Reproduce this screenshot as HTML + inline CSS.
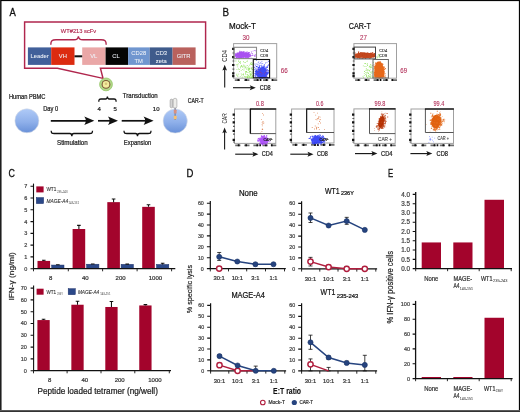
<!DOCTYPE html>
<html><head><meta charset="utf-8"><style>
html,body{margin:0;padding:0;background:#fff;}
svg{display:block;font-family:"Liberation Sans", sans-serif;will-change:transform;}
</style></head><body>
<svg width="520" height="412" viewBox="0 0 520 412">
<rect width="520" height="412" fill="#fff"/>
<text x="9.40" y="15.60" font-size="10.9" fill="#111" textLength="6.3" lengthAdjust="spacingAndGlyphs" stroke="#111" stroke-width="0.3">A</text>
<path d="M24.6,22 H205.6 V68.2 H100.4 L103,78.4 L57.5,68.2 H24.6 Z" fill="none" stroke="#b0264d" stroke-width="1.45"/>
<text x="60.80" y="32.70" font-size="6.2" fill="#b0264d" textLength="35.4" lengthAdjust="spacingAndGlyphs" stroke="#b0264d" stroke-width="0.15">WT#213 scFv</text>
<path d="M50.8,44.8 C50.8,40.5 52,39.8 56,39.8 H74 C77,39.8 78.2,38.5 78.4,36.2 C78.6,38.5 79.8,39.8 83,39.8 H101 C105,39.8 106.2,40.5 106.2,44.8" fill="none" stroke="#b0264d" stroke-width="1.4"/>
<rect x="27.9" y="47.4" width="23.30" height="17.5" fill="#41609a"/>
<rect x="51.2" y="47.4" width="23.30" height="17.5" fill="#dc2b10"/>
<rect x="82.2" y="47.4" width="23.40" height="17.5" fill="#eaa7a7"/>
<rect x="105.6" y="47.4" width="22.50" height="17.5" fill="#050505"/>
<rect x="128.1" y="47.4" width="21.60" height="17.5" fill="#7096cf"/>
<rect x="149.7" y="47.4" width="22.90" height="17.5" fill="#3f5b8b"/>
<rect x="172.6" y="47.4" width="23.00" height="17.5" fill="#b9615d"/>
<rect x="74.5" y="55.3" width="7.7" height="2" fill="#111"/>
<text x="39.60" y="58.40" font-size="5.8" fill="#eef2f8" text-anchor="middle" textLength="18.3" lengthAdjust="spacingAndGlyphs" stroke="#eef2f8" stroke-width="0.06">Leader</text>
<text x="62.90" y="58.40" font-size="5.8" fill="#eef2f8" text-anchor="middle" stroke="#eef2f8" stroke-width="0.06">VH</text>
<text x="93.70" y="58.40" font-size="5.8" fill="#eef2f8" text-anchor="middle" stroke="#eef2f8" stroke-width="0.06">VL</text>
<text x="116.00" y="58.40" font-size="5.8" fill="#eef2f8" text-anchor="middle" stroke="#eef2f8" stroke-width="0.06">CL</text>
<text x="138.70" y="55.20" font-size="5.8" fill="#eef2f8" text-anchor="middle" stroke="#eef2f8" stroke-width="0.06">CD28</text>
<text x="138.70" y="62.60" font-size="5.8" fill="#eef2f8" text-anchor="middle" stroke="#eef2f8" stroke-width="0.06">TM</text>
<text x="161.30" y="55.20" font-size="5.8" fill="#eef2f8" text-anchor="middle" stroke="#eef2f8" stroke-width="0.06">CD3</text>
<text x="161.30" y="62.60" font-size="5.8" fill="#eef2f8" text-anchor="middle" stroke="#eef2f8" stroke-width="0.06">zeta</text>
<text x="183.60" y="58.40" font-size="5.8" fill="#eef2f8" text-anchor="middle" stroke="#eef2f8" stroke-width="0.06">GITR</text>
<circle cx="106" cy="84.4" r="6.4" fill="#b3d88a" stroke="#96c668" stroke-width="0.8"/>
<circle cx="106" cy="84.4" r="4.4" fill="#7d5836"/>
<circle cx="106" cy="84.4" r="3.3" fill="#f3ec9e"/>
<circle cx="106" cy="83.8" r="1.3" fill="#d6c47a"/>
<text x="8.90" y="99.00" font-size="6.4" fill="#222" textLength="36.6" lengthAdjust="spacingAndGlyphs" stroke="#222" stroke-width="0.22">Human PBMC</text>
<defs><linearGradient id="cg" x1="0" y1="0" x2="0" y2="1"><stop offset="0" stop-color="#afcaf7"/><stop offset="0.55" stop-color="#8fb0ea"/><stop offset="1" stop-color="#6890d8"/></linearGradient></defs>
<circle cx="26.9" cy="120.8" r="12.0" fill="url(#cg)" stroke="#d6dbe6" stroke-width="0.6"/>
<text x="43.20" y="110.70" font-size="6.4" fill="#222" textLength="14.9" lengthAdjust="spacingAndGlyphs" stroke="#222" stroke-width="0.22">Day 0</text>
<text x="97.60" y="110.50" font-size="6.0" fill="#222" stroke="#222" stroke-width="0.22">4</text>
<text x="113.60" y="110.50" font-size="6.0" fill="#222" stroke="#222" stroke-width="0.22">5</text>
<text x="152.80" y="110.50" font-size="6.0" fill="#222" stroke="#222" stroke-width="0.22">10</text>
<path d="M50.8,120.8 H86.3" stroke="#111" stroke-width="1.7"/>
<path d="M94.3,120.8 L84.3,116.6 Q87.3,120.8 84.3,125.0 Z" fill="#111"/>
<path d="M98.0,120.8 H110.0" stroke="#111" stroke-width="1.7"/>
<path d="M118.0,120.8 L108.0,116.6 Q111.0,120.8 108.0,125.0 Z" fill="#111"/>
<path d="M121.7,120.8 H145.6" stroke="#111" stroke-width="1.7"/>
<path d="M153.6,120.8 L143.6,116.6 Q146.6,120.8 143.6,125.0 Z" fill="#111"/>
<path d="M51.2,130.8 C51.2,133.5 52.2,133.5 54.2,133.5 H69.85 C71.25,133.5 71.85,134.0 71.85,136.2 C71.85,134.0 72.44999999999999,133.5 73.85,133.5 H89.5 C91.5,133.5 92.5,133.5 92.5,130.8" fill="none" stroke="#111" stroke-width="1.3"/>
<path d="M124.0,130.8 C124.0,133.5 125.0,133.5 127.0,133.5 H135.5 C136.9,133.5 137.5,134.0 137.5,136.2 C137.5,134.0 138.1,133.5 139.5,133.5 H148.0 C150.0,133.5 151.0,133.5 151.0,130.8" fill="none" stroke="#111" stroke-width="1.3"/>
<path d="M98.8,101.8 C98.8,99.3 99.3,99 101,99 H105.6 C106.8,99 107.2,98.4 107.4,96.5 C107.6,98.4 108,99 109.2,99 H114 C115.6,99 116.1,99.3 116.1,101.8" fill="none" stroke="#111" stroke-width="1.3"/>
<text x="57.00" y="145.00" font-size="6.4" fill="#222" textLength="30.8" lengthAdjust="spacingAndGlyphs" stroke="#222" stroke-width="0.22">Stimulation</text>
<text x="123.80" y="145.30" font-size="6.4" fill="#222" textLength="27.5" lengthAdjust="spacingAndGlyphs" stroke="#222" stroke-width="0.22">Expansion</text>
<text x="122.80" y="98.20" font-size="6.4" fill="#222" textLength="34.9" lengthAdjust="spacingAndGlyphs" stroke="#222" stroke-width="0.22">Transduction</text>
<circle cx="175.2" cy="121.0" r="12.1" fill="url(#cg)" stroke="#d6dbe6" stroke-width="0.6"/>
<rect x="170.1" y="99.1" width="2.8" height="8.7" rx="1.4" fill="#d4d4d4" stroke="#8c8c8c" stroke-width="0.5"/>
<rect x="173.2" y="98.3" width="3.7" height="9.9" rx="1.7" fill="#ededea" stroke="#8c8c8c" stroke-width="0.5"/>
<path d="M175.1,107.8 V120" stroke="#4a5470" stroke-width="0.7"/>
<rect x="173.8" y="109.7" width="2.8" height="3.8" rx="0.5" fill="#d8907f"/>
<rect x="173.8" y="115.7" width="2.8" height="3.6" rx="0.5" fill="#f7c070"/>
<text x="187.80" y="102.80" font-size="6.4" fill="#222" textLength="15.8" lengthAdjust="spacingAndGlyphs" stroke="#222" stroke-width="0.22">CAR-T</text>
<text x="222.60" y="15.70" font-size="10.9" fill="#111" textLength="6.55" lengthAdjust="spacingAndGlyphs" stroke="#111" stroke-width="0.3">B</text>
<text x="229.00" y="28.80" font-size="8.2" fill="#111" textLength="26.8" lengthAdjust="spacingAndGlyphs" stroke="#111" stroke-width="0.22">Mock-T</text>
<text x="348.80" y="29.00" font-size="8.2" fill="#111" textLength="22.0" lengthAdjust="spacingAndGlyphs" stroke="#111" stroke-width="0.22">CAR-T</text>
<rect x="233.6" y="43.6" width="43.10" height="34.60" fill="#fff" stroke="#a0a0a0" stroke-width="1.0"/>
<path d="M232.1 47.8h2.3v2.2h-2.3zM232.1 56.1h2.3v2.2h-2.3zM232.1 63.9h2.3v2.2h-2.3zM232.1 72.3h2.3v2.2h-2.3zM232.1 75.1h2.3v2.2h-2.3z" fill="#111"/>
<path d="M232.5 52.4h1.8v1.2h-1.8zM232.5 60.4h1.8v1.2h-1.8zM232.5 68.6h1.8v1.2h-1.8z" fill="#555"/>
<path d="M234.8 79.2h5.2v1.8h-5.2zM244.2 79.2h5.2v1.8h-5.2zM253.6 79.2h5.2v1.8h-5.2zM263.0 79.2h5.2v1.8h-5.2zM272.0 79.2h5.2v1.8h-5.2z" fill="#555" fill-opacity="0.85"/>
<path d="M237.5 79.0h1.7v2.1h-1.7zM245.2 79.0h1.7v2.1h-1.7zM256.7 79.0h1.7v2.1h-1.7zM259.7 79.0h1.7v2.1h-1.7zM265.7 79.0h1.7v2.1h-1.7zM271.6 79.0h1.7v2.1h-1.7z" fill="#111"/>
<path d="M236.5 68.9h0.8v0.8h-0.8zM243.1 61.2h0.8v0.8h-0.8zM242.9 74.6h0.8v0.8h-0.8zM247.4 67.5h0.8v0.8h-0.8zM245.7 68.0h0.8v0.8h-0.8zM249.4 72.3h0.8v0.8h-0.8zM238.2 68.6h0.8v0.8h-0.8zM250.2 76.6h0.8v0.8h-0.8zM242.4 67.0h0.8v0.8h-0.8zM246.6 61.1h0.8v0.8h-0.8zM237.3 66.4h0.8v0.8h-0.8zM250.8 70.8h0.8v0.8h-0.8zM243.7 68.5h0.8v0.8h-0.8zM250.0 62.8h0.8v0.8h-0.8zM252.1 69.3h0.8v0.8h-0.8zM252.6 75.2h0.8v0.8h-0.8zM240.1 66.5h0.8v0.8h-0.8zM252.7 75.0h0.8v0.8h-0.8zM249.8 73.0h0.8v0.8h-0.8zM244.6 66.3h0.8v0.8h-0.8zM247.6 76.8h0.8v0.8h-0.8zM251.3 74.8h0.8v0.8h-0.8zM246.9 74.1h0.8v0.8h-0.8zM248.6 68.4h0.8v0.8h-0.8zM252.5 67.0h0.8v0.8h-0.8zM252.1 72.8h0.8v0.8h-0.8zM252.7 71.6h0.8v0.8h-0.8zM245.1 62.3h0.8v0.8h-0.8zM252.5 71.4h0.8v0.8h-0.8zM250.0 63.7h0.8v0.8h-0.8zM240.0 67.4h0.8v0.8h-0.8zM245.7 75.9h0.8v0.8h-0.8zM251.6 68.8h0.8v0.8h-0.8zM245.2 73.8h0.8v0.8h-0.8zM248.8 76.1h0.8v0.8h-0.8zM250.8 76.6h0.8v0.8h-0.8zM236.8 64.2h0.8v0.8h-0.8zM246.4 69.0h0.8v0.8h-0.8zM237.3 64.7h0.8v0.8h-0.8zM249.1 64.8h0.8v0.8h-0.8zM245.5 72.3h0.8v0.8h-0.8zM239.7 61.9h0.8v0.8h-0.8zM240.8 73.4h0.8v0.8h-0.8zM235.8 64.4h0.8v0.8h-0.8zM248.3 69.7h0.8v0.8h-0.8zM243.8 76.4h0.8v0.8h-0.8zM247.5 77.3h0.8v0.8h-0.8zM242.6 66.1h0.8v0.8h-0.8zM240.0 62.9h0.8v0.8h-0.8zM250.2 75.3h0.8v0.8h-0.8zM240.9 66.3h0.8v0.8h-0.8zM239.0 68.9h0.8v0.8h-0.8zM250.9 66.9h0.8v0.8h-0.8zM247.5 72.2h0.8v0.8h-0.8zM252.6 68.7h0.8v0.8h-0.8zM246.3 71.3h0.8v0.8h-0.8zM240.8 70.0h0.8v0.8h-0.8zM247.6 71.9h0.8v0.8h-0.8zM237.6 75.7h0.8v0.8h-0.8zM252.6 76.5h0.8v0.8h-0.8zM243.4 64.7h0.8v0.8h-0.8zM251.0 72.4h0.8v0.8h-0.8zM251.2 68.6h0.8v0.8h-0.8zM241.0 74.8h0.8v0.8h-0.8zM248.6 74.8h0.8v0.8h-0.8zM253.0 70.4h0.8v0.8h-0.8zM243.0 64.8h0.8v0.8h-0.8zM251.9 64.4h0.8v0.8h-0.8zM252.2 75.6h0.8v0.8h-0.8zM245.1 72.7h0.8v0.8h-0.8zM246.8 65.0h0.8v0.8h-0.8zM251.4 68.7h0.8v0.8h-0.8zM251.4 77.5h0.8v0.8h-0.8zM237.9 63.4h0.8v0.8h-0.8zM250.6 63.8h0.8v0.8h-0.8zM239.8 61.9h0.8v0.8h-0.8zM243.5 69.7h0.8v0.8h-0.8zM246.8 65.3h0.8v0.8h-0.8zM245.7 66.8h0.8v0.8h-0.8zM251.0 68.4h0.8v0.8h-0.8zM247.3 67.4h0.8v0.8h-0.8zM247.2 76.3h0.8v0.8h-0.8zM248.4 68.9h0.8v0.8h-0.8zM247.1 76.7h0.8v0.8h-0.8zM238.0 60.9h0.8v0.8h-0.8zM241.7 76.8h0.8v0.8h-0.8zM249.9 74.5h0.8v0.8h-0.8zM249.7 73.5h0.8v0.8h-0.8zM241.0 64.9h0.8v0.8h-0.8zM248.7 76.1h0.8v0.8h-0.8zM244.1 76.3h0.8v0.8h-0.8zM249.0 70.7h0.8v0.8h-0.8zM239.8 61.1h0.8v0.8h-0.8zM251.0 77.4h0.8v0.8h-0.8zM247.9 67.9h0.8v0.8h-0.8zM246.9 77.4h0.8v0.8h-0.8zM245.7 76.4h0.8v0.8h-0.8zM250.7 67.9h0.8v0.8h-0.8zM249.1 76.6h0.8v0.8h-0.8zM245.9 70.9h0.8v0.8h-0.8zM245.1 71.2h0.8v0.8h-0.8zM242.9 74.4h0.8v0.8h-0.8zM250.9 68.1h0.8v0.8h-0.8zM242.0 68.9h0.8v0.8h-0.8zM252.4 63.5h0.8v0.8h-0.8zM252.0 77.2h0.8v0.8h-0.8zM238.3 73.8h0.8v0.8h-0.8zM244.6 66.8h0.8v0.8h-0.8zM236.2 74.8h0.8v0.8h-0.8zM249.1 68.1h0.8v0.8h-0.8zM243.8 61.9h0.8v0.8h-0.8zM242.1 76.7h0.8v0.8h-0.8zM250.5 77.5h0.8v0.8h-0.8zM251.6 63.7h0.8v0.8h-0.8zM244.4 65.6h0.8v0.8h-0.8zM247.4 75.8h0.8v0.8h-0.8zM242.4 74.0h0.8v0.8h-0.8zM252.8 70.2h0.8v0.8h-0.8zM248.9 67.8h0.8v0.8h-0.8zM245.8 71.7h0.8v0.8h-0.8zM235.5 60.6h0.8v0.8h-0.8zM251.2 62.3h0.8v0.8h-0.8zM246.9 60.4h0.8v0.8h-0.8zM250.7 73.8h0.8v0.8h-0.8zM239.8 75.9h0.8v0.8h-0.8zM244.8 67.1h0.8v0.8h-0.8zM236.5 73.7h0.8v0.8h-0.8zM245.1 76.6h0.8v0.8h-0.8zM246.7 74.3h0.8v0.8h-0.8zM240.9 65.3h0.8v0.8h-0.8zM251.1 73.8h0.8v0.8h-0.8zM249.3 69.2h0.8v0.8h-0.8zM246.7 77.0h0.8v0.8h-0.8zM247.7 75.1h0.8v0.8h-0.8zM248.2 70.0h0.8v0.8h-0.8zM239.2 71.0h0.8v0.8h-0.8zM251.4 62.5h0.8v0.8h-0.8zM238.0 60.5h0.8v0.8h-0.8zM251.5 76.6h0.8v0.8h-0.8zM239.1 62.0h0.8v0.8h-0.8zM250.3 74.3h0.8v0.8h-0.8zM249.9 71.1h0.8v0.8h-0.8zM248.0 66.5h0.8v0.8h-0.8zM243.1 73.6h0.8v0.8h-0.8zM247.8 69.5h0.8v0.8h-0.8zM248.8 77.2h0.8v0.8h-0.8zM249.3 71.1h0.8v0.8h-0.8zM237.0 75.6h0.8v0.8h-0.8zM241.6 65.7h0.8v0.8h-0.8zM251.0 64.2h0.8v0.8h-0.8z" fill="#8fe35a" fill-opacity="0.95"/>
<path d="M251.8 55.3h0.8v0.8h-0.8zM255.1 50.4h0.8v0.8h-0.8zM250.9 51.2h0.8v0.8h-0.8zM252.0 53.7h0.8v0.8h-0.8zM251.0 52.0h0.8v0.8h-0.8zM251.1 57.8h0.8v0.8h-0.8zM254.4 49.9h0.8v0.8h-0.8zM255.8 49.9h0.8v0.8h-0.8zM252.3 57.9h0.8v0.8h-0.8zM254.8 55.6h0.8v0.8h-0.8zM252.6 50.8h0.8v0.8h-0.8zM253.8 50.0h0.8v0.8h-0.8z" fill="#9426ee" fill-opacity="0.6"/>
<path d="M242.5 55.8h1.0v1.0h-1.0zM245.3 54.8h1.0v1.0h-1.0zM243.0 52.4h1.0v1.0h-1.0zM236.0 54.5h1.0v1.0h-1.0zM239.4 54.7h1.0v1.0h-1.0zM238.3 53.6h1.0v1.0h-1.0zM241.0 51.4h1.0v1.0h-1.0zM236.9 55.3h1.0v1.0h-1.0zM241.5 53.0h1.0v1.0h-1.0zM242.3 56.7h1.0v1.0h-1.0zM246.4 52.8h1.0v1.0h-1.0zM239.1 51.9h1.0v1.0h-1.0zM239.1 52.7h1.0v1.0h-1.0zM238.3 54.8h1.0v1.0h-1.0zM240.3 54.0h1.0v1.0h-1.0zM235.5 55.7h1.0v1.0h-1.0zM240.2 52.6h1.0v1.0h-1.0zM241.5 56.0h1.0v1.0h-1.0zM236.3 55.0h1.0v1.0h-1.0zM236.6 55.6h1.0v1.0h-1.0zM243.7 54.1h1.0v1.0h-1.0zM237.7 52.5h1.0v1.0h-1.0zM238.0 55.5h1.0v1.0h-1.0zM242.6 54.4h1.0v1.0h-1.0zM239.3 54.3h1.0v1.0h-1.0zM243.3 51.2h1.0v1.0h-1.0zM239.7 54.4h1.0v1.0h-1.0zM237.2 53.7h1.0v1.0h-1.0zM240.5 52.9h1.0v1.0h-1.0zM236.8 52.5h1.0v1.0h-1.0zM237.5 54.3h1.0v1.0h-1.0zM244.0 54.2h1.0v1.0h-1.0zM239.9 53.2h1.0v1.0h-1.0zM241.7 53.8h1.0v1.0h-1.0zM245.1 54.4h1.0v1.0h-1.0zM244.4 54.9h1.0v1.0h-1.0zM241.0 54.6h1.0v1.0h-1.0zM237.9 55.2h1.0v1.0h-1.0zM240.3 53.3h1.0v1.0h-1.0zM241.2 55.5h1.0v1.0h-1.0zM241.0 51.2h1.0v1.0h-1.0zM238.8 54.3h1.0v1.0h-1.0zM242.7 53.2h1.0v1.0h-1.0zM242.0 55.2h1.0v1.0h-1.0zM242.7 52.0h1.0v1.0h-1.0zM238.6 53.3h1.0v1.0h-1.0zM238.9 54.1h1.0v1.0h-1.0zM245.0 54.2h1.0v1.0h-1.0zM236.9 52.5h1.0v1.0h-1.0zM243.3 53.1h1.0v1.0h-1.0zM240.1 56.2h1.0v1.0h-1.0zM246.7 56.4h1.0v1.0h-1.0zM236.8 56.7h1.0v1.0h-1.0zM241.1 55.9h1.0v1.0h-1.0zM241.4 56.0h1.0v1.0h-1.0zM241.6 54.6h1.0v1.0h-1.0zM240.9 53.4h1.0v1.0h-1.0zM241.6 55.7h1.0v1.0h-1.0zM237.4 54.7h1.0v1.0h-1.0zM237.8 52.9h1.0v1.0h-1.0zM235.7 56.9h1.0v1.0h-1.0zM242.3 54.1h1.0v1.0h-1.0zM245.5 51.8h1.0v1.0h-1.0zM242.0 53.7h1.0v1.0h-1.0zM244.2 52.8h1.0v1.0h-1.0zM242.1 54.5h1.0v1.0h-1.0zM246.9 53.9h1.0v1.0h-1.0zM241.5 55.1h1.0v1.0h-1.0zM243.3 55.3h1.0v1.0h-1.0zM242.1 53.2h1.0v1.0h-1.0zM246.3 57.0h1.0v1.0h-1.0zM242.1 53.7h1.0v1.0h-1.0zM245.6 53.3h1.0v1.0h-1.0zM242.6 52.5h1.0v1.0h-1.0zM246.9 53.0h1.0v1.0h-1.0zM242.9 53.7h1.0v1.0h-1.0zM239.8 52.9h1.0v1.0h-1.0zM241.3 53.0h1.0v1.0h-1.0zM245.2 53.3h1.0v1.0h-1.0zM241.2 55.5h1.0v1.0h-1.0zM244.4 55.8h1.0v1.0h-1.0zM245.6 55.1h1.0v1.0h-1.0zM244.3 55.8h1.0v1.0h-1.0zM236.6 54.5h1.0v1.0h-1.0zM241.8 54.4h1.0v1.0h-1.0zM243.9 53.2h1.0v1.0h-1.0zM236.2 53.7h1.0v1.0h-1.0zM243.5 53.4h1.0v1.0h-1.0zM246.4 55.4h1.0v1.0h-1.0zM240.9 54.2h1.0v1.0h-1.0zM236.9 53.2h1.0v1.0h-1.0zM244.7 54.0h1.0v1.0h-1.0zM246.1 54.3h1.0v1.0h-1.0zM247.6 55.0h1.0v1.0h-1.0zM239.0 53.6h1.0v1.0h-1.0zM243.9 53.5h1.0v1.0h-1.0zM236.8 54.8h1.0v1.0h-1.0zM241.8 53.5h1.0v1.0h-1.0zM237.7 55.1h1.0v1.0h-1.0zM234.6 53.6h1.0v1.0h-1.0zM239.6 57.0h1.0v1.0h-1.0zM237.7 55.4h1.0v1.0h-1.0zM240.9 56.1h1.0v1.0h-1.0zM247.1 54.2h1.0v1.0h-1.0zM242.4 53.3h1.0v1.0h-1.0zM240.2 55.6h1.0v1.0h-1.0zM236.8 53.5h1.0v1.0h-1.0zM241.7 54.1h1.0v1.0h-1.0zM240.1 51.6h1.0v1.0h-1.0zM240.3 54.4h1.0v1.0h-1.0zM241.4 54.6h1.0v1.0h-1.0zM244.7 57.4h1.0v1.0h-1.0zM237.1 53.2h1.0v1.0h-1.0zM243.6 51.5h1.0v1.0h-1.0zM237.4 53.2h1.0v1.0h-1.0zM237.3 53.0h1.0v1.0h-1.0zM236.7 53.3h1.0v1.0h-1.0zM242.9 56.5h1.0v1.0h-1.0zM235.1 55.1h1.0v1.0h-1.0zM243.5 55.0h1.0v1.0h-1.0zM248.1 55.1h1.0v1.0h-1.0zM246.4 53.4h1.0v1.0h-1.0zM236.6 56.4h1.0v1.0h-1.0zM242.6 52.7h1.0v1.0h-1.0zM241.3 55.7h1.0v1.0h-1.0zM238.5 55.1h1.0v1.0h-1.0zM236.4 55.3h1.0v1.0h-1.0zM242.7 54.3h1.0v1.0h-1.0zM240.5 54.3h1.0v1.0h-1.0zM246.7 56.2h1.0v1.0h-1.0zM240.9 54.6h1.0v1.0h-1.0zM237.5 55.7h1.0v1.0h-1.0zM251.6 53.0h1.0v1.0h-1.0zM237.5 54.7h1.0v1.0h-1.0zM246.0 55.7h1.0v1.0h-1.0zM242.0 55.3h1.0v1.0h-1.0zM241.9 54.5h1.0v1.0h-1.0zM240.7 53.8h1.0v1.0h-1.0zM243.1 54.4h1.0v1.0h-1.0zM242.9 54.0h1.0v1.0h-1.0zM247.7 54.7h1.0v1.0h-1.0zM241.8 56.8h1.0v1.0h-1.0zM242.0 54.9h1.0v1.0h-1.0zM242.4 52.3h1.0v1.0h-1.0zM245.4 52.7h1.0v1.0h-1.0zM246.2 55.5h1.0v1.0h-1.0zM240.4 53.0h1.0v1.0h-1.0zM244.2 54.1h1.0v1.0h-1.0zM247.5 54.0h1.0v1.0h-1.0zM242.2 54.5h1.0v1.0h-1.0zM237.3 52.4h1.0v1.0h-1.0zM244.5 55.1h1.0v1.0h-1.0zM241.2 53.7h1.0v1.0h-1.0zM244.4 53.3h1.0v1.0h-1.0zM245.0 55.0h1.0v1.0h-1.0zM237.8 53.8h1.0v1.0h-1.0zM240.5 53.8h1.0v1.0h-1.0zM242.6 53.2h1.0v1.0h-1.0zM238.1 52.9h1.0v1.0h-1.0zM238.1 55.2h1.0v1.0h-1.0zM243.6 51.2h1.0v1.0h-1.0zM242.6 52.7h1.0v1.0h-1.0zM241.1 55.0h1.0v1.0h-1.0zM247.5 54.1h1.0v1.0h-1.0zM243.1 53.4h1.0v1.0h-1.0zM244.1 52.8h1.0v1.0h-1.0zM240.0 55.9h1.0v1.0h-1.0zM244.4 53.6h1.0v1.0h-1.0zM239.4 52.8h1.0v1.0h-1.0zM247.1 53.0h1.0v1.0h-1.0zM241.5 54.6h1.0v1.0h-1.0zM241.2 56.0h1.0v1.0h-1.0zM235.4 53.2h1.0v1.0h-1.0zM242.4 54.2h1.0v1.0h-1.0zM245.1 52.3h1.0v1.0h-1.0zM244.9 53.1h1.0v1.0h-1.0zM240.4 57.2h1.0v1.0h-1.0zM243.6 52.5h1.0v1.0h-1.0zM244.6 53.8h1.0v1.0h-1.0zM245.8 55.4h1.0v1.0h-1.0zM242.3 53.6h1.0v1.0h-1.0zM241.5 51.3h1.0v1.0h-1.0zM242.0 56.4h1.0v1.0h-1.0zM239.6 53.1h1.0v1.0h-1.0zM242.3 55.5h1.0v1.0h-1.0zM241.5 52.0h1.0v1.0h-1.0zM239.9 54.7h1.0v1.0h-1.0zM243.8 52.2h1.0v1.0h-1.0zM242.1 56.3h1.0v1.0h-1.0zM248.0 52.7h1.0v1.0h-1.0zM237.1 54.3h1.0v1.0h-1.0zM239.4 54.0h1.0v1.0h-1.0zM242.4 55.3h1.0v1.0h-1.0zM240.4 53.2h1.0v1.0h-1.0zM237.9 53.9h1.0v1.0h-1.0zM239.3 54.4h1.0v1.0h-1.0zM254.3 55.8h1.0v1.0h-1.0zM240.2 55.0h1.0v1.0h-1.0zM236.9 52.7h1.0v1.0h-1.0zM244.4 56.1h1.0v1.0h-1.0zM238.8 55.9h1.0v1.0h-1.0zM242.5 54.5h1.0v1.0h-1.0zM249.3 54.3h1.0v1.0h-1.0zM236.5 54.7h1.0v1.0h-1.0zM241.0 56.9h1.0v1.0h-1.0zM242.3 51.9h1.0v1.0h-1.0zM244.4 54.3h1.0v1.0h-1.0zM244.0 54.7h1.0v1.0h-1.0zM242.2 55.0h1.0v1.0h-1.0zM246.2 55.1h1.0v1.0h-1.0zM244.5 53.4h1.0v1.0h-1.0zM249.6 53.5h1.0v1.0h-1.0zM246.3 55.2h1.0v1.0h-1.0zM239.9 54.9h1.0v1.0h-1.0zM244.4 54.2h1.0v1.0h-1.0zM236.4 53.7h1.0v1.0h-1.0zM247.1 53.9h1.0v1.0h-1.0zM238.2 55.5h1.0v1.0h-1.0zM246.9 57.6h1.0v1.0h-1.0zM244.3 54.4h1.0v1.0h-1.0zM244.4 54.8h1.0v1.0h-1.0zM236.5 56.9h1.0v1.0h-1.0zM247.6 53.0h1.0v1.0h-1.0zM248.1 55.2h1.0v1.0h-1.0zM240.1 52.5h1.0v1.0h-1.0zM242.8 54.5h1.0v1.0h-1.0zM245.5 56.4h1.0v1.0h-1.0zM246.9 53.7h1.0v1.0h-1.0zM239.9 56.3h1.0v1.0h-1.0zM241.6 53.8h1.0v1.0h-1.0zM240.2 55.5h1.0v1.0h-1.0zM244.7 55.6h1.0v1.0h-1.0zM242.9 55.4h1.0v1.0h-1.0zM245.2 56.1h1.0v1.0h-1.0zM247.7 54.7h1.0v1.0h-1.0zM241.9 54.9h1.0v1.0h-1.0zM244.0 54.1h1.0v1.0h-1.0zM248.7 53.4h1.0v1.0h-1.0zM243.1 54.0h1.0v1.0h-1.0zM239.8 54.7h1.0v1.0h-1.0zM248.3 53.3h1.0v1.0h-1.0zM238.5 53.4h1.0v1.0h-1.0zM237.6 56.7h1.0v1.0h-1.0zM236.1 54.8h1.0v1.0h-1.0zM243.2 55.3h1.0v1.0h-1.0zM247.3 55.3h1.0v1.0h-1.0zM239.4 54.2h1.0v1.0h-1.0zM243.6 53.7h1.0v1.0h-1.0zM239.6 54.9h1.0v1.0h-1.0zM240.5 57.2h1.0v1.0h-1.0zM240.3 55.2h1.0v1.0h-1.0zM238.1 54.6h1.0v1.0h-1.0zM243.1 54.1h1.0v1.0h-1.0zM242.8 54.4h1.0v1.0h-1.0zM246.1 53.2h1.0v1.0h-1.0zM242.6 56.0h1.0v1.0h-1.0zM240.8 55.6h1.0v1.0h-1.0zM242.6 55.8h1.0v1.0h-1.0zM255.3 54.2h1.0v1.0h-1.0zM243.1 54.2h1.0v1.0h-1.0zM239.5 57.4h1.0v1.0h-1.0zM247.4 55.3h1.0v1.0h-1.0zM238.6 58.2h1.0v1.0h-1.0zM248.5 54.8h1.0v1.0h-1.0zM240.3 55.1h1.0v1.0h-1.0zM248.9 54.5h1.0v1.0h-1.0zM239.0 54.4h1.0v1.0h-1.0zM242.5 56.3h1.0v1.0h-1.0zM243.1 55.2h1.0v1.0h-1.0zM242.3 52.3h1.0v1.0h-1.0zM242.0 55.0h1.0v1.0h-1.0zM246.1 55.5h1.0v1.0h-1.0zM238.4 54.5h1.0v1.0h-1.0zM243.0 56.4h1.0v1.0h-1.0zM239.6 52.0h1.0v1.0h-1.0zM239.2 54.0h1.0v1.0h-1.0zM247.3 55.4h1.0v1.0h-1.0zM236.3 55.7h1.0v1.0h-1.0zM248.2 55.4h1.0v1.0h-1.0zM237.7 56.8h1.0v1.0h-1.0zM244.5 53.3h1.0v1.0h-1.0zM250.0 54.8h1.0v1.0h-1.0zM241.2 55.4h1.0v1.0h-1.0zM243.3 53.3h1.0v1.0h-1.0zM243.4 55.7h1.0v1.0h-1.0zM241.2 54.4h1.0v1.0h-1.0zM237.3 54.3h1.0v1.0h-1.0zM239.5 54.4h1.0v1.0h-1.0zM239.9 52.0h1.0v1.0h-1.0zM243.8 53.6h1.0v1.0h-1.0zM240.6 53.2h1.0v1.0h-1.0zM241.5 54.0h1.0v1.0h-1.0zM248.2 52.0h1.0v1.0h-1.0zM236.8 54.6h1.0v1.0h-1.0zM236.7 54.2h1.0v1.0h-1.0zM251.6 55.0h1.0v1.0h-1.0zM241.9 55.4h1.0v1.0h-1.0zM243.9 55.1h1.0v1.0h-1.0zM241.9 54.2h1.0v1.0h-1.0zM246.5 55.7h1.0v1.0h-1.0zM241.7 54.7h1.0v1.0h-1.0zM237.4 53.4h1.0v1.0h-1.0zM235.5 54.2h1.0v1.0h-1.0zM247.8 56.2h1.0v1.0h-1.0zM241.3 54.1h1.0v1.0h-1.0zM244.8 55.6h1.0v1.0h-1.0zM238.3 54.5h1.0v1.0h-1.0zM244.4 55.5h1.0v1.0h-1.0zM244.9 55.9h1.0v1.0h-1.0zM242.9 53.9h1.0v1.0h-1.0zM235.7 53.5h1.0v1.0h-1.0zM245.2 56.7h1.0v1.0h-1.0zM245.1 54.0h1.0v1.0h-1.0zM234.9 55.8h1.0v1.0h-1.0zM237.6 54.3h1.0v1.0h-1.0zM247.8 53.6h1.0v1.0h-1.0zM240.0 55.4h1.0v1.0h-1.0zM239.4 55.8h1.0v1.0h-1.0zM248.5 54.2h1.0v1.0h-1.0zM247.6 53.2h1.0v1.0h-1.0zM242.2 54.1h1.0v1.0h-1.0zM244.2 54.1h1.0v1.0h-1.0zM236.6 55.4h1.0v1.0h-1.0zM238.3 55.8h1.0v1.0h-1.0zM245.3 55.1h1.0v1.0h-1.0zM240.7 54.5h1.0v1.0h-1.0zM248.1 57.3h1.0v1.0h-1.0zM243.0 51.3h1.0v1.0h-1.0zM236.7 52.6h1.0v1.0h-1.0zM247.6 52.6h1.0v1.0h-1.0zM247.0 54.9h1.0v1.0h-1.0zM240.9 56.6h1.0v1.0h-1.0zM240.8 56.2h1.0v1.0h-1.0zM246.3 53.6h1.0v1.0h-1.0zM241.5 56.2h1.0v1.0h-1.0zM240.7 55.7h1.0v1.0h-1.0zM240.3 53.9h1.0v1.0h-1.0zM238.4 54.4h1.0v1.0h-1.0zM236.8 54.9h1.0v1.0h-1.0zM242.7 55.1h1.0v1.0h-1.0zM243.7 55.4h1.0v1.0h-1.0zM238.8 55.1h1.0v1.0h-1.0zM241.6 55.1h1.0v1.0h-1.0zM237.6 53.3h1.0v1.0h-1.0zM240.0 53.7h1.0v1.0h-1.0zM240.4 53.0h1.0v1.0h-1.0zM236.4 53.9h1.0v1.0h-1.0zM238.2 54.7h1.0v1.0h-1.0zM241.6 55.5h1.0v1.0h-1.0zM237.7 54.4h1.0v1.0h-1.0zM241.0 54.4h1.0v1.0h-1.0zM236.8 56.7h1.0v1.0h-1.0zM241.9 56.3h1.0v1.0h-1.0zM238.3 54.6h1.0v1.0h-1.0zM244.8 54.4h1.0v1.0h-1.0zM241.8 53.7h1.0v1.0h-1.0zM248.7 55.7h1.0v1.0h-1.0zM240.2 54.7h1.0v1.0h-1.0zM238.3 55.5h1.0v1.0h-1.0zM241.3 53.8h1.0v1.0h-1.0zM243.0 58.0h1.0v1.0h-1.0zM241.3 53.7h1.0v1.0h-1.0zM239.6 55.6h1.0v1.0h-1.0zM239.1 52.8h1.0v1.0h-1.0zM245.8 52.4h1.0v1.0h-1.0zM235.1 54.2h1.0v1.0h-1.0zM241.2 52.1h1.0v1.0h-1.0zM234.7 54.9h1.0v1.0h-1.0zM239.3 51.5h1.0v1.0h-1.0zM247.0 56.5h1.0v1.0h-1.0zM248.1 54.6h1.0v1.0h-1.0zM237.6 53.7h1.0v1.0h-1.0zM246.4 54.1h1.0v1.0h-1.0zM235.6 55.7h1.0v1.0h-1.0zM245.2 53.1h1.0v1.0h-1.0zM238.4 55.6h1.0v1.0h-1.0zM235.5 55.1h1.0v1.0h-1.0zM240.5 55.8h1.0v1.0h-1.0zM237.9 54.0h1.0v1.0h-1.0zM238.5 56.7h1.0v1.0h-1.0zM244.2 53.2h1.0v1.0h-1.0zM239.2 54.8h1.0v1.0h-1.0zM240.8 55.2h1.0v1.0h-1.0zM236.9 53.7h1.0v1.0h-1.0zM249.0 56.2h1.0v1.0h-1.0zM238.1 56.9h1.0v1.0h-1.0zM246.7 51.5h1.0v1.0h-1.0zM242.7 55.9h1.0v1.0h-1.0zM242.0 54.4h1.0v1.0h-1.0zM246.3 55.0h1.0v1.0h-1.0zM242.2 52.8h1.0v1.0h-1.0zM246.2 54.5h1.0v1.0h-1.0zM235.6 54.3h1.0v1.0h-1.0zM238.7 55.3h1.0v1.0h-1.0zM238.5 53.8h1.0v1.0h-1.0zM247.0 53.8h1.0v1.0h-1.0zM239.7 54.4h1.0v1.0h-1.0zM238.7 55.5h1.0v1.0h-1.0zM236.8 53.8h1.0v1.0h-1.0zM248.8 52.0h1.0v1.0h-1.0zM237.3 54.6h1.0v1.0h-1.0zM238.8 55.9h1.0v1.0h-1.0zM242.5 53.7h1.0v1.0h-1.0zM237.0 58.0h1.0v1.0h-1.0zM243.6 53.0h1.0v1.0h-1.0zM247.9 56.4h1.0v1.0h-1.0zM238.8 52.1h1.0v1.0h-1.0zM249.6 54.3h1.0v1.0h-1.0zM239.5 54.9h1.0v1.0h-1.0zM240.3 56.1h1.0v1.0h-1.0zM239.0 54.5h1.0v1.0h-1.0zM243.8 56.3h1.0v1.0h-1.0zM238.6 53.7h1.0v1.0h-1.0zM247.0 54.4h1.0v1.0h-1.0zM245.4 54.9h1.0v1.0h-1.0zM242.3 53.3h1.0v1.0h-1.0zM241.4 54.4h1.0v1.0h-1.0zM239.0 57.0h1.0v1.0h-1.0zM236.5 53.4h1.0v1.0h-1.0zM243.0 56.1h1.0v1.0h-1.0zM238.6 54.1h1.0v1.0h-1.0zM238.6 53.1h1.0v1.0h-1.0zM246.6 54.5h1.0v1.0h-1.0zM239.8 54.9h1.0v1.0h-1.0zM245.1 56.5h1.0v1.0h-1.0zM242.9 54.9h1.0v1.0h-1.0zM243.8 56.0h1.0v1.0h-1.0zM243.9 52.8h1.0v1.0h-1.0zM242.0 54.0h1.0v1.0h-1.0zM248.2 54.7h1.0v1.0h-1.0zM238.8 56.5h1.0v1.0h-1.0zM240.1 55.2h1.0v1.0h-1.0zM241.3 55.1h1.0v1.0h-1.0zM245.7 53.4h1.0v1.0h-1.0zM239.0 55.7h1.0v1.0h-1.0zM240.5 54.8h1.0v1.0h-1.0zM245.5 53.3h1.0v1.0h-1.0zM245.6 54.1h1.0v1.0h-1.0zM239.3 53.8h1.0v1.0h-1.0zM250.2 55.4h1.0v1.0h-1.0zM243.6 53.5h1.0v1.0h-1.0zM247.3 53.0h1.0v1.0h-1.0zM239.7 56.3h1.0v1.0h-1.0zM245.9 54.1h1.0v1.0h-1.0zM244.3 54.2h1.0v1.0h-1.0zM236.7 55.9h1.0v1.0h-1.0zM242.1 55.7h1.0v1.0h-1.0zM244.7 53.4h1.0v1.0h-1.0zM242.3 53.5h1.0v1.0h-1.0zM243.2 55.7h1.0v1.0h-1.0zM245.5 57.9h1.0v1.0h-1.0zM240.2 56.2h1.0v1.0h-1.0zM245.1 55.6h1.0v1.0h-1.0zM238.5 55.4h1.0v1.0h-1.0zM243.3 54.8h1.0v1.0h-1.0zM243.2 53.3h1.0v1.0h-1.0zM241.6 55.4h1.0v1.0h-1.0zM240.9 55.5h1.0v1.0h-1.0zM247.1 55.0h1.0v1.0h-1.0zM240.3 55.2h1.0v1.0h-1.0zM241.0 53.9h1.0v1.0h-1.0zM240.6 57.1h1.0v1.0h-1.0zM244.4 55.6h1.0v1.0h-1.0zM245.1 52.3h1.0v1.0h-1.0zM243.5 55.6h1.0v1.0h-1.0zM240.8 53.2h1.0v1.0h-1.0zM244.1 54.3h1.0v1.0h-1.0zM245.9 54.0h1.0v1.0h-1.0zM242.1 56.0h1.0v1.0h-1.0zM245.7 56.1h1.0v1.0h-1.0zM240.9 57.5h1.0v1.0h-1.0zM238.3 53.8h1.0v1.0h-1.0zM241.6 56.4h1.0v1.0h-1.0zM243.3 57.3h1.0v1.0h-1.0zM244.9 55.7h1.0v1.0h-1.0zM238.5 54.2h1.0v1.0h-1.0zM242.0 53.1h1.0v1.0h-1.0zM238.7 53.0h1.0v1.0h-1.0zM240.1 55.8h1.0v1.0h-1.0zM243.6 54.9h1.0v1.0h-1.0zM243.5 53.5h1.0v1.0h-1.0zM240.5 53.9h1.0v1.0h-1.0zM238.1 54.0h1.0v1.0h-1.0zM238.2 54.5h1.0v1.0h-1.0zM244.6 55.0h1.0v1.0h-1.0zM241.8 55.2h1.0v1.0h-1.0zM240.8 53.4h1.0v1.0h-1.0zM242.8 51.6h1.0v1.0h-1.0zM242.8 53.9h1.0v1.0h-1.0zM241.3 54.8h1.0v1.0h-1.0zM239.0 52.6h1.0v1.0h-1.0zM239.1 55.7h1.0v1.0h-1.0zM238.2 52.7h1.0v1.0h-1.0zM241.6 57.2h1.0v1.0h-1.0zM238.2 56.1h1.0v1.0h-1.0zM242.3 55.1h1.0v1.0h-1.0zM246.9 53.3h1.0v1.0h-1.0zM241.2 54.1h1.0v1.0h-1.0zM243.7 54.7h1.0v1.0h-1.0zM242.6 55.6h1.0v1.0h-1.0zM240.7 54.8h1.0v1.0h-1.0zM239.4 56.4h1.0v1.0h-1.0zM244.7 56.9h1.0v1.0h-1.0zM235.9 53.6h1.0v1.0h-1.0zM241.4 56.0h1.0v1.0h-1.0zM240.1 53.3h1.0v1.0h-1.0zM248.9 54.5h1.0v1.0h-1.0zM242.0 53.4h1.0v1.0h-1.0zM248.9 55.2h1.0v1.0h-1.0zM240.6 54.2h1.0v1.0h-1.0zM241.6 55.2h1.0v1.0h-1.0zM242.2 53.6h1.0v1.0h-1.0zM247.1 53.3h1.0v1.0h-1.0zM246.6 55.6h1.0v1.0h-1.0zM236.4 55.9h1.0v1.0h-1.0zM243.0 53.5h1.0v1.0h-1.0zM249.5 56.3h1.0v1.0h-1.0zM239.2 52.4h1.0v1.0h-1.0zM244.1 52.8h1.0v1.0h-1.0zM240.3 54.6h1.0v1.0h-1.0zM240.2 53.1h1.0v1.0h-1.0zM246.1 56.2h1.0v1.0h-1.0zM247.3 55.1h1.0v1.0h-1.0zM242.5 53.5h1.0v1.0h-1.0zM238.3 53.2h1.0v1.0h-1.0zM241.5 55.0h1.0v1.0h-1.0zM239.0 55.6h1.0v1.0h-1.0zM242.5 55.7h1.0v1.0h-1.0zM245.5 56.2h1.0v1.0h-1.0zM240.1 53.6h1.0v1.0h-1.0zM241.7 56.2h1.0v1.0h-1.0zM239.5 55.4h1.0v1.0h-1.0zM243.1 54.0h1.0v1.0h-1.0zM238.3 54.0h1.0v1.0h-1.0zM243.5 52.9h1.0v1.0h-1.0zM241.7 53.6h1.0v1.0h-1.0zM238.9 52.9h1.0v1.0h-1.0zM235.0 55.1h1.0v1.0h-1.0zM242.4 53.9h1.0v1.0h-1.0zM240.6 55.8h1.0v1.0h-1.0zM241.9 55.0h1.0v1.0h-1.0zM241.0 55.4h1.0v1.0h-1.0zM240.2 53.0h1.0v1.0h-1.0zM244.1 55.3h1.0v1.0h-1.0zM237.9 54.8h1.0v1.0h-1.0zM242.2 55.0h1.0v1.0h-1.0zM253.6 54.8h1.0v1.0h-1.0zM241.5 53.9h1.0v1.0h-1.0zM239.3 50.7h1.0v1.0h-1.0zM239.8 54.2h1.0v1.0h-1.0z" fill="#9426ee" fill-opacity="0.8"/>
<path d="M261.3 63.5h0.8v0.8h-0.8zM256.8 64.3h0.8v0.8h-0.8zM254.1 67.4h0.8v0.8h-0.8zM263.7 65.0h0.8v0.8h-0.8zM268.0 65.2h0.8v0.8h-0.8zM257.8 62.0h0.8v0.8h-0.8zM256.1 60.2h0.8v0.8h-0.8zM265.6 66.7h0.8v0.8h-0.8zM258.4 61.5h0.8v0.8h-0.8zM263.6 66.8h0.8v0.8h-0.8zM267.9 61.3h0.8v0.8h-0.8zM265.8 66.6h0.8v0.8h-0.8zM265.1 62.6h0.8v0.8h-0.8zM256.8 66.6h0.8v0.8h-0.8zM258.8 62.9h0.8v0.8h-0.8zM262.3 63.0h0.8v0.8h-0.8zM266.5 61.9h0.8v0.8h-0.8zM254.6 64.5h0.8v0.8h-0.8zM263.4 66.6h0.8v0.8h-0.8zM264.6 67.2h0.8v0.8h-0.8zM268.2 64.0h0.8v0.8h-0.8zM261.5 61.3h0.8v0.8h-0.8zM258.5 64.6h0.8v0.8h-0.8zM255.2 65.5h0.8v0.8h-0.8zM256.5 63.5h0.8v0.8h-0.8zM268.5 60.7h0.8v0.8h-0.8zM254.6 63.5h0.8v0.8h-0.8zM256.9 65.8h0.8v0.8h-0.8zM254.0 66.7h0.8v0.8h-0.8zM266.8 66.3h0.8v0.8h-0.8zM260.4 62.3h0.8v0.8h-0.8zM263.9 64.1h0.8v0.8h-0.8zM260.3 62.7h0.8v0.8h-0.8zM260.6 65.3h0.8v0.8h-0.8zM266.4 67.2h0.8v0.8h-0.8z" fill="#1d2cf6" fill-opacity="0.7"/>
<path d="M262.5 74.7h1.0v1.0h-1.0zM258.3 73.9h1.0v1.0h-1.0zM260.4 74.2h1.0v1.0h-1.0zM263.4 73.9h1.0v1.0h-1.0zM254.7 74.5h1.0v1.0h-1.0zM265.8 69.4h1.0v1.0h-1.0zM268.0 71.4h1.0v1.0h-1.0zM257.9 69.0h1.0v1.0h-1.0zM265.0 74.2h1.0v1.0h-1.0zM259.7 71.1h1.0v1.0h-1.0zM255.6 69.5h1.0v1.0h-1.0zM257.7 73.1h1.0v1.0h-1.0zM260.7 75.1h1.0v1.0h-1.0zM261.9 72.1h1.0v1.0h-1.0zM262.9 76.7h1.0v1.0h-1.0zM260.4 73.0h1.0v1.0h-1.0zM260.1 70.2h1.0v1.0h-1.0zM259.0 71.1h1.0v1.0h-1.0zM258.1 71.9h1.0v1.0h-1.0zM260.4 73.5h1.0v1.0h-1.0zM260.2 72.2h1.0v1.0h-1.0zM262.7 70.9h1.0v1.0h-1.0zM264.0 74.6h1.0v1.0h-1.0zM261.4 76.0h1.0v1.0h-1.0zM259.6 71.9h1.0v1.0h-1.0zM260.3 72.0h1.0v1.0h-1.0zM257.9 72.3h1.0v1.0h-1.0zM263.7 74.0h1.0v1.0h-1.0zM263.9 74.0h1.0v1.0h-1.0zM263.6 69.8h1.0v1.0h-1.0zM260.4 67.8h1.0v1.0h-1.0zM261.2 71.3h1.0v1.0h-1.0zM262.7 70.1h1.0v1.0h-1.0zM257.3 70.7h1.0v1.0h-1.0zM264.3 76.4h1.0v1.0h-1.0zM263.2 73.4h1.0v1.0h-1.0zM261.1 73.0h1.0v1.0h-1.0zM259.9 71.5h1.0v1.0h-1.0zM260.1 76.9h1.0v1.0h-1.0zM256.5 75.3h1.0v1.0h-1.0zM257.6 68.5h1.0v1.0h-1.0zM256.0 70.1h1.0v1.0h-1.0zM262.5 71.3h1.0v1.0h-1.0zM261.3 70.0h1.0v1.0h-1.0zM261.7 68.2h1.0v1.0h-1.0zM262.0 71.3h1.0v1.0h-1.0zM258.4 76.0h1.0v1.0h-1.0zM265.3 71.1h1.0v1.0h-1.0zM264.8 73.7h1.0v1.0h-1.0zM264.1 74.7h1.0v1.0h-1.0zM261.8 71.3h1.0v1.0h-1.0zM264.9 70.6h1.0v1.0h-1.0zM261.4 74.5h1.0v1.0h-1.0zM256.7 74.4h1.0v1.0h-1.0zM260.3 71.9h1.0v1.0h-1.0zM262.6 72.8h1.0v1.0h-1.0zM261.9 70.8h1.0v1.0h-1.0zM259.4 71.8h1.0v1.0h-1.0zM260.4 70.0h1.0v1.0h-1.0zM264.7 77.3h1.0v1.0h-1.0zM257.5 71.5h1.0v1.0h-1.0zM263.7 66.0h1.0v1.0h-1.0zM263.8 72.8h1.0v1.0h-1.0zM263.2 75.4h1.0v1.0h-1.0zM264.7 68.9h1.0v1.0h-1.0zM263.0 73.0h1.0v1.0h-1.0zM263.0 68.6h1.0v1.0h-1.0zM259.1 74.7h1.0v1.0h-1.0zM264.1 77.3h1.0v1.0h-1.0zM257.3 76.3h1.0v1.0h-1.0zM260.6 71.9h1.0v1.0h-1.0zM260.5 74.4h1.0v1.0h-1.0zM264.1 70.2h1.0v1.0h-1.0zM262.9 73.1h1.0v1.0h-1.0zM259.5 75.1h1.0v1.0h-1.0zM259.1 71.3h1.0v1.0h-1.0zM261.2 72.9h1.0v1.0h-1.0zM259.3 71.4h1.0v1.0h-1.0zM264.3 73.0h1.0v1.0h-1.0zM262.2 72.5h1.0v1.0h-1.0zM263.8 76.0h1.0v1.0h-1.0zM261.1 74.9h1.0v1.0h-1.0zM259.4 72.6h1.0v1.0h-1.0zM258.5 71.1h1.0v1.0h-1.0zM264.7 73.4h1.0v1.0h-1.0zM262.1 66.8h1.0v1.0h-1.0zM262.0 68.5h1.0v1.0h-1.0zM259.8 70.5h1.0v1.0h-1.0zM265.7 67.7h1.0v1.0h-1.0zM260.5 70.4h1.0v1.0h-1.0zM261.8 67.9h1.0v1.0h-1.0zM257.7 72.4h1.0v1.0h-1.0zM259.5 75.6h1.0v1.0h-1.0zM260.6 73.2h1.0v1.0h-1.0zM260.2 74.8h1.0v1.0h-1.0zM264.4 72.4h1.0v1.0h-1.0zM260.1 74.2h1.0v1.0h-1.0zM261.6 75.3h1.0v1.0h-1.0zM261.6 72.9h1.0v1.0h-1.0zM263.4 70.3h1.0v1.0h-1.0zM258.2 73.9h1.0v1.0h-1.0zM260.9 74.3h1.0v1.0h-1.0zM263.4 73.6h1.0v1.0h-1.0zM259.9 77.0h1.0v1.0h-1.0zM255.6 70.4h1.0v1.0h-1.0zM260.5 72.0h1.0v1.0h-1.0zM262.9 76.0h1.0v1.0h-1.0zM263.8 72.4h1.0v1.0h-1.0zM261.8 69.6h1.0v1.0h-1.0zM262.1 71.8h1.0v1.0h-1.0zM255.9 73.2h1.0v1.0h-1.0zM261.1 74.8h1.0v1.0h-1.0zM262.9 72.9h1.0v1.0h-1.0zM260.9 77.1h1.0v1.0h-1.0zM261.9 75.5h1.0v1.0h-1.0zM262.5 76.4h1.0v1.0h-1.0zM263.9 69.4h1.0v1.0h-1.0zM262.8 77.1h1.0v1.0h-1.0zM264.8 71.7h1.0v1.0h-1.0zM265.6 75.1h1.0v1.0h-1.0zM263.1 70.7h1.0v1.0h-1.0zM262.5 74.0h1.0v1.0h-1.0zM256.2 71.2h1.0v1.0h-1.0zM257.6 67.5h1.0v1.0h-1.0zM261.9 75.1h1.0v1.0h-1.0zM261.4 68.4h1.0v1.0h-1.0zM258.2 75.0h1.0v1.0h-1.0zM260.9 73.4h1.0v1.0h-1.0zM260.7 73.1h1.0v1.0h-1.0zM259.8 70.7h1.0v1.0h-1.0zM257.9 72.7h1.0v1.0h-1.0zM261.3 75.8h1.0v1.0h-1.0zM267.3 73.2h1.0v1.0h-1.0zM254.3 69.2h1.0v1.0h-1.0zM264.8 74.0h1.0v1.0h-1.0zM261.0 70.0h1.0v1.0h-1.0zM262.7 73.5h1.0v1.0h-1.0zM264.2 76.5h1.0v1.0h-1.0zM265.4 75.4h1.0v1.0h-1.0zM258.5 74.3h1.0v1.0h-1.0zM258.6 70.7h1.0v1.0h-1.0zM259.5 69.3h1.0v1.0h-1.0zM259.3 76.8h1.0v1.0h-1.0zM261.2 77.2h1.0v1.0h-1.0zM261.8 67.6h1.0v1.0h-1.0zM259.8 77.2h1.0v1.0h-1.0zM264.2 72.1h1.0v1.0h-1.0zM260.8 76.1h1.0v1.0h-1.0zM262.7 72.0h1.0v1.0h-1.0zM264.4 72.8h1.0v1.0h-1.0zM258.9 68.5h1.0v1.0h-1.0zM262.0 77.4h1.0v1.0h-1.0zM261.9 73.0h1.0v1.0h-1.0zM262.0 73.4h1.0v1.0h-1.0zM258.1 72.6h1.0v1.0h-1.0zM260.4 73.8h1.0v1.0h-1.0zM263.3 76.9h1.0v1.0h-1.0zM262.8 71.8h1.0v1.0h-1.0zM265.8 73.5h1.0v1.0h-1.0zM257.7 72.6h1.0v1.0h-1.0zM258.8 76.9h1.0v1.0h-1.0zM259.2 73.2h1.0v1.0h-1.0zM262.4 71.8h1.0v1.0h-1.0zM261.3 71.5h1.0v1.0h-1.0zM259.8 70.3h1.0v1.0h-1.0zM262.0 71.8h1.0v1.0h-1.0zM258.9 71.4h1.0v1.0h-1.0zM266.9 69.2h1.0v1.0h-1.0zM260.1 71.1h1.0v1.0h-1.0zM261.4 74.9h1.0v1.0h-1.0zM259.7 73.5h1.0v1.0h-1.0zM262.7 77.3h1.0v1.0h-1.0zM260.0 70.7h1.0v1.0h-1.0zM263.2 72.5h1.0v1.0h-1.0zM260.0 71.9h1.0v1.0h-1.0zM264.8 68.2h1.0v1.0h-1.0zM260.9 77.4h1.0v1.0h-1.0zM262.3 70.5h1.0v1.0h-1.0zM259.9 75.5h1.0v1.0h-1.0zM262.6 71.5h1.0v1.0h-1.0zM260.0 69.0h1.0v1.0h-1.0zM258.1 73.7h1.0v1.0h-1.0zM262.7 71.3h1.0v1.0h-1.0zM263.2 70.8h1.0v1.0h-1.0zM262.4 66.9h1.0v1.0h-1.0zM263.6 72.5h1.0v1.0h-1.0zM262.6 72.8h1.0v1.0h-1.0zM261.8 72.5h1.0v1.0h-1.0zM262.7 71.7h1.0v1.0h-1.0zM261.3 71.3h1.0v1.0h-1.0zM263.3 76.4h1.0v1.0h-1.0zM263.4 74.0h1.0v1.0h-1.0zM265.0 70.3h1.0v1.0h-1.0zM266.8 67.1h1.0v1.0h-1.0zM263.3 73.0h1.0v1.0h-1.0zM262.4 68.3h1.0v1.0h-1.0zM264.4 73.4h1.0v1.0h-1.0zM261.7 75.7h1.0v1.0h-1.0zM261.8 73.0h1.0v1.0h-1.0zM263.7 72.5h1.0v1.0h-1.0zM262.4 71.6h1.0v1.0h-1.0zM260.0 72.7h1.0v1.0h-1.0zM259.9 73.4h1.0v1.0h-1.0zM260.8 71.1h1.0v1.0h-1.0zM261.2 69.2h1.0v1.0h-1.0zM263.2 74.4h1.0v1.0h-1.0zM255.6 72.8h1.0v1.0h-1.0zM260.3 74.2h1.0v1.0h-1.0zM266.7 71.4h1.0v1.0h-1.0zM261.2 70.3h1.0v1.0h-1.0zM262.3 74.6h1.0v1.0h-1.0zM262.1 73.0h1.0v1.0h-1.0zM258.7 72.4h1.0v1.0h-1.0zM259.1 71.6h1.0v1.0h-1.0zM265.4 72.9h1.0v1.0h-1.0zM259.5 69.6h1.0v1.0h-1.0zM257.6 71.3h1.0v1.0h-1.0zM266.7 71.9h1.0v1.0h-1.0zM260.9 69.7h1.0v1.0h-1.0zM260.3 75.3h1.0v1.0h-1.0zM263.9 72.1h1.0v1.0h-1.0zM259.4 74.6h1.0v1.0h-1.0zM265.0 72.7h1.0v1.0h-1.0zM263.2 71.6h1.0v1.0h-1.0zM259.5 70.8h1.0v1.0h-1.0zM261.5 74.5h1.0v1.0h-1.0zM265.1 76.3h1.0v1.0h-1.0zM262.6 66.4h1.0v1.0h-1.0zM265.2 74.0h1.0v1.0h-1.0zM259.7 76.3h1.0v1.0h-1.0zM259.2 71.8h1.0v1.0h-1.0zM261.5 72.6h1.0v1.0h-1.0zM261.3 66.9h1.0v1.0h-1.0zM257.9 72.4h1.0v1.0h-1.0zM263.3 72.5h1.0v1.0h-1.0zM258.5 69.1h1.0v1.0h-1.0zM258.4 75.8h1.0v1.0h-1.0zM258.9 74.8h1.0v1.0h-1.0zM258.4 69.8h1.0v1.0h-1.0zM259.8 76.3h1.0v1.0h-1.0zM259.6 72.0h1.0v1.0h-1.0zM259.8 71.1h1.0v1.0h-1.0zM263.9 70.8h1.0v1.0h-1.0zM260.8 69.1h1.0v1.0h-1.0zM259.6 72.9h1.0v1.0h-1.0zM258.3 72.0h1.0v1.0h-1.0zM256.7 71.7h1.0v1.0h-1.0zM261.5 74.4h1.0v1.0h-1.0zM262.7 69.7h1.0v1.0h-1.0zM258.3 68.4h1.0v1.0h-1.0zM265.5 69.0h1.0v1.0h-1.0zM263.9 73.4h1.0v1.0h-1.0zM263.8 67.9h1.0v1.0h-1.0zM262.5 73.8h1.0v1.0h-1.0zM261.4 74.0h1.0v1.0h-1.0zM258.5 76.7h1.0v1.0h-1.0zM258.6 72.2h1.0v1.0h-1.0zM263.6 74.1h1.0v1.0h-1.0zM265.4 72.5h1.0v1.0h-1.0zM258.6 73.6h1.0v1.0h-1.0zM262.7 67.9h1.0v1.0h-1.0zM263.7 76.1h1.0v1.0h-1.0zM259.3 75.2h1.0v1.0h-1.0zM261.6 75.4h1.0v1.0h-1.0zM260.0 75.0h1.0v1.0h-1.0zM263.1 72.8h1.0v1.0h-1.0zM260.6 72.2h1.0v1.0h-1.0zM263.2 76.8h1.0v1.0h-1.0zM261.0 75.1h1.0v1.0h-1.0zM264.5 74.8h1.0v1.0h-1.0zM262.5 71.1h1.0v1.0h-1.0zM257.3 75.0h1.0v1.0h-1.0zM259.6 70.7h1.0v1.0h-1.0zM264.1 73.5h1.0v1.0h-1.0zM258.6 76.0h1.0v1.0h-1.0zM260.7 75.4h1.0v1.0h-1.0zM258.6 68.4h1.0v1.0h-1.0zM259.9 74.9h1.0v1.0h-1.0zM256.2 69.5h1.0v1.0h-1.0zM260.8 69.9h1.0v1.0h-1.0zM260.2 70.4h1.0v1.0h-1.0zM265.3 74.7h1.0v1.0h-1.0zM259.1 75.0h1.0v1.0h-1.0zM255.8 72.7h1.0v1.0h-1.0zM261.4 71.9h1.0v1.0h-1.0zM259.0 70.8h1.0v1.0h-1.0zM256.6 73.9h1.0v1.0h-1.0zM258.9 74.3h1.0v1.0h-1.0zM263.6 70.6h1.0v1.0h-1.0zM258.3 72.8h1.0v1.0h-1.0zM263.2 68.7h1.0v1.0h-1.0zM261.2 69.7h1.0v1.0h-1.0zM265.2 73.7h1.0v1.0h-1.0zM257.2 71.0h1.0v1.0h-1.0zM261.6 71.2h1.0v1.0h-1.0zM261.6 73.7h1.0v1.0h-1.0zM261.9 71.4h1.0v1.0h-1.0zM265.1 75.2h1.0v1.0h-1.0zM260.6 72.2h1.0v1.0h-1.0zM259.7 68.5h1.0v1.0h-1.0zM260.5 72.7h1.0v1.0h-1.0zM260.4 69.8h1.0v1.0h-1.0zM263.5 67.2h1.0v1.0h-1.0zM262.8 74.7h1.0v1.0h-1.0zM261.1 72.6h1.0v1.0h-1.0zM263.5 72.4h1.0v1.0h-1.0zM261.2 75.1h1.0v1.0h-1.0zM258.5 71.4h1.0v1.0h-1.0zM260.7 73.1h1.0v1.0h-1.0zM263.0 67.2h1.0v1.0h-1.0zM261.3 74.5h1.0v1.0h-1.0zM264.5 73.8h1.0v1.0h-1.0zM259.4 74.9h1.0v1.0h-1.0zM258.0 72.9h1.0v1.0h-1.0zM258.3 76.5h1.0v1.0h-1.0zM260.6 72.3h1.0v1.0h-1.0zM260.1 75.9h1.0v1.0h-1.0zM258.6 74.6h1.0v1.0h-1.0zM260.5 74.7h1.0v1.0h-1.0zM262.0 70.3h1.0v1.0h-1.0zM260.3 67.5h1.0v1.0h-1.0zM259.0 70.9h1.0v1.0h-1.0zM264.0 71.3h1.0v1.0h-1.0zM262.0 71.9h1.0v1.0h-1.0zM258.0 74.3h1.0v1.0h-1.0zM266.3 74.3h1.0v1.0h-1.0zM264.6 74.3h1.0v1.0h-1.0zM257.1 70.7h1.0v1.0h-1.0zM257.5 72.6h1.0v1.0h-1.0zM260.4 70.4h1.0v1.0h-1.0zM261.7 73.9h1.0v1.0h-1.0zM265.2 75.5h1.0v1.0h-1.0zM264.0 71.7h1.0v1.0h-1.0zM260.3 70.7h1.0v1.0h-1.0zM264.7 70.1h1.0v1.0h-1.0zM261.9 73.4h1.0v1.0h-1.0zM261.1 71.8h1.0v1.0h-1.0zM262.5 70.5h1.0v1.0h-1.0zM261.8 76.4h1.0v1.0h-1.0zM260.0 76.0h1.0v1.0h-1.0zM259.2 77.6h1.0v1.0h-1.0zM264.1 76.8h1.0v1.0h-1.0zM264.0 72.2h1.0v1.0h-1.0zM263.9 73.2h1.0v1.0h-1.0zM260.2 71.0h1.0v1.0h-1.0zM260.3 72.2h1.0v1.0h-1.0zM257.3 73.6h1.0v1.0h-1.0zM257.9 74.5h1.0v1.0h-1.0zM265.1 76.2h1.0v1.0h-1.0zM265.6 77.2h1.0v1.0h-1.0zM267.6 72.4h1.0v1.0h-1.0zM259.3 72.2h1.0v1.0h-1.0zM258.9 76.5h1.0v1.0h-1.0zM255.4 72.7h1.0v1.0h-1.0zM263.9 74.4h1.0v1.0h-1.0zM263.7 69.6h1.0v1.0h-1.0zM260.3 72.3h1.0v1.0h-1.0zM262.7 74.4h1.0v1.0h-1.0zM265.3 69.1h1.0v1.0h-1.0zM264.8 73.4h1.0v1.0h-1.0zM263.7 72.1h1.0v1.0h-1.0zM265.0 71.1h1.0v1.0h-1.0zM263.6 73.4h1.0v1.0h-1.0zM259.5 73.3h1.0v1.0h-1.0zM261.3 70.8h1.0v1.0h-1.0zM261.9 70.2h1.0v1.0h-1.0zM264.4 74.2h1.0v1.0h-1.0zM264.1 74.7h1.0v1.0h-1.0zM262.2 68.8h1.0v1.0h-1.0zM260.7 72.8h1.0v1.0h-1.0zM260.2 72.5h1.0v1.0h-1.0zM260.6 71.4h1.0v1.0h-1.0zM259.3 71.3h1.0v1.0h-1.0zM258.7 75.6h1.0v1.0h-1.0zM262.2 74.1h1.0v1.0h-1.0zM263.6 71.7h1.0v1.0h-1.0zM264.3 67.7h1.0v1.0h-1.0zM259.9 72.8h1.0v1.0h-1.0zM265.8 75.9h1.0v1.0h-1.0zM263.7 74.9h1.0v1.0h-1.0zM260.1 72.3h1.0v1.0h-1.0zM259.9 72.9h1.0v1.0h-1.0zM258.4 71.8h1.0v1.0h-1.0zM260.2 74.0h1.0v1.0h-1.0zM260.0 73.7h1.0v1.0h-1.0zM262.7 74.1h1.0v1.0h-1.0zM263.5 70.1h1.0v1.0h-1.0zM261.8 72.3h1.0v1.0h-1.0zM264.2 71.4h1.0v1.0h-1.0zM262.3 69.0h1.0v1.0h-1.0zM260.7 70.7h1.0v1.0h-1.0zM261.4 70.9h1.0v1.0h-1.0zM261.3 73.3h1.0v1.0h-1.0zM258.9 74.8h1.0v1.0h-1.0zM264.3 74.5h1.0v1.0h-1.0zM261.8 76.5h1.0v1.0h-1.0zM262.3 68.1h1.0v1.0h-1.0zM263.2 73.4h1.0v1.0h-1.0zM255.4 67.8h1.0v1.0h-1.0zM264.9 73.6h1.0v1.0h-1.0zM259.7 67.6h1.0v1.0h-1.0zM258.8 77.0h1.0v1.0h-1.0zM255.7 74.2h1.0v1.0h-1.0zM267.6 73.1h1.0v1.0h-1.0zM259.1 74.2h1.0v1.0h-1.0zM263.1 73.7h1.0v1.0h-1.0zM261.0 68.3h1.0v1.0h-1.0zM262.8 74.8h1.0v1.0h-1.0zM262.5 74.1h1.0v1.0h-1.0zM261.8 75.2h1.0v1.0h-1.0zM262.2 69.4h1.0v1.0h-1.0zM256.9 72.7h1.0v1.0h-1.0zM265.0 70.0h1.0v1.0h-1.0zM260.3 71.1h1.0v1.0h-1.0zM257.8 68.6h1.0v1.0h-1.0zM261.7 71.4h1.0v1.0h-1.0zM260.9 70.0h1.0v1.0h-1.0zM259.4 68.4h1.0v1.0h-1.0zM264.6 76.7h1.0v1.0h-1.0zM266.6 70.2h1.0v1.0h-1.0zM261.2 67.1h1.0v1.0h-1.0zM262.5 68.9h1.0v1.0h-1.0zM256.9 74.7h1.0v1.0h-1.0zM262.5 66.9h1.0v1.0h-1.0zM255.2 71.2h1.0v1.0h-1.0zM261.9 70.5h1.0v1.0h-1.0zM262.4 70.8h1.0v1.0h-1.0zM262.3 75.6h1.0v1.0h-1.0zM261.7 76.0h1.0v1.0h-1.0zM264.7 70.2h1.0v1.0h-1.0zM260.8 69.8h1.0v1.0h-1.0zM262.4 67.6h1.0v1.0h-1.0zM258.9 66.3h1.0v1.0h-1.0zM262.6 70.0h1.0v1.0h-1.0zM264.6 74.8h1.0v1.0h-1.0zM262.6 70.3h1.0v1.0h-1.0zM257.3 69.5h1.0v1.0h-1.0zM261.5 72.3h1.0v1.0h-1.0zM260.9 72.6h1.0v1.0h-1.0zM265.1 76.0h1.0v1.0h-1.0zM258.3 74.5h1.0v1.0h-1.0zM259.1 73.3h1.0v1.0h-1.0zM261.9 75.2h1.0v1.0h-1.0zM263.4 69.3h1.0v1.0h-1.0zM261.1 73.8h1.0v1.0h-1.0zM260.9 77.1h1.0v1.0h-1.0zM257.8 74.1h1.0v1.0h-1.0zM261.9 71.2h1.0v1.0h-1.0zM261.1 71.8h1.0v1.0h-1.0zM262.1 70.9h1.0v1.0h-1.0zM260.2 74.2h1.0v1.0h-1.0zM264.1 70.1h1.0v1.0h-1.0zM263.4 70.8h1.0v1.0h-1.0zM254.9 72.6h1.0v1.0h-1.0zM263.1 75.6h1.0v1.0h-1.0zM263.0 72.6h1.0v1.0h-1.0zM264.1 71.5h1.0v1.0h-1.0zM262.1 70.5h1.0v1.0h-1.0zM260.7 73.7h1.0v1.0h-1.0zM256.5 70.7h1.0v1.0h-1.0zM258.9 72.4h1.0v1.0h-1.0zM266.4 69.9h1.0v1.0h-1.0zM260.9 71.6h1.0v1.0h-1.0zM259.4 70.4h1.0v1.0h-1.0zM263.8 71.9h1.0v1.0h-1.0zM259.5 69.1h1.0v1.0h-1.0zM259.2 75.1h1.0v1.0h-1.0zM258.9 66.9h1.0v1.0h-1.0zM258.9 72.6h1.0v1.0h-1.0zM262.3 72.5h1.0v1.0h-1.0zM263.4 68.8h1.0v1.0h-1.0zM258.7 71.5h1.0v1.0h-1.0zM261.4 66.5h1.0v1.0h-1.0zM260.8 67.8h1.0v1.0h-1.0zM263.7 73.2h1.0v1.0h-1.0zM262.5 71.6h1.0v1.0h-1.0zM258.5 70.6h1.0v1.0h-1.0zM263.9 73.4h1.0v1.0h-1.0zM261.3 68.4h1.0v1.0h-1.0zM260.6 77.4h1.0v1.0h-1.0zM260.6 76.1h1.0v1.0h-1.0zM255.1 76.4h1.0v1.0h-1.0zM258.6 68.4h1.0v1.0h-1.0zM260.3 70.1h1.0v1.0h-1.0zM265.4 71.5h1.0v1.0h-1.0zM260.6 70.4h1.0v1.0h-1.0zM263.2 75.8h1.0v1.0h-1.0zM263.5 68.0h1.0v1.0h-1.0zM260.6 73.9h1.0v1.0h-1.0zM256.1 72.0h1.0v1.0h-1.0zM263.6 76.6h1.0v1.0h-1.0zM262.5 74.8h1.0v1.0h-1.0zM263.5 73.4h1.0v1.0h-1.0zM263.0 72.2h1.0v1.0h-1.0zM262.1 75.0h1.0v1.0h-1.0zM260.2 73.1h1.0v1.0h-1.0zM261.2 75.5h1.0v1.0h-1.0zM256.4 77.5h1.0v1.0h-1.0zM261.2 74.5h1.0v1.0h-1.0zM263.8 70.9h1.0v1.0h-1.0zM263.3 69.1h1.0v1.0h-1.0zM261.8 70.1h1.0v1.0h-1.0zM263.9 76.6h1.0v1.0h-1.0zM258.1 73.3h1.0v1.0h-1.0zM259.3 68.3h1.0v1.0h-1.0zM261.0 75.3h1.0v1.0h-1.0zM264.2 70.8h1.0v1.0h-1.0zM260.5 76.6h1.0v1.0h-1.0zM261.1 77.6h1.0v1.0h-1.0zM266.1 74.0h1.0v1.0h-1.0zM259.2 71.5h1.0v1.0h-1.0zM263.3 71.8h1.0v1.0h-1.0zM261.4 73.7h1.0v1.0h-1.0zM257.2 71.1h1.0v1.0h-1.0zM260.2 69.9h1.0v1.0h-1.0zM261.8 71.3h1.0v1.0h-1.0zM260.1 76.5h1.0v1.0h-1.0zM265.0 71.8h1.0v1.0h-1.0zM259.8 67.9h1.0v1.0h-1.0zM256.5 76.8h1.0v1.0h-1.0zM261.3 70.0h1.0v1.0h-1.0zM257.7 75.9h1.0v1.0h-1.0zM260.4 74.1h1.0v1.0h-1.0zM263.6 70.0h1.0v1.0h-1.0zM257.6 72.0h1.0v1.0h-1.0zM262.5 71.7h1.0v1.0h-1.0zM260.9 73.5h1.0v1.0h-1.0zM258.8 74.4h1.0v1.0h-1.0zM263.7 69.1h1.0v1.0h-1.0zM259.1 71.2h1.0v1.0h-1.0zM259.5 71.6h1.0v1.0h-1.0zM264.0 68.4h1.0v1.0h-1.0zM262.2 71.2h1.0v1.0h-1.0zM259.3 68.3h1.0v1.0h-1.0zM255.8 72.6h1.0v1.0h-1.0zM264.8 69.8h1.0v1.0h-1.0zM263.0 68.8h1.0v1.0h-1.0zM262.4 71.5h1.0v1.0h-1.0zM260.2 68.3h1.0v1.0h-1.0zM259.8 71.1h1.0v1.0h-1.0zM264.6 74.2h1.0v1.0h-1.0zM262.3 70.5h1.0v1.0h-1.0zM261.8 74.6h1.0v1.0h-1.0zM264.6 75.0h1.0v1.0h-1.0zM266.0 71.8h1.0v1.0h-1.0zM258.8 76.1h1.0v1.0h-1.0zM265.9 75.0h1.0v1.0h-1.0zM261.3 72.8h1.0v1.0h-1.0zM260.4 71.4h1.0v1.0h-1.0zM261.3 73.6h1.0v1.0h-1.0zM258.3 73.8h1.0v1.0h-1.0zM261.7 71.8h1.0v1.0h-1.0zM262.0 71.4h1.0v1.0h-1.0zM262.0 76.6h1.0v1.0h-1.0zM260.1 74.8h1.0v1.0h-1.0zM259.7 71.8h1.0v1.0h-1.0zM261.9 70.7h1.0v1.0h-1.0zM263.9 68.1h1.0v1.0h-1.0zM260.8 72.4h1.0v1.0h-1.0zM261.5 71.9h1.0v1.0h-1.0zM258.7 72.5h1.0v1.0h-1.0zM264.8 74.2h1.0v1.0h-1.0zM260.9 68.8h1.0v1.0h-1.0zM258.9 74.6h1.0v1.0h-1.0zM259.8 71.5h1.0v1.0h-1.0zM267.2 65.5h1.0v1.0h-1.0zM263.6 65.6h1.0v1.0h-1.0zM264.1 74.0h1.0v1.0h-1.0zM263.3 75.0h1.0v1.0h-1.0zM259.7 68.4h1.0v1.0h-1.0zM259.1 73.3h1.0v1.0h-1.0zM262.4 75.3h1.0v1.0h-1.0zM261.1 74.5h1.0v1.0h-1.0zM261.1 69.1h1.0v1.0h-1.0zM259.8 73.3h1.0v1.0h-1.0zM260.9 70.8h1.0v1.0h-1.0zM261.1 76.3h1.0v1.0h-1.0zM259.3 65.2h1.0v1.0h-1.0zM261.3 65.5h1.0v1.0h-1.0zM265.0 70.4h1.0v1.0h-1.0zM261.2 71.6h1.0v1.0h-1.0zM261.5 73.1h1.0v1.0h-1.0zM264.1 69.1h1.0v1.0h-1.0zM260.0 70.9h1.0v1.0h-1.0zM260.4 74.0h1.0v1.0h-1.0zM256.0 66.0h1.0v1.0h-1.0zM261.1 73.4h1.0v1.0h-1.0zM262.5 75.0h1.0v1.0h-1.0zM265.2 69.5h1.0v1.0h-1.0zM260.2 73.0h1.0v1.0h-1.0zM262.6 73.6h1.0v1.0h-1.0zM261.9 69.4h1.0v1.0h-1.0zM267.1 72.2h1.0v1.0h-1.0zM262.2 69.4h1.0v1.0h-1.0zM262.0 71.2h1.0v1.0h-1.0zM264.0 75.0h1.0v1.0h-1.0zM259.6 72.5h1.0v1.0h-1.0zM261.4 73.2h1.0v1.0h-1.0zM264.8 70.1h1.0v1.0h-1.0zM268.3 69.9h1.0v1.0h-1.0zM257.5 74.4h1.0v1.0h-1.0zM257.9 76.1h1.0v1.0h-1.0zM262.2 71.3h1.0v1.0h-1.0zM263.2 72.8h1.0v1.0h-1.0zM259.2 71.2h1.0v1.0h-1.0zM266.3 72.9h1.0v1.0h-1.0zM262.1 69.4h1.0v1.0h-1.0zM266.7 74.2h1.0v1.0h-1.0zM260.4 72.4h1.0v1.0h-1.0zM259.8 76.2h1.0v1.0h-1.0zM263.6 70.4h1.0v1.0h-1.0zM260.3 71.1h1.0v1.0h-1.0zM260.5 73.5h1.0v1.0h-1.0zM260.3 71.8h1.0v1.0h-1.0zM262.3 75.6h1.0v1.0h-1.0zM258.2 70.5h1.0v1.0h-1.0zM260.7 69.6h1.0v1.0h-1.0zM265.2 74.5h1.0v1.0h-1.0zM264.2 73.7h1.0v1.0h-1.0zM258.3 75.1h1.0v1.0h-1.0zM261.0 70.5h1.0v1.0h-1.0zM259.0 69.0h1.0v1.0h-1.0zM260.0 72.9h1.0v1.0h-1.0zM264.4 70.5h1.0v1.0h-1.0zM263.2 73.4h1.0v1.0h-1.0zM263.3 72.4h1.0v1.0h-1.0zM257.8 75.8h1.0v1.0h-1.0zM263.0 68.9h1.0v1.0h-1.0zM261.4 71.8h1.0v1.0h-1.0zM267.3 77.0h1.0v1.0h-1.0zM261.6 71.8h1.0v1.0h-1.0zM263.2 73.2h1.0v1.0h-1.0zM263.1 71.7h1.0v1.0h-1.0zM258.6 66.7h1.0v1.0h-1.0zM257.6 67.6h1.0v1.0h-1.0zM261.3 74.3h1.0v1.0h-1.0zM265.7 73.2h1.0v1.0h-1.0zM267.0 77.3h1.0v1.0h-1.0zM261.0 70.8h1.0v1.0h-1.0zM261.9 71.0h1.0v1.0h-1.0zM260.2 72.5h1.0v1.0h-1.0zM262.7 66.7h1.0v1.0h-1.0zM261.6 72.5h1.0v1.0h-1.0zM263.4 69.6h1.0v1.0h-1.0zM262.7 69.5h1.0v1.0h-1.0zM258.9 69.9h1.0v1.0h-1.0zM261.7 71.5h1.0v1.0h-1.0zM264.5 73.8h1.0v1.0h-1.0zM260.7 75.4h1.0v1.0h-1.0zM265.7 72.8h1.0v1.0h-1.0zM266.2 73.4h1.0v1.0h-1.0zM262.5 69.6h1.0v1.0h-1.0zM264.1 75.5h1.0v1.0h-1.0zM262.1 75.6h1.0v1.0h-1.0zM259.1 71.8h1.0v1.0h-1.0zM264.9 75.2h1.0v1.0h-1.0zM264.4 68.0h1.0v1.0h-1.0zM263.4 74.3h1.0v1.0h-1.0zM260.0 77.2h1.0v1.0h-1.0zM263.5 75.8h1.0v1.0h-1.0zM265.8 71.9h1.0v1.0h-1.0zM262.4 72.6h1.0v1.0h-1.0zM264.4 75.5h1.0v1.0h-1.0zM258.8 70.6h1.0v1.0h-1.0zM258.8 73.4h1.0v1.0h-1.0zM258.5 69.9h1.0v1.0h-1.0zM265.1 70.2h1.0v1.0h-1.0zM263.1 66.5h1.0v1.0h-1.0zM263.6 68.7h1.0v1.0h-1.0zM265.3 73.4h1.0v1.0h-1.0zM263.0 70.1h1.0v1.0h-1.0zM262.6 71.3h1.0v1.0h-1.0zM264.0 71.5h1.0v1.0h-1.0zM260.9 70.5h1.0v1.0h-1.0zM260.6 75.2h1.0v1.0h-1.0zM260.9 73.8h1.0v1.0h-1.0zM254.6 75.5h1.0v1.0h-1.0zM258.0 67.1h1.0v1.0h-1.0zM261.8 67.1h1.0v1.0h-1.0zM265.7 72.4h1.0v1.0h-1.0zM261.1 74.8h1.0v1.0h-1.0zM260.9 72.9h1.0v1.0h-1.0zM263.4 71.4h1.0v1.0h-1.0zM262.0 67.6h1.0v1.0h-1.0zM265.0 69.3h1.0v1.0h-1.0zM260.2 72.3h1.0v1.0h-1.0zM262.4 70.4h1.0v1.0h-1.0zM259.7 70.6h1.0v1.0h-1.0zM254.8 70.9h1.0v1.0h-1.0zM263.1 75.6h1.0v1.0h-1.0zM259.5 69.7h1.0v1.0h-1.0zM263.9 71.5h1.0v1.0h-1.0zM264.8 70.3h1.0v1.0h-1.0zM262.5 72.3h1.0v1.0h-1.0zM261.9 74.9h1.0v1.0h-1.0zM261.8 72.3h1.0v1.0h-1.0zM261.1 77.2h1.0v1.0h-1.0zM263.0 72.5h1.0v1.0h-1.0zM257.7 74.3h1.0v1.0h-1.0zM259.8 68.1h1.0v1.0h-1.0zM261.4 70.4h1.0v1.0h-1.0zM261.4 73.3h1.0v1.0h-1.0zM260.8 70.7h1.0v1.0h-1.0zM259.2 69.6h1.0v1.0h-1.0zM259.4 69.3h1.0v1.0h-1.0zM260.6 70.3h1.0v1.0h-1.0zM262.3 73.0h1.0v1.0h-1.0zM263.9 72.9h1.0v1.0h-1.0zM262.2 73.7h1.0v1.0h-1.0zM254.5 72.9h1.0v1.0h-1.0zM260.6 70.5h1.0v1.0h-1.0zM261.6 70.8h1.0v1.0h-1.0zM263.2 74.0h1.0v1.0h-1.0zM258.1 75.0h1.0v1.0h-1.0zM257.5 74.2h1.0v1.0h-1.0zM266.4 76.4h1.0v1.0h-1.0zM258.7 77.2h1.0v1.0h-1.0zM266.2 73.6h1.0v1.0h-1.0zM262.7 68.5h1.0v1.0h-1.0zM261.3 73.0h1.0v1.0h-1.0zM263.5 76.2h1.0v1.0h-1.0zM258.1 70.4h1.0v1.0h-1.0zM262.0 74.1h1.0v1.0h-1.0zM267.5 77.3h1.0v1.0h-1.0zM258.6 75.4h1.0v1.0h-1.0zM259.7 71.7h1.0v1.0h-1.0zM261.8 72.8h1.0v1.0h-1.0zM262.2 71.4h1.0v1.0h-1.0zM263.8 72.0h1.0v1.0h-1.0zM261.2 71.0h1.0v1.0h-1.0zM261.9 70.5h1.0v1.0h-1.0zM259.3 75.2h1.0v1.0h-1.0zM262.9 74.0h1.0v1.0h-1.0zM262.0 70.3h1.0v1.0h-1.0zM258.2 76.0h1.0v1.0h-1.0zM261.7 74.5h1.0v1.0h-1.0zM261.9 75.4h1.0v1.0h-1.0zM258.9 75.7h1.0v1.0h-1.0zM256.2 73.6h1.0v1.0h-1.0zM265.0 73.9h1.0v1.0h-1.0zM262.4 70.8h1.0v1.0h-1.0zM264.1 73.2h1.0v1.0h-1.0zM263.6 74.7h1.0v1.0h-1.0zM261.1 71.4h1.0v1.0h-1.0zM263.6 74.8h1.0v1.0h-1.0zM262.3 74.5h1.0v1.0h-1.0zM260.2 73.1h1.0v1.0h-1.0zM263.6 73.7h1.0v1.0h-1.0zM255.4 73.9h1.0v1.0h-1.0zM260.5 72.2h1.0v1.0h-1.0z" fill="#1d2cf6" fill-opacity="0.85"/>
<path d="M262.2 76.9h0.7v0.7h-0.7zM256.8 69.7h0.7v0.7h-0.7zM266.3 70.6h0.7v0.7h-0.7zM266.1 76.6h0.7v0.7h-0.7zM259.7 71.7h0.7v0.7h-0.7zM263.9 77.3h0.7v0.7h-0.7zM261.7 73.2h0.7v0.7h-0.7zM257.6 73.2h0.7v0.7h-0.7zM264.0 73.5h0.7v0.7h-0.7zM260.8 73.9h0.7v0.7h-0.7zM260.3 69.6h0.7v0.7h-0.7zM259.9 72.2h0.7v0.7h-0.7zM265.1 72.3h0.7v0.7h-0.7zM260.9 71.9h0.7v0.7h-0.7z" fill="#c03040" fill-opacity="0.8"/>
<rect x="234.2" y="47.3" width="22.30" height="11.30" fill="none" stroke="#8a8a8a" stroke-width="1.1"/>
<rect x="253.3" y="59.5" width="16.30" height="18.30" fill="none" stroke="#111" stroke-width="1.1"/>
<text x="260.20" y="52.40" font-size="4.0" fill="#000" stroke="#000" stroke-width="0.05">CD4</text>
<text x="260.20" y="57.00" font-size="4.0" fill="#000" stroke="#000" stroke-width="0.05">CD8</text>
<rect x="353.9" y="43.6" width="42.60" height="34.60" fill="#fff" stroke="#a0a0a0" stroke-width="1.0"/>
<path d="M352.4 47.8h2.3v2.2h-2.3zM352.4 56.1h2.3v2.2h-2.3zM352.4 63.9h2.3v2.2h-2.3zM352.4 72.3h2.3v2.2h-2.3zM352.4 75.1h2.3v2.2h-2.3z" fill="#111"/>
<path d="M352.8 52.4h1.8v1.2h-1.8zM352.8 60.4h1.8v1.2h-1.8zM352.8 68.6h1.8v1.2h-1.8z" fill="#555"/>
<path d="M355.1 79.2h5.2v1.8h-5.2zM364.4 79.2h5.2v1.8h-5.2zM373.6 79.2h5.2v1.8h-5.2zM382.9 79.2h5.2v1.8h-5.2zM391.8 79.2h5.2v1.8h-5.2z" fill="#555" fill-opacity="0.85"/>
<path d="M357.7 79.0h1.7v2.1h-1.7zM365.3 79.0h1.7v2.1h-1.7zM376.7 79.0h1.7v2.1h-1.7zM379.7 79.0h1.7v2.1h-1.7zM385.6 79.0h1.7v2.1h-1.7zM391.5 79.0h1.7v2.1h-1.7z" fill="#111"/>
<path d="M366.0 76.1h0.8v0.8h-0.8zM362.9 65.4h0.8v0.8h-0.8zM366.8 64.2h0.8v0.8h-0.8zM366.4 72.6h0.8v0.8h-0.8zM367.6 76.8h0.8v0.8h-0.8zM372.9 71.7h0.8v0.8h-0.8zM363.8 74.9h0.8v0.8h-0.8zM368.2 73.1h0.8v0.8h-0.8zM368.4 75.8h0.8v0.8h-0.8zM362.6 76.3h0.8v0.8h-0.8zM372.6 75.6h0.8v0.8h-0.8zM369.2 70.0h0.8v0.8h-0.8zM367.8 72.6h0.8v0.8h-0.8zM370.2 71.7h0.8v0.8h-0.8zM369.4 74.5h0.8v0.8h-0.8zM372.6 76.0h0.8v0.8h-0.8zM370.4 64.0h0.8v0.8h-0.8zM364.4 66.2h0.8v0.8h-0.8zM369.8 77.1h0.8v0.8h-0.8zM370.4 66.7h0.8v0.8h-0.8zM371.6 71.2h0.8v0.8h-0.8zM365.0 63.1h0.8v0.8h-0.8zM363.9 72.9h0.8v0.8h-0.8zM372.9 62.3h0.8v0.8h-0.8zM372.3 77.1h0.8v0.8h-0.8zM366.6 69.5h0.8v0.8h-0.8zM365.8 69.7h0.8v0.8h-0.8zM372.2 70.7h0.8v0.8h-0.8zM370.7 65.6h0.8v0.8h-0.8zM369.3 70.8h0.8v0.8h-0.8zM364.1 71.1h0.8v0.8h-0.8zM369.0 65.8h0.8v0.8h-0.8zM368.8 76.1h0.8v0.8h-0.8zM365.4 72.3h0.8v0.8h-0.8zM370.7 66.8h0.8v0.8h-0.8zM367.1 65.1h0.8v0.8h-0.8zM367.6 70.1h0.8v0.8h-0.8zM369.8 74.0h0.8v0.8h-0.8zM369.0 66.3h0.8v0.8h-0.8zM372.8 76.2h0.8v0.8h-0.8zM367.1 71.7h0.8v0.8h-0.8zM363.0 77.0h0.8v0.8h-0.8zM365.2 74.0h0.8v0.8h-0.8zM367.9 75.0h0.8v0.8h-0.8zM370.1 64.0h0.8v0.8h-0.8zM367.2 77.5h0.8v0.8h-0.8zM371.4 67.0h0.8v0.8h-0.8zM370.2 67.3h0.8v0.8h-0.8zM365.9 67.9h0.8v0.8h-0.8zM372.9 73.4h0.8v0.8h-0.8zM366.2 75.1h0.8v0.8h-0.8zM370.6 75.6h0.8v0.8h-0.8zM365.7 65.9h0.8v0.8h-0.8zM364.5 63.1h0.8v0.8h-0.8zM371.7 72.4h0.8v0.8h-0.8zM369.9 68.7h0.8v0.8h-0.8zM372.9 68.8h0.8v0.8h-0.8zM369.8 76.5h0.8v0.8h-0.8zM370.4 75.5h0.8v0.8h-0.8zM372.2 65.2h0.8v0.8h-0.8zM367.6 69.3h0.8v0.8h-0.8zM370.2 65.7h0.8v0.8h-0.8zM366.9 63.3h0.8v0.8h-0.8zM370.8 72.6h0.8v0.8h-0.8zM365.7 74.0h0.8v0.8h-0.8zM368.8 66.7h0.8v0.8h-0.8zM365.5 69.9h0.8v0.8h-0.8zM367.3 76.7h0.8v0.8h-0.8zM364.2 71.2h0.8v0.8h-0.8zM372.6 68.3h0.8v0.8h-0.8z" fill="#8fe35a" fill-opacity="0.95"/>
<path d="M377.7 55.4h0.9v0.9h-0.9zM378.8 55.6h0.9v0.9h-0.9zM376.6 57.5h0.9v0.9h-0.9zM378.3 54.0h0.9v0.9h-0.9zM379.4 56.9h0.9v0.9h-0.9zM377.4 56.5h0.9v0.9h-0.9z" fill="#8fe35a" fill-opacity="0.9"/>
<path d="M373.4 53.6h0.8v0.8h-0.8zM363.4 52.8h0.8v0.8h-0.8zM365.9 55.7h0.8v0.8h-0.8zM369.6 57.9h0.8v0.8h-0.8zM357.5 53.4h0.8v0.8h-0.8zM372.0 56.7h0.8v0.8h-0.8zM366.6 55.8h0.8v0.8h-0.8zM361.5 57.9h0.8v0.8h-0.8zM365.8 53.6h0.8v0.8h-0.8zM358.2 51.4h0.8v0.8h-0.8zM372.9 56.7h0.8v0.8h-0.8zM355.0 53.0h0.8v0.8h-0.8zM364.3 54.4h0.8v0.8h-0.8zM362.0 57.5h0.8v0.8h-0.8zM361.7 54.6h0.8v0.8h-0.8zM373.6 55.5h0.8v0.8h-0.8zM364.3 53.1h0.8v0.8h-0.8zM362.4 55.3h0.8v0.8h-0.8zM370.6 52.5h0.8v0.8h-0.8zM362.1 53.5h0.8v0.8h-0.8zM361.9 57.6h0.8v0.8h-0.8zM365.5 52.7h0.8v0.8h-0.8zM361.3 56.9h0.8v0.8h-0.8zM357.8 55.9h0.8v0.8h-0.8zM354.9 52.0h0.8v0.8h-0.8z" fill="#bb3305" fill-opacity="0.5"/>
<path d="M373.9 55.5h1.0v1.0h-1.0zM367.1 55.4h1.0v1.0h-1.0zM368.8 55.1h1.0v1.0h-1.0zM363.9 53.1h1.0v1.0h-1.0zM375.2 56.1h1.0v1.0h-1.0zM361.6 55.1h1.0v1.0h-1.0zM364.7 52.6h1.0v1.0h-1.0zM363.0 55.1h1.0v1.0h-1.0zM371.1 53.5h1.0v1.0h-1.0zM366.6 54.9h1.0v1.0h-1.0zM365.6 55.0h1.0v1.0h-1.0zM362.8 53.3h1.0v1.0h-1.0zM367.2 55.2h1.0v1.0h-1.0zM367.9 56.2h1.0v1.0h-1.0zM358.1 52.2h1.0v1.0h-1.0zM355.2 57.1h1.0v1.0h-1.0zM359.9 55.2h1.0v1.0h-1.0zM364.7 55.6h1.0v1.0h-1.0zM363.9 54.1h1.0v1.0h-1.0zM366.1 55.4h1.0v1.0h-1.0zM359.6 56.2h1.0v1.0h-1.0zM371.0 55.3h1.0v1.0h-1.0zM364.2 54.5h1.0v1.0h-1.0zM355.9 55.5h1.0v1.0h-1.0zM359.5 54.2h1.0v1.0h-1.0zM370.2 53.8h1.0v1.0h-1.0zM362.0 55.7h1.0v1.0h-1.0zM374.8 54.0h1.0v1.0h-1.0zM370.8 54.1h1.0v1.0h-1.0zM366.9 55.3h1.0v1.0h-1.0zM358.7 55.9h1.0v1.0h-1.0zM374.5 54.9h1.0v1.0h-1.0zM366.3 53.5h1.0v1.0h-1.0zM374.5 54.9h1.0v1.0h-1.0zM357.9 55.6h1.0v1.0h-1.0zM356.9 54.0h1.0v1.0h-1.0zM361.3 54.2h1.0v1.0h-1.0zM361.7 55.4h1.0v1.0h-1.0zM372.7 53.7h1.0v1.0h-1.0zM367.2 52.8h1.0v1.0h-1.0zM373.0 54.7h1.0v1.0h-1.0zM361.0 56.5h1.0v1.0h-1.0zM364.2 56.3h1.0v1.0h-1.0zM370.6 56.6h1.0v1.0h-1.0zM360.5 54.9h1.0v1.0h-1.0zM366.8 54.6h1.0v1.0h-1.0zM373.0 54.0h1.0v1.0h-1.0zM370.2 56.3h1.0v1.0h-1.0zM359.9 54.2h1.0v1.0h-1.0zM366.9 54.6h1.0v1.0h-1.0zM365.2 54.3h1.0v1.0h-1.0zM364.4 55.3h1.0v1.0h-1.0zM368.8 53.9h1.0v1.0h-1.0zM364.2 54.0h1.0v1.0h-1.0zM363.8 53.2h1.0v1.0h-1.0zM370.0 55.5h1.0v1.0h-1.0zM364.1 54.0h1.0v1.0h-1.0zM362.3 54.1h1.0v1.0h-1.0zM356.5 56.6h1.0v1.0h-1.0zM358.5 55.4h1.0v1.0h-1.0zM368.1 53.1h1.0v1.0h-1.0zM354.4 55.4h1.0v1.0h-1.0zM362.1 54.9h1.0v1.0h-1.0zM364.8 54.2h1.0v1.0h-1.0zM364.0 54.5h1.0v1.0h-1.0zM371.5 54.7h1.0v1.0h-1.0zM364.6 54.2h1.0v1.0h-1.0zM361.4 54.0h1.0v1.0h-1.0zM364.9 56.8h1.0v1.0h-1.0zM370.8 55.1h1.0v1.0h-1.0zM373.8 55.9h1.0v1.0h-1.0zM365.9 54.6h1.0v1.0h-1.0zM358.9 55.1h1.0v1.0h-1.0zM363.1 53.1h1.0v1.0h-1.0zM357.9 56.9h1.0v1.0h-1.0zM366.0 55.3h1.0v1.0h-1.0zM365.9 54.3h1.0v1.0h-1.0zM367.3 56.0h1.0v1.0h-1.0zM363.1 55.4h1.0v1.0h-1.0zM370.3 54.3h1.0v1.0h-1.0zM365.7 54.0h1.0v1.0h-1.0zM368.1 54.4h1.0v1.0h-1.0zM371.0 54.0h1.0v1.0h-1.0zM373.9 54.5h1.0v1.0h-1.0zM360.3 53.8h1.0v1.0h-1.0zM368.4 53.9h1.0v1.0h-1.0zM374.5 56.2h1.0v1.0h-1.0zM367.6 53.2h1.0v1.0h-1.0zM364.7 54.0h1.0v1.0h-1.0zM355.0 55.3h1.0v1.0h-1.0zM369.2 56.2h1.0v1.0h-1.0zM359.6 54.4h1.0v1.0h-1.0zM366.2 55.3h1.0v1.0h-1.0zM358.6 55.0h1.0v1.0h-1.0zM364.2 55.8h1.0v1.0h-1.0zM356.2 54.2h1.0v1.0h-1.0zM362.1 54.5h1.0v1.0h-1.0zM368.7 54.1h1.0v1.0h-1.0zM369.3 55.9h1.0v1.0h-1.0zM370.0 54.6h1.0v1.0h-1.0zM360.3 54.5h1.0v1.0h-1.0zM368.4 54.9h1.0v1.0h-1.0zM367.9 55.4h1.0v1.0h-1.0zM360.0 53.8h1.0v1.0h-1.0zM372.6 54.3h1.0v1.0h-1.0zM356.2 56.8h1.0v1.0h-1.0zM360.3 53.8h1.0v1.0h-1.0zM370.0 53.6h1.0v1.0h-1.0zM360.1 56.0h1.0v1.0h-1.0zM360.4 57.6h1.0v1.0h-1.0zM365.3 57.8h1.0v1.0h-1.0zM365.5 54.9h1.0v1.0h-1.0zM361.3 54.6h1.0v1.0h-1.0zM362.1 54.8h1.0v1.0h-1.0zM369.0 53.4h1.0v1.0h-1.0zM359.8 52.5h1.0v1.0h-1.0zM372.9 54.7h1.0v1.0h-1.0zM364.7 54.7h1.0v1.0h-1.0zM370.2 55.2h1.0v1.0h-1.0zM369.4 54.6h1.0v1.0h-1.0zM364.1 54.7h1.0v1.0h-1.0zM354.7 56.0h1.0v1.0h-1.0zM356.3 53.7h1.0v1.0h-1.0zM368.4 54.9h1.0v1.0h-1.0zM369.2 56.7h1.0v1.0h-1.0zM374.9 56.3h1.0v1.0h-1.0zM363.6 57.1h1.0v1.0h-1.0zM360.0 54.7h1.0v1.0h-1.0zM370.2 54.6h1.0v1.0h-1.0zM364.1 54.4h1.0v1.0h-1.0zM372.2 52.1h1.0v1.0h-1.0zM371.7 56.0h1.0v1.0h-1.0zM364.4 55.4h1.0v1.0h-1.0zM359.6 56.0h1.0v1.0h-1.0zM372.3 54.7h1.0v1.0h-1.0zM363.0 54.3h1.0v1.0h-1.0zM363.8 53.4h1.0v1.0h-1.0zM357.5 56.6h1.0v1.0h-1.0zM364.7 55.4h1.0v1.0h-1.0zM366.5 55.3h1.0v1.0h-1.0zM356.6 53.8h1.0v1.0h-1.0zM368.2 55.9h1.0v1.0h-1.0zM358.6 54.2h1.0v1.0h-1.0zM359.0 55.5h1.0v1.0h-1.0zM366.7 54.8h1.0v1.0h-1.0zM361.3 55.2h1.0v1.0h-1.0zM365.0 54.0h1.0v1.0h-1.0zM366.6 54.1h1.0v1.0h-1.0zM369.9 55.5h1.0v1.0h-1.0zM361.1 55.4h1.0v1.0h-1.0zM365.2 54.0h1.0v1.0h-1.0zM359.9 53.0h1.0v1.0h-1.0zM358.7 55.2h1.0v1.0h-1.0zM371.3 54.1h1.0v1.0h-1.0zM365.7 55.2h1.0v1.0h-1.0zM369.0 55.3h1.0v1.0h-1.0zM371.4 55.6h1.0v1.0h-1.0zM360.7 55.2h1.0v1.0h-1.0zM364.9 55.4h1.0v1.0h-1.0zM363.2 55.7h1.0v1.0h-1.0zM371.9 53.9h1.0v1.0h-1.0zM361.9 55.1h1.0v1.0h-1.0zM367.4 55.0h1.0v1.0h-1.0zM369.3 53.5h1.0v1.0h-1.0zM369.0 56.1h1.0v1.0h-1.0zM370.8 55.3h1.0v1.0h-1.0zM363.5 55.2h1.0v1.0h-1.0zM364.4 53.1h1.0v1.0h-1.0zM361.5 54.8h1.0v1.0h-1.0zM362.0 53.8h1.0v1.0h-1.0zM363.5 54.4h1.0v1.0h-1.0zM365.2 54.7h1.0v1.0h-1.0zM365.7 55.9h1.0v1.0h-1.0zM365.5 55.2h1.0v1.0h-1.0zM358.2 51.6h1.0v1.0h-1.0zM362.6 55.5h1.0v1.0h-1.0zM363.0 54.1h1.0v1.0h-1.0zM358.1 55.8h1.0v1.0h-1.0zM362.0 55.1h1.0v1.0h-1.0zM370.9 55.4h1.0v1.0h-1.0zM370.0 55.6h1.0v1.0h-1.0zM361.3 54.9h1.0v1.0h-1.0zM361.8 53.7h1.0v1.0h-1.0zM366.4 53.9h1.0v1.0h-1.0zM373.9 54.0h1.0v1.0h-1.0zM361.9 54.9h1.0v1.0h-1.0zM362.0 54.9h1.0v1.0h-1.0zM361.5 53.2h1.0v1.0h-1.0zM373.0 55.3h1.0v1.0h-1.0zM365.6 54.3h1.0v1.0h-1.0zM364.0 55.1h1.0v1.0h-1.0zM357.3 53.9h1.0v1.0h-1.0zM360.0 56.2h1.0v1.0h-1.0zM359.1 56.1h1.0v1.0h-1.0zM362.3 57.8h1.0v1.0h-1.0zM364.4 54.8h1.0v1.0h-1.0zM372.1 55.8h1.0v1.0h-1.0zM369.9 53.6h1.0v1.0h-1.0zM370.9 56.6h1.0v1.0h-1.0zM364.2 54.3h1.0v1.0h-1.0zM358.9 55.9h1.0v1.0h-1.0zM366.4 54.8h1.0v1.0h-1.0zM358.1 56.6h1.0v1.0h-1.0zM369.5 54.8h1.0v1.0h-1.0zM372.8 53.8h1.0v1.0h-1.0zM369.6 53.7h1.0v1.0h-1.0zM372.4 54.5h1.0v1.0h-1.0zM371.4 54.3h1.0v1.0h-1.0zM367.0 56.1h1.0v1.0h-1.0zM359.9 54.9h1.0v1.0h-1.0zM360.3 55.7h1.0v1.0h-1.0zM361.5 54.4h1.0v1.0h-1.0zM363.7 56.1h1.0v1.0h-1.0zM359.2 54.8h1.0v1.0h-1.0zM363.0 54.2h1.0v1.0h-1.0zM360.5 54.6h1.0v1.0h-1.0zM365.9 53.1h1.0v1.0h-1.0zM366.1 53.5h1.0v1.0h-1.0zM364.9 57.3h1.0v1.0h-1.0zM359.6 54.7h1.0v1.0h-1.0zM363.4 55.9h1.0v1.0h-1.0zM362.2 52.8h1.0v1.0h-1.0zM356.1 55.0h1.0v1.0h-1.0zM366.2 56.0h1.0v1.0h-1.0zM361.9 55.5h1.0v1.0h-1.0zM359.1 56.2h1.0v1.0h-1.0zM364.4 54.1h1.0v1.0h-1.0zM365.8 56.7h1.0v1.0h-1.0zM360.2 53.4h1.0v1.0h-1.0zM359.3 53.5h1.0v1.0h-1.0zM364.5 55.2h1.0v1.0h-1.0zM363.9 55.0h1.0v1.0h-1.0zM371.2 54.5h1.0v1.0h-1.0zM358.0 52.3h1.0v1.0h-1.0zM366.1 54.1h1.0v1.0h-1.0zM363.5 55.3h1.0v1.0h-1.0zM367.3 53.1h1.0v1.0h-1.0zM359.6 54.9h1.0v1.0h-1.0zM364.0 56.1h1.0v1.0h-1.0zM362.1 52.5h1.0v1.0h-1.0zM371.1 53.0h1.0v1.0h-1.0zM359.6 55.2h1.0v1.0h-1.0zM359.1 57.5h1.0v1.0h-1.0zM366.1 55.4h1.0v1.0h-1.0zM362.4 57.2h1.0v1.0h-1.0zM367.7 54.0h1.0v1.0h-1.0zM371.6 52.9h1.0v1.0h-1.0zM361.6 55.1h1.0v1.0h-1.0zM365.5 53.7h1.0v1.0h-1.0zM373.3 56.4h1.0v1.0h-1.0zM359.8 55.2h1.0v1.0h-1.0zM361.4 54.3h1.0v1.0h-1.0zM370.1 54.9h1.0v1.0h-1.0zM364.2 54.9h1.0v1.0h-1.0zM358.5 56.1h1.0v1.0h-1.0zM360.7 56.2h1.0v1.0h-1.0zM362.3 54.3h1.0v1.0h-1.0zM372.8 55.0h1.0v1.0h-1.0zM361.3 54.2h1.0v1.0h-1.0zM368.1 56.9h1.0v1.0h-1.0zM368.1 54.4h1.0v1.0h-1.0zM358.7 54.1h1.0v1.0h-1.0zM364.2 55.1h1.0v1.0h-1.0zM361.3 56.2h1.0v1.0h-1.0zM359.6 54.0h1.0v1.0h-1.0zM367.5 55.3h1.0v1.0h-1.0zM362.7 55.9h1.0v1.0h-1.0zM357.2 56.6h1.0v1.0h-1.0zM365.4 57.0h1.0v1.0h-1.0zM365.1 56.3h1.0v1.0h-1.0zM363.7 55.0h1.0v1.0h-1.0zM367.6 52.9h1.0v1.0h-1.0zM363.7 56.7h1.0v1.0h-1.0zM369.8 55.2h1.0v1.0h-1.0zM365.9 56.3h1.0v1.0h-1.0zM366.6 52.7h1.0v1.0h-1.0zM359.7 54.5h1.0v1.0h-1.0zM365.6 54.3h1.0v1.0h-1.0zM364.2 56.6h1.0v1.0h-1.0zM369.9 55.5h1.0v1.0h-1.0zM364.9 54.9h1.0v1.0h-1.0zM366.8 55.1h1.0v1.0h-1.0zM360.9 55.7h1.0v1.0h-1.0zM360.3 54.8h1.0v1.0h-1.0zM362.9 53.5h1.0v1.0h-1.0zM368.1 54.7h1.0v1.0h-1.0zM358.5 54.7h1.0v1.0h-1.0zM357.4 56.4h1.0v1.0h-1.0zM367.6 57.0h1.0v1.0h-1.0zM361.7 55.6h1.0v1.0h-1.0zM359.6 53.9h1.0v1.0h-1.0zM364.3 55.3h1.0v1.0h-1.0zM369.8 54.5h1.0v1.0h-1.0zM370.7 55.9h1.0v1.0h-1.0zM360.1 54.6h1.0v1.0h-1.0zM359.9 56.7h1.0v1.0h-1.0zM361.8 55.8h1.0v1.0h-1.0zM369.7 54.5h1.0v1.0h-1.0zM362.2 55.2h1.0v1.0h-1.0zM360.6 53.4h1.0v1.0h-1.0zM359.6 55.2h1.0v1.0h-1.0zM365.8 56.7h1.0v1.0h-1.0zM355.0 55.4h1.0v1.0h-1.0zM358.6 56.1h1.0v1.0h-1.0zM368.5 54.9h1.0v1.0h-1.0zM372.7 54.4h1.0v1.0h-1.0zM362.0 53.6h1.0v1.0h-1.0zM361.3 54.9h1.0v1.0h-1.0zM368.4 56.2h1.0v1.0h-1.0zM363.4 54.0h1.0v1.0h-1.0zM363.0 54.3h1.0v1.0h-1.0zM362.3 54.4h1.0v1.0h-1.0zM360.1 54.7h1.0v1.0h-1.0zM362.0 54.6h1.0v1.0h-1.0zM357.4 55.0h1.0v1.0h-1.0zM367.9 55.5h1.0v1.0h-1.0zM361.9 53.6h1.0v1.0h-1.0zM357.8 53.5h1.0v1.0h-1.0zM361.4 54.5h1.0v1.0h-1.0zM355.3 55.5h1.0v1.0h-1.0zM356.5 54.1h1.0v1.0h-1.0zM360.9 55.7h1.0v1.0h-1.0zM374.7 54.4h1.0v1.0h-1.0zM363.3 54.4h1.0v1.0h-1.0zM363.7 54.6h1.0v1.0h-1.0zM364.2 53.9h1.0v1.0h-1.0zM366.7 54.2h1.0v1.0h-1.0zM367.9 53.6h1.0v1.0h-1.0zM355.3 55.6h1.0v1.0h-1.0zM362.3 53.5h1.0v1.0h-1.0zM367.2 54.2h1.0v1.0h-1.0zM368.7 54.2h1.0v1.0h-1.0zM369.6 55.0h1.0v1.0h-1.0zM366.7 55.0h1.0v1.0h-1.0zM362.9 54.4h1.0v1.0h-1.0zM367.2 55.6h1.0v1.0h-1.0zM362.6 57.2h1.0v1.0h-1.0zM373.8 53.6h1.0v1.0h-1.0zM370.6 54.7h1.0v1.0h-1.0zM366.0 53.9h1.0v1.0h-1.0zM373.6 53.9h1.0v1.0h-1.0zM364.4 54.0h1.0v1.0h-1.0zM375.1 56.2h1.0v1.0h-1.0zM357.8 54.3h1.0v1.0h-1.0zM366.7 54.3h1.0v1.0h-1.0zM362.9 53.6h1.0v1.0h-1.0zM366.1 53.6h1.0v1.0h-1.0zM369.2 57.4h1.0v1.0h-1.0zM363.1 56.6h1.0v1.0h-1.0zM366.8 54.1h1.0v1.0h-1.0zM363.0 53.8h1.0v1.0h-1.0zM365.4 55.6h1.0v1.0h-1.0zM369.8 54.5h1.0v1.0h-1.0zM358.4 54.7h1.0v1.0h-1.0zM373.7 55.1h1.0v1.0h-1.0zM364.5 52.6h1.0v1.0h-1.0zM362.5 55.4h1.0v1.0h-1.0zM359.8 56.3h1.0v1.0h-1.0zM361.8 53.9h1.0v1.0h-1.0zM361.7 54.7h1.0v1.0h-1.0zM370.1 54.2h1.0v1.0h-1.0zM355.3 54.7h1.0v1.0h-1.0zM367.6 56.5h1.0v1.0h-1.0zM358.8 56.4h1.0v1.0h-1.0zM368.4 55.3h1.0v1.0h-1.0zM360.7 53.8h1.0v1.0h-1.0zM359.7 55.8h1.0v1.0h-1.0zM366.0 56.0h1.0v1.0h-1.0zM374.5 54.8h1.0v1.0h-1.0zM364.5 56.9h1.0v1.0h-1.0zM357.9 54.3h1.0v1.0h-1.0zM362.8 54.4h1.0v1.0h-1.0zM365.6 53.9h1.0v1.0h-1.0zM371.0 53.3h1.0v1.0h-1.0zM360.5 53.0h1.0v1.0h-1.0zM357.4 55.4h1.0v1.0h-1.0zM368.1 54.6h1.0v1.0h-1.0zM369.3 55.5h1.0v1.0h-1.0zM361.7 54.8h1.0v1.0h-1.0zM366.8 57.0h1.0v1.0h-1.0zM362.5 55.2h1.0v1.0h-1.0zM367.7 56.1h1.0v1.0h-1.0zM367.1 56.0h1.0v1.0h-1.0zM359.2 54.5h1.0v1.0h-1.0zM354.5 54.8h1.0v1.0h-1.0zM365.3 55.1h1.0v1.0h-1.0zM365.6 53.4h1.0v1.0h-1.0zM361.1 54.6h1.0v1.0h-1.0zM365.7 53.9h1.0v1.0h-1.0zM364.2 54.0h1.0v1.0h-1.0zM357.8 54.1h1.0v1.0h-1.0zM360.5 55.7h1.0v1.0h-1.0zM371.9 55.4h1.0v1.0h-1.0zM363.7 54.2h1.0v1.0h-1.0zM356.5 54.2h1.0v1.0h-1.0zM373.1 56.0h1.0v1.0h-1.0zM366.0 54.5h1.0v1.0h-1.0zM364.8 55.3h1.0v1.0h-1.0zM364.8 55.3h1.0v1.0h-1.0zM360.7 54.9h1.0v1.0h-1.0zM362.9 56.0h1.0v1.0h-1.0zM358.2 56.2h1.0v1.0h-1.0zM364.3 54.3h1.0v1.0h-1.0zM364.9 54.9h1.0v1.0h-1.0zM363.6 55.3h1.0v1.0h-1.0zM361.7 53.0h1.0v1.0h-1.0zM368.5 54.8h1.0v1.0h-1.0zM373.6 55.2h1.0v1.0h-1.0zM361.2 55.4h1.0v1.0h-1.0zM359.0 54.7h1.0v1.0h-1.0zM356.3 55.5h1.0v1.0h-1.0zM367.8 53.7h1.0v1.0h-1.0zM367.2 55.8h1.0v1.0h-1.0zM369.1 54.1h1.0v1.0h-1.0zM361.1 53.6h1.0v1.0h-1.0zM357.9 55.1h1.0v1.0h-1.0zM365.0 56.2h1.0v1.0h-1.0zM366.3 54.5h1.0v1.0h-1.0zM357.2 56.5h1.0v1.0h-1.0zM365.7 54.8h1.0v1.0h-1.0zM359.5 53.7h1.0v1.0h-1.0zM368.2 53.8h1.0v1.0h-1.0zM367.9 55.5h1.0v1.0h-1.0zM362.8 53.1h1.0v1.0h-1.0zM367.0 56.3h1.0v1.0h-1.0zM360.4 53.5h1.0v1.0h-1.0zM370.6 55.0h1.0v1.0h-1.0zM361.5 56.1h1.0v1.0h-1.0zM363.3 55.3h1.0v1.0h-1.0zM362.7 54.0h1.0v1.0h-1.0zM366.0 53.9h1.0v1.0h-1.0zM355.4 54.2h1.0v1.0h-1.0zM371.3 56.0h1.0v1.0h-1.0zM373.4 55.1h1.0v1.0h-1.0zM362.5 55.3h1.0v1.0h-1.0zM359.8 55.6h1.0v1.0h-1.0zM362.4 55.1h1.0v1.0h-1.0zM360.3 54.7h1.0v1.0h-1.0zM370.0 54.6h1.0v1.0h-1.0zM361.2 55.1h1.0v1.0h-1.0zM369.5 54.6h1.0v1.0h-1.0zM358.6 53.1h1.0v1.0h-1.0zM357.7 55.9h1.0v1.0h-1.0zM364.3 55.3h1.0v1.0h-1.0zM370.5 55.1h1.0v1.0h-1.0zM367.4 54.3h1.0v1.0h-1.0zM356.3 55.5h1.0v1.0h-1.0zM364.3 55.4h1.0v1.0h-1.0zM359.2 54.7h1.0v1.0h-1.0zM365.3 56.2h1.0v1.0h-1.0zM363.6 54.9h1.0v1.0h-1.0zM362.5 56.2h1.0v1.0h-1.0zM364.3 54.4h1.0v1.0h-1.0zM367.1 54.6h1.0v1.0h-1.0zM362.1 56.5h1.0v1.0h-1.0zM370.0 54.9h1.0v1.0h-1.0zM369.1 55.7h1.0v1.0h-1.0zM367.9 54.9h1.0v1.0h-1.0zM365.2 55.2h1.0v1.0h-1.0zM367.8 55.2h1.0v1.0h-1.0zM361.9 54.7h1.0v1.0h-1.0zM367.2 53.8h1.0v1.0h-1.0zM364.8 55.6h1.0v1.0h-1.0zM365.7 54.5h1.0v1.0h-1.0zM364.7 54.3h1.0v1.0h-1.0zM370.0 54.4h1.0v1.0h-1.0zM356.0 53.5h1.0v1.0h-1.0zM366.4 55.0h1.0v1.0h-1.0zM362.3 53.4h1.0v1.0h-1.0zM364.0 53.9h1.0v1.0h-1.0zM361.3 54.8h1.0v1.0h-1.0zM360.7 55.1h1.0v1.0h-1.0zM360.9 54.3h1.0v1.0h-1.0zM363.6 56.4h1.0v1.0h-1.0zM373.1 55.8h1.0v1.0h-1.0zM360.9 54.8h1.0v1.0h-1.0zM369.6 55.7h1.0v1.0h-1.0zM356.2 54.8h1.0v1.0h-1.0zM360.9 55.6h1.0v1.0h-1.0zM368.2 54.3h1.0v1.0h-1.0zM364.4 56.8h1.0v1.0h-1.0zM362.0 54.3h1.0v1.0h-1.0zM372.6 54.8h1.0v1.0h-1.0zM367.3 53.5h1.0v1.0h-1.0zM374.3 55.9h1.0v1.0h-1.0zM366.7 55.6h1.0v1.0h-1.0zM362.2 54.3h1.0v1.0h-1.0zM356.5 55.2h1.0v1.0h-1.0zM371.3 55.7h1.0v1.0h-1.0zM369.7 55.6h1.0v1.0h-1.0zM359.9 53.4h1.0v1.0h-1.0zM368.2 55.0h1.0v1.0h-1.0zM370.0 54.5h1.0v1.0h-1.0zM360.1 55.3h1.0v1.0h-1.0zM361.9 53.1h1.0v1.0h-1.0zM361.6 53.9h1.0v1.0h-1.0zM358.9 54.2h1.0v1.0h-1.0zM369.8 57.3h1.0v1.0h-1.0zM373.9 54.4h1.0v1.0h-1.0zM370.8 54.7h1.0v1.0h-1.0zM366.9 54.1h1.0v1.0h-1.0zM364.4 53.1h1.0v1.0h-1.0zM374.3 54.0h1.0v1.0h-1.0zM367.9 54.2h1.0v1.0h-1.0zM366.2 53.6h1.0v1.0h-1.0zM362.8 55.8h1.0v1.0h-1.0zM367.9 52.8h1.0v1.0h-1.0zM369.3 53.4h1.0v1.0h-1.0zM366.3 55.4h1.0v1.0h-1.0zM361.4 54.5h1.0v1.0h-1.0zM363.5 55.2h1.0v1.0h-1.0zM369.6 56.2h1.0v1.0h-1.0zM366.5 56.9h1.0v1.0h-1.0zM359.8 56.7h1.0v1.0h-1.0zM363.4 55.6h1.0v1.0h-1.0zM364.1 54.9h1.0v1.0h-1.0zM359.9 55.2h1.0v1.0h-1.0zM364.7 54.8h1.0v1.0h-1.0zM368.6 54.6h1.0v1.0h-1.0zM364.8 55.0h1.0v1.0h-1.0zM371.7 55.8h1.0v1.0h-1.0zM359.2 54.2h1.0v1.0h-1.0zM364.9 55.7h1.0v1.0h-1.0zM369.9 54.6h1.0v1.0h-1.0zM372.2 56.3h1.0v1.0h-1.0zM373.2 55.0h1.0v1.0h-1.0zM367.8 53.2h1.0v1.0h-1.0zM355.4 54.2h1.0v1.0h-1.0zM368.6 55.9h1.0v1.0h-1.0zM364.3 55.9h1.0v1.0h-1.0zM367.9 56.4h1.0v1.0h-1.0zM356.4 54.0h1.0v1.0h-1.0zM359.7 53.7h1.0v1.0h-1.0zM373.5 53.9h1.0v1.0h-1.0zM360.4 54.4h1.0v1.0h-1.0zM369.5 54.3h1.0v1.0h-1.0zM368.7 55.4h1.0v1.0h-1.0zM361.4 52.3h1.0v1.0h-1.0zM359.9 53.5h1.0v1.0h-1.0zM373.5 54.1h1.0v1.0h-1.0zM359.1 55.2h1.0v1.0h-1.0zM365.1 53.8h1.0v1.0h-1.0zM370.6 55.8h1.0v1.0h-1.0zM366.3 54.0h1.0v1.0h-1.0zM360.2 52.7h1.0v1.0h-1.0zM366.8 55.2h1.0v1.0h-1.0zM359.9 54.8h1.0v1.0h-1.0zM355.8 55.5h1.0v1.0h-1.0zM362.5 54.3h1.0v1.0h-1.0zM368.1 54.7h1.0v1.0h-1.0zM370.1 55.4h1.0v1.0h-1.0zM370.9 54.9h1.0v1.0h-1.0zM355.8 55.9h1.0v1.0h-1.0zM366.1 53.4h1.0v1.0h-1.0zM365.2 55.7h1.0v1.0h-1.0zM359.4 54.9h1.0v1.0h-1.0zM360.9 53.8h1.0v1.0h-1.0zM361.5 56.1h1.0v1.0h-1.0zM368.4 54.8h1.0v1.0h-1.0zM364.4 54.9h1.0v1.0h-1.0zM366.3 55.0h1.0v1.0h-1.0zM355.7 55.8h1.0v1.0h-1.0zM360.3 52.1h1.0v1.0h-1.0zM368.5 53.6h1.0v1.0h-1.0zM364.0 54.7h1.0v1.0h-1.0zM361.7 55.4h1.0v1.0h-1.0zM363.4 54.5h1.0v1.0h-1.0zM359.7 54.5h1.0v1.0h-1.0zM359.3 54.9h1.0v1.0h-1.0zM371.8 55.9h1.0v1.0h-1.0zM367.1 53.4h1.0v1.0h-1.0zM370.3 55.8h1.0v1.0h-1.0zM364.9 54.5h1.0v1.0h-1.0zM370.6 53.7h1.0v1.0h-1.0zM362.8 57.2h1.0v1.0h-1.0zM370.1 52.7h1.0v1.0h-1.0zM364.9 56.2h1.0v1.0h-1.0zM361.5 55.4h1.0v1.0h-1.0zM365.3 53.3h1.0v1.0h-1.0zM361.5 56.0h1.0v1.0h-1.0zM371.1 54.2h1.0v1.0h-1.0zM370.8 54.1h1.0v1.0h-1.0zM366.1 54.8h1.0v1.0h-1.0zM358.2 55.1h1.0v1.0h-1.0zM362.7 51.9h1.0v1.0h-1.0zM360.4 53.9h1.0v1.0h-1.0zM360.4 53.8h1.0v1.0h-1.0zM361.1 52.2h1.0v1.0h-1.0zM369.5 54.9h1.0v1.0h-1.0zM366.2 54.5h1.0v1.0h-1.0zM365.1 54.5h1.0v1.0h-1.0zM359.0 53.2h1.0v1.0h-1.0zM365.2 55.9h1.0v1.0h-1.0zM366.0 56.5h1.0v1.0h-1.0zM357.6 54.5h1.0v1.0h-1.0zM361.5 56.1h1.0v1.0h-1.0zM373.8 54.3h1.0v1.0h-1.0zM368.7 54.6h1.0v1.0h-1.0zM359.5 54.7h1.0v1.0h-1.0zM359.3 56.4h1.0v1.0h-1.0zM367.9 56.1h1.0v1.0h-1.0zM366.7 52.3h1.0v1.0h-1.0zM369.1 54.9h1.0v1.0h-1.0zM370.2 56.6h1.0v1.0h-1.0zM359.4 55.6h1.0v1.0h-1.0zM366.6 54.6h1.0v1.0h-1.0zM363.3 55.4h1.0v1.0h-1.0zM367.9 55.5h1.0v1.0h-1.0zM362.6 53.4h1.0v1.0h-1.0zM371.8 56.2h1.0v1.0h-1.0zM361.8 54.8h1.0v1.0h-1.0zM369.1 53.0h1.0v1.0h-1.0zM367.5 57.3h1.0v1.0h-1.0zM366.2 54.1h1.0v1.0h-1.0zM365.9 54.4h1.0v1.0h-1.0zM365.8 52.9h1.0v1.0h-1.0zM358.0 53.3h1.0v1.0h-1.0zM369.6 54.7h1.0v1.0h-1.0zM370.9 52.7h1.0v1.0h-1.0zM361.6 56.3h1.0v1.0h-1.0zM360.6 52.8h1.0v1.0h-1.0zM360.8 54.4h1.0v1.0h-1.0zM364.7 56.2h1.0v1.0h-1.0zM371.9 56.4h1.0v1.0h-1.0zM367.9 54.3h1.0v1.0h-1.0zM362.2 53.2h1.0v1.0h-1.0zM371.6 56.1h1.0v1.0h-1.0zM365.3 53.9h1.0v1.0h-1.0zM368.4 55.3h1.0v1.0h-1.0zM365.6 53.6h1.0v1.0h-1.0zM366.1 54.2h1.0v1.0h-1.0zM368.7 55.4h1.0v1.0h-1.0zM367.1 54.4h1.0v1.0h-1.0zM372.9 55.6h1.0v1.0h-1.0zM371.5 55.7h1.0v1.0h-1.0zM368.3 55.2h1.0v1.0h-1.0zM359.1 52.9h1.0v1.0h-1.0zM359.8 55.4h1.0v1.0h-1.0zM369.6 55.0h1.0v1.0h-1.0zM365.3 56.7h1.0v1.0h-1.0zM362.7 52.9h1.0v1.0h-1.0zM356.6 54.5h1.0v1.0h-1.0zM368.5 55.6h1.0v1.0h-1.0zM363.6 55.7h1.0v1.0h-1.0zM364.5 54.0h1.0v1.0h-1.0zM362.8 55.6h1.0v1.0h-1.0zM369.9 53.6h1.0v1.0h-1.0zM359.6 54.9h1.0v1.0h-1.0zM358.2 55.2h1.0v1.0h-1.0zM367.5 54.2h1.0v1.0h-1.0zM364.7 55.3h1.0v1.0h-1.0zM355.6 54.8h1.0v1.0h-1.0zM368.0 55.8h1.0v1.0h-1.0zM371.0 54.7h1.0v1.0h-1.0zM357.2 56.2h1.0v1.0h-1.0zM368.9 54.1h1.0v1.0h-1.0zM370.3 55.9h1.0v1.0h-1.0zM364.1 52.3h1.0v1.0h-1.0zM362.3 54.0h1.0v1.0h-1.0zM360.4 54.7h1.0v1.0h-1.0zM359.1 55.2h1.0v1.0h-1.0zM374.8 53.5h1.0v1.0h-1.0zM370.3 54.2h1.0v1.0h-1.0zM367.7 54.7h1.0v1.0h-1.0zM371.6 54.1h1.0v1.0h-1.0zM368.7 54.0h1.0v1.0h-1.0zM366.0 54.8h1.0v1.0h-1.0zM370.6 53.1h1.0v1.0h-1.0zM357.7 56.3h1.0v1.0h-1.0zM366.8 56.6h1.0v1.0h-1.0zM359.4 55.0h1.0v1.0h-1.0zM368.0 56.7h1.0v1.0h-1.0zM364.5 54.3h1.0v1.0h-1.0zM368.6 54.7h1.0v1.0h-1.0zM360.8 55.6h1.0v1.0h-1.0zM354.7 53.7h1.0v1.0h-1.0zM372.0 54.3h1.0v1.0h-1.0zM363.1 55.2h1.0v1.0h-1.0zM370.7 55.4h1.0v1.0h-1.0zM359.7 54.2h1.0v1.0h-1.0zM370.3 54.7h1.0v1.0h-1.0zM361.5 55.7h1.0v1.0h-1.0zM370.8 57.1h1.0v1.0h-1.0zM359.1 54.1h1.0v1.0h-1.0zM361.1 55.2h1.0v1.0h-1.0zM362.3 56.0h1.0v1.0h-1.0zM361.4 54.5h1.0v1.0h-1.0zM367.8 55.0h1.0v1.0h-1.0zM359.5 56.4h1.0v1.0h-1.0zM367.8 54.3h1.0v1.0h-1.0zM365.9 53.6h1.0v1.0h-1.0zM358.3 54.5h1.0v1.0h-1.0zM366.7 54.9h1.0v1.0h-1.0zM360.7 53.3h1.0v1.0h-1.0zM356.0 56.5h1.0v1.0h-1.0zM366.7 54.0h1.0v1.0h-1.0zM371.1 55.4h1.0v1.0h-1.0zM362.6 54.2h1.0v1.0h-1.0zM370.8 55.1h1.0v1.0h-1.0zM373.4 55.2h1.0v1.0h-1.0zM361.7 54.2h1.0v1.0h-1.0zM361.1 55.1h1.0v1.0h-1.0zM366.1 55.4h1.0v1.0h-1.0zM367.2 53.7h1.0v1.0h-1.0zM363.7 53.8h1.0v1.0h-1.0zM367.3 53.4h1.0v1.0h-1.0zM361.7 53.9h1.0v1.0h-1.0zM361.5 54.5h1.0v1.0h-1.0zM372.8 54.5h1.0v1.0h-1.0zM357.3 54.5h1.0v1.0h-1.0zM368.7 55.4h1.0v1.0h-1.0zM366.1 56.9h1.0v1.0h-1.0zM370.6 54.9h1.0v1.0h-1.0zM371.2 53.4h1.0v1.0h-1.0zM363.9 53.9h1.0v1.0h-1.0zM365.7 56.5h1.0v1.0h-1.0zM362.2 56.5h1.0v1.0h-1.0zM359.4 56.3h1.0v1.0h-1.0zM355.9 53.9h1.0v1.0h-1.0zM370.0 54.7h1.0v1.0h-1.0zM365.6 54.8h1.0v1.0h-1.0zM365.8 54.6h1.0v1.0h-1.0zM359.7 54.5h1.0v1.0h-1.0zM365.4 53.9h1.0v1.0h-1.0zM367.3 56.7h1.0v1.0h-1.0zM356.2 54.2h1.0v1.0h-1.0zM363.3 54.8h1.0v1.0h-1.0zM365.3 54.0h1.0v1.0h-1.0zM364.6 54.8h1.0v1.0h-1.0zM364.3 56.4h1.0v1.0h-1.0zM365.5 53.2h1.0v1.0h-1.0zM356.6 55.4h1.0v1.0h-1.0zM363.0 54.1h1.0v1.0h-1.0zM357.7 54.5h1.0v1.0h-1.0zM364.3 54.1h1.0v1.0h-1.0zM363.0 55.7h1.0v1.0h-1.0zM368.9 55.4h1.0v1.0h-1.0zM363.9 53.4h1.0v1.0h-1.0zM368.9 56.4h1.0v1.0h-1.0zM371.5 56.0h1.0v1.0h-1.0zM366.3 55.2h1.0v1.0h-1.0zM364.7 56.1h1.0v1.0h-1.0zM363.4 57.1h1.0v1.0h-1.0zM368.9 54.5h1.0v1.0h-1.0zM364.8 53.1h1.0v1.0h-1.0zM361.0 54.5h1.0v1.0h-1.0zM369.6 54.9h1.0v1.0h-1.0zM363.2 55.5h1.0v1.0h-1.0zM374.9 55.1h1.0v1.0h-1.0zM364.5 55.0h1.0v1.0h-1.0zM368.3 54.3h1.0v1.0h-1.0zM365.4 55.3h1.0v1.0h-1.0zM363.0 55.2h1.0v1.0h-1.0zM366.6 55.6h1.0v1.0h-1.0zM359.6 54.2h1.0v1.0h-1.0zM362.6 56.1h1.0v1.0h-1.0zM366.1 53.1h1.0v1.0h-1.0zM358.1 56.8h1.0v1.0h-1.0zM366.6 53.4h1.0v1.0h-1.0zM360.0 55.0h1.0v1.0h-1.0zM372.3 56.5h1.0v1.0h-1.0zM362.9 54.5h1.0v1.0h-1.0zM374.9 53.8h1.0v1.0h-1.0zM373.0 55.2h1.0v1.0h-1.0zM365.3 56.2h1.0v1.0h-1.0zM367.3 53.9h1.0v1.0h-1.0zM356.8 54.8h1.0v1.0h-1.0zM367.5 56.2h1.0v1.0h-1.0zM368.0 56.4h1.0v1.0h-1.0zM369.0 55.0h1.0v1.0h-1.0zM367.1 55.2h1.0v1.0h-1.0zM361.5 54.7h1.0v1.0h-1.0zM365.5 54.3h1.0v1.0h-1.0zM357.1 53.3h1.0v1.0h-1.0zM367.4 55.4h1.0v1.0h-1.0zM365.4 53.6h1.0v1.0h-1.0zM369.3 54.4h1.0v1.0h-1.0zM357.0 57.2h1.0v1.0h-1.0zM367.6 54.3h1.0v1.0h-1.0zM372.6 56.2h1.0v1.0h-1.0zM366.2 53.0h1.0v1.0h-1.0zM362.8 54.5h1.0v1.0h-1.0zM367.2 54.7h1.0v1.0h-1.0zM366.6 53.1h1.0v1.0h-1.0zM361.4 56.3h1.0v1.0h-1.0zM357.2 55.8h1.0v1.0h-1.0zM357.5 56.1h1.0v1.0h-1.0zM355.1 55.2h1.0v1.0h-1.0zM362.7 56.1h1.0v1.0h-1.0zM371.0 55.0h1.0v1.0h-1.0zM374.2 55.8h1.0v1.0h-1.0zM362.3 53.8h1.0v1.0h-1.0zM367.0 54.7h1.0v1.0h-1.0zM362.3 53.1h1.0v1.0h-1.0zM364.0 54.7h1.0v1.0h-1.0zM370.0 54.3h1.0v1.0h-1.0zM356.6 53.7h1.0v1.0h-1.0zM364.6 55.1h1.0v1.0h-1.0zM368.6 54.4h1.0v1.0h-1.0zM367.6 55.0h1.0v1.0h-1.0zM373.7 54.7h1.0v1.0h-1.0zM365.6 55.4h1.0v1.0h-1.0zM371.2 53.8h1.0v1.0h-1.0zM362.3 54.5h1.0v1.0h-1.0zM370.4 54.8h1.0v1.0h-1.0zM369.5 53.3h1.0v1.0h-1.0zM372.8 55.2h1.0v1.0h-1.0zM358.5 54.9h1.0v1.0h-1.0zM368.8 55.8h1.0v1.0h-1.0zM365.7 54.2h1.0v1.0h-1.0zM368.8 54.0h1.0v1.0h-1.0zM364.4 55.6h1.0v1.0h-1.0zM357.2 55.2h1.0v1.0h-1.0zM354.5 53.8h1.0v1.0h-1.0zM358.3 54.7h1.0v1.0h-1.0zM368.6 54.7h1.0v1.0h-1.0zM369.6 54.9h1.0v1.0h-1.0zM363.7 55.3h1.0v1.0h-1.0zM363.6 54.9h1.0v1.0h-1.0zM370.3 54.2h1.0v1.0h-1.0zM370.8 53.6h1.0v1.0h-1.0zM363.7 53.0h1.0v1.0h-1.0zM362.0 56.5h1.0v1.0h-1.0zM366.7 56.1h1.0v1.0h-1.0zM357.1 53.7h1.0v1.0h-1.0zM367.3 55.7h1.0v1.0h-1.0zM369.2 53.0h1.0v1.0h-1.0zM367.5 54.7h1.0v1.0h-1.0zM365.4 55.3h1.0v1.0h-1.0zM363.3 53.0h1.0v1.0h-1.0zM359.2 53.3h1.0v1.0h-1.0zM357.9 54.7h1.0v1.0h-1.0zM371.7 54.0h1.0v1.0h-1.0zM360.8 53.6h1.0v1.0h-1.0zM355.7 54.9h1.0v1.0h-1.0zM362.3 54.5h1.0v1.0h-1.0zM359.8 55.3h1.0v1.0h-1.0zM358.5 55.4h1.0v1.0h-1.0zM361.3 55.6h1.0v1.0h-1.0zM360.1 55.3h1.0v1.0h-1.0zM367.1 54.7h1.0v1.0h-1.0zM373.4 55.0h1.0v1.0h-1.0zM360.1 55.5h1.0v1.0h-1.0zM360.5 54.2h1.0v1.0h-1.0zM364.9 55.0h1.0v1.0h-1.0zM373.8 52.9h1.0v1.0h-1.0zM363.4 56.0h1.0v1.0h-1.0zM364.0 55.1h1.0v1.0h-1.0zM372.8 53.5h1.0v1.0h-1.0zM365.0 55.6h1.0v1.0h-1.0zM361.7 52.9h1.0v1.0h-1.0zM359.6 55.0h1.0v1.0h-1.0zM365.8 56.8h1.0v1.0h-1.0zM371.8 53.2h1.0v1.0h-1.0zM370.3 55.8h1.0v1.0h-1.0zM373.3 54.6h1.0v1.0h-1.0zM361.9 55.0h1.0v1.0h-1.0zM372.9 55.5h1.0v1.0h-1.0zM373.7 55.6h1.0v1.0h-1.0zM361.7 53.7h1.0v1.0h-1.0zM374.5 53.2h1.0v1.0h-1.0zM363.0 54.5h1.0v1.0h-1.0zM360.0 54.2h1.0v1.0h-1.0zM364.8 57.3h1.0v1.0h-1.0zM364.5 54.2h1.0v1.0h-1.0zM365.5 55.8h1.0v1.0h-1.0zM360.5 54.4h1.0v1.0h-1.0zM355.6 55.5h1.0v1.0h-1.0zM368.4 56.4h1.0v1.0h-1.0zM358.5 57.1h1.0v1.0h-1.0zM369.4 54.5h1.0v1.0h-1.0zM362.7 54.5h1.0v1.0h-1.0zM358.4 55.6h1.0v1.0h-1.0zM361.6 54.0h1.0v1.0h-1.0zM367.5 54.9h1.0v1.0h-1.0zM361.7 54.6h1.0v1.0h-1.0zM362.2 56.2h1.0v1.0h-1.0zM370.1 54.0h1.0v1.0h-1.0zM364.6 56.3h1.0v1.0h-1.0zM363.3 56.7h1.0v1.0h-1.0zM367.1 55.5h1.0v1.0h-1.0zM366.6 55.4h1.0v1.0h-1.0zM367.3 55.4h1.0v1.0h-1.0zM362.1 55.8h1.0v1.0h-1.0zM365.1 53.7h1.0v1.0h-1.0zM359.4 55.0h1.0v1.0h-1.0zM366.6 52.5h1.0v1.0h-1.0zM364.7 57.8h1.0v1.0h-1.0zM356.7 54.5h1.0v1.0h-1.0zM361.6 55.4h1.0v1.0h-1.0zM372.2 56.5h1.0v1.0h-1.0zM359.5 56.1h1.0v1.0h-1.0zM358.4 55.1h1.0v1.0h-1.0zM365.7 55.5h1.0v1.0h-1.0zM360.6 56.2h1.0v1.0h-1.0zM364.4 54.8h1.0v1.0h-1.0zM363.4 53.7h1.0v1.0h-1.0zM368.6 55.2h1.0v1.0h-1.0zM367.2 56.8h1.0v1.0h-1.0zM360.2 54.5h1.0v1.0h-1.0z" fill="#bb3305" fill-opacity="0.9"/>
<path d="M376.2,63 C377,61.5 379.5,61.2 380.5,62 C381.6,63 383,65 383.6,68 C384.2,71 384.4,74 384.3,77.6 L374.2,77.6 C374.1,74 374.3,70 374.8,67 C375.2,65 375.6,64 376.2,63 Z" fill="#e7681a"/>
<path d="M379.0 74.3h1.0v1.0h-1.0zM378.6 74.6h1.0v1.0h-1.0zM380.0 63.6h1.0v1.0h-1.0zM377.5 62.5h1.0v1.0h-1.0zM378.4 69.1h1.0v1.0h-1.0zM380.3 71.5h1.0v1.0h-1.0zM378.9 75.9h1.0v1.0h-1.0zM380.3 65.8h1.0v1.0h-1.0zM377.5 72.1h1.0v1.0h-1.0zM382.8 70.0h1.0v1.0h-1.0zM378.6 71.9h1.0v1.0h-1.0zM380.8 70.4h1.0v1.0h-1.0zM379.7 69.1h1.0v1.0h-1.0zM377.8 67.6h1.0v1.0h-1.0zM380.5 68.5h1.0v1.0h-1.0zM380.2 72.5h1.0v1.0h-1.0zM376.8 65.8h1.0v1.0h-1.0zM378.6 74.1h1.0v1.0h-1.0zM384.7 77.1h1.0v1.0h-1.0zM382.0 72.4h1.0v1.0h-1.0zM378.1 73.0h1.0v1.0h-1.0zM374.1 74.6h1.0v1.0h-1.0zM379.0 73.3h1.0v1.0h-1.0zM376.7 66.3h1.0v1.0h-1.0zM377.6 70.6h1.0v1.0h-1.0zM379.8 69.4h1.0v1.0h-1.0zM379.8 73.6h1.0v1.0h-1.0zM376.4 70.4h1.0v1.0h-1.0zM375.5 68.6h1.0v1.0h-1.0zM381.0 67.9h1.0v1.0h-1.0zM383.2 72.9h1.0v1.0h-1.0zM381.0 71.2h1.0v1.0h-1.0zM380.9 75.3h1.0v1.0h-1.0zM379.2 68.6h1.0v1.0h-1.0zM378.6 68.9h1.0v1.0h-1.0zM377.4 63.9h1.0v1.0h-1.0zM377.9 72.1h1.0v1.0h-1.0zM377.9 67.7h1.0v1.0h-1.0zM379.9 72.7h1.0v1.0h-1.0zM378.0 72.1h1.0v1.0h-1.0zM376.8 74.3h1.0v1.0h-1.0zM376.8 69.4h1.0v1.0h-1.0zM379.3 69.1h1.0v1.0h-1.0zM382.4 63.7h1.0v1.0h-1.0zM379.3 65.6h1.0v1.0h-1.0zM379.7 65.5h1.0v1.0h-1.0zM380.3 73.0h1.0v1.0h-1.0zM382.8 75.7h1.0v1.0h-1.0zM378.0 74.7h1.0v1.0h-1.0zM378.0 70.3h1.0v1.0h-1.0zM377.9 63.6h1.0v1.0h-1.0zM380.4 62.5h1.0v1.0h-1.0zM378.5 72.9h1.0v1.0h-1.0zM379.3 64.4h1.0v1.0h-1.0zM377.5 73.6h1.0v1.0h-1.0zM381.5 77.3h1.0v1.0h-1.0zM374.9 72.7h1.0v1.0h-1.0zM377.9 73.9h1.0v1.0h-1.0zM375.2 70.2h1.0v1.0h-1.0zM380.6 68.2h1.0v1.0h-1.0zM378.2 66.8h1.0v1.0h-1.0zM381.5 65.4h1.0v1.0h-1.0zM376.9 69.4h1.0v1.0h-1.0zM379.6 67.4h1.0v1.0h-1.0zM380.3 72.2h1.0v1.0h-1.0zM379.6 70.5h1.0v1.0h-1.0zM380.0 66.0h1.0v1.0h-1.0zM376.3 69.1h1.0v1.0h-1.0zM376.5 73.7h1.0v1.0h-1.0zM383.4 75.9h1.0v1.0h-1.0zM380.0 72.2h1.0v1.0h-1.0zM377.5 65.5h1.0v1.0h-1.0zM380.2 64.8h1.0v1.0h-1.0zM379.7 70.2h1.0v1.0h-1.0zM380.7 71.0h1.0v1.0h-1.0zM379.2 68.4h1.0v1.0h-1.0zM375.1 69.4h1.0v1.0h-1.0zM380.6 75.1h1.0v1.0h-1.0zM382.1 66.7h1.0v1.0h-1.0zM376.9 73.7h1.0v1.0h-1.0zM379.7 64.6h1.0v1.0h-1.0zM377.8 77.2h1.0v1.0h-1.0zM374.9 71.4h1.0v1.0h-1.0zM375.9 77.3h1.0v1.0h-1.0zM378.0 66.6h1.0v1.0h-1.0zM375.2 67.9h1.0v1.0h-1.0zM383.9 71.2h1.0v1.0h-1.0zM378.4 66.1h1.0v1.0h-1.0zM379.8 68.9h1.0v1.0h-1.0zM377.1 76.5h1.0v1.0h-1.0zM380.0 67.2h1.0v1.0h-1.0zM382.3 70.6h1.0v1.0h-1.0zM380.1 71.4h1.0v1.0h-1.0zM381.7 73.3h1.0v1.0h-1.0zM378.2 73.7h1.0v1.0h-1.0zM378.1 71.3h1.0v1.0h-1.0zM382.7 66.5h1.0v1.0h-1.0zM376.7 69.2h1.0v1.0h-1.0zM377.9 76.1h1.0v1.0h-1.0zM382.6 69.0h1.0v1.0h-1.0zM379.4 69.3h1.0v1.0h-1.0zM380.5 73.5h1.0v1.0h-1.0zM380.7 73.9h1.0v1.0h-1.0zM383.3 70.1h1.0v1.0h-1.0zM380.6 70.0h1.0v1.0h-1.0zM379.1 71.7h1.0v1.0h-1.0zM378.9 72.2h1.0v1.0h-1.0zM377.1 70.2h1.0v1.0h-1.0zM377.6 66.0h1.0v1.0h-1.0zM377.4 68.8h1.0v1.0h-1.0zM378.7 64.4h1.0v1.0h-1.0zM378.4 66.2h1.0v1.0h-1.0zM377.2 71.6h1.0v1.0h-1.0zM381.5 72.0h1.0v1.0h-1.0zM377.9 69.0h1.0v1.0h-1.0zM382.0 64.1h1.0v1.0h-1.0zM381.6 64.7h1.0v1.0h-1.0zM377.6 71.0h1.0v1.0h-1.0zM380.1 70.6h1.0v1.0h-1.0zM381.1 71.0h1.0v1.0h-1.0zM377.2 75.4h1.0v1.0h-1.0zM382.4 76.0h1.0v1.0h-1.0zM378.1 73.9h1.0v1.0h-1.0zM375.4 66.6h1.0v1.0h-1.0zM381.7 72.8h1.0v1.0h-1.0zM380.0 70.0h1.0v1.0h-1.0zM379.0 71.8h1.0v1.0h-1.0zM380.7 69.7h1.0v1.0h-1.0zM377.0 69.3h1.0v1.0h-1.0zM374.3 66.2h1.0v1.0h-1.0zM383.4 68.0h1.0v1.0h-1.0zM381.4 71.3h1.0v1.0h-1.0zM380.7 69.7h1.0v1.0h-1.0zM377.0 74.9h1.0v1.0h-1.0zM379.3 77.4h1.0v1.0h-1.0zM378.4 69.3h1.0v1.0h-1.0zM379.8 70.0h1.0v1.0h-1.0zM378.3 67.1h1.0v1.0h-1.0zM379.6 72.1h1.0v1.0h-1.0zM383.1 70.7h1.0v1.0h-1.0zM375.0 72.7h1.0v1.0h-1.0zM384.2 69.0h1.0v1.0h-1.0zM377.2 70.1h1.0v1.0h-1.0zM378.6 64.6h1.0v1.0h-1.0zM380.3 67.2h1.0v1.0h-1.0zM374.8 67.8h1.0v1.0h-1.0zM381.8 71.6h1.0v1.0h-1.0zM377.8 69.7h1.0v1.0h-1.0zM381.2 68.7h1.0v1.0h-1.0zM379.9 74.8h1.0v1.0h-1.0zM377.0 68.4h1.0v1.0h-1.0zM380.0 70.8h1.0v1.0h-1.0zM378.7 68.6h1.0v1.0h-1.0zM382.1 64.2h1.0v1.0h-1.0zM379.1 71.2h1.0v1.0h-1.0zM379.1 65.1h1.0v1.0h-1.0zM378.7 71.4h1.0v1.0h-1.0zM377.5 72.1h1.0v1.0h-1.0zM373.5 64.6h1.0v1.0h-1.0zM379.2 72.4h1.0v1.0h-1.0zM378.6 68.9h1.0v1.0h-1.0zM379.4 75.3h1.0v1.0h-1.0zM381.0 70.5h1.0v1.0h-1.0zM377.9 75.2h1.0v1.0h-1.0zM380.2 74.4h1.0v1.0h-1.0zM378.4 67.3h1.0v1.0h-1.0zM379.4 68.2h1.0v1.0h-1.0zM381.6 74.3h1.0v1.0h-1.0zM374.1 73.5h1.0v1.0h-1.0zM382.0 75.1h1.0v1.0h-1.0zM377.9 67.3h1.0v1.0h-1.0zM381.2 75.0h1.0v1.0h-1.0zM379.1 66.1h1.0v1.0h-1.0zM375.6 71.9h1.0v1.0h-1.0zM377.1 68.0h1.0v1.0h-1.0zM380.0 75.1h1.0v1.0h-1.0zM374.3 68.0h1.0v1.0h-1.0zM381.9 70.6h1.0v1.0h-1.0zM378.2 73.4h1.0v1.0h-1.0zM376.4 65.8h1.0v1.0h-1.0zM379.0 77.2h1.0v1.0h-1.0zM381.3 70.8h1.0v1.0h-1.0zM381.3 69.1h1.0v1.0h-1.0zM376.3 63.9h1.0v1.0h-1.0zM379.6 74.5h1.0v1.0h-1.0zM379.8 70.6h1.0v1.0h-1.0zM378.1 75.3h1.0v1.0h-1.0zM378.9 64.9h1.0v1.0h-1.0zM382.1 68.1h1.0v1.0h-1.0zM379.9 70.8h1.0v1.0h-1.0zM381.4 71.8h1.0v1.0h-1.0zM381.8 71.7h1.0v1.0h-1.0zM378.0 68.7h1.0v1.0h-1.0zM380.5 67.4h1.0v1.0h-1.0zM381.1 69.8h1.0v1.0h-1.0zM376.9 67.2h1.0v1.0h-1.0zM380.7 70.9h1.0v1.0h-1.0zM378.4 70.8h1.0v1.0h-1.0zM378.0 76.3h1.0v1.0h-1.0zM379.4 68.9h1.0v1.0h-1.0zM379.4 66.7h1.0v1.0h-1.0zM376.6 70.1h1.0v1.0h-1.0zM383.5 66.2h1.0v1.0h-1.0zM378.7 64.3h1.0v1.0h-1.0zM379.4 71.7h1.0v1.0h-1.0zM380.7 65.3h1.0v1.0h-1.0zM377.6 68.1h1.0v1.0h-1.0zM378.5 70.6h1.0v1.0h-1.0zM377.9 74.1h1.0v1.0h-1.0zM384.8 75.6h1.0v1.0h-1.0zM382.5 66.4h1.0v1.0h-1.0zM381.4 70.9h1.0v1.0h-1.0zM381.8 75.2h1.0v1.0h-1.0zM380.5 63.9h1.0v1.0h-1.0zM379.3 68.7h1.0v1.0h-1.0zM380.0 71.0h1.0v1.0h-1.0zM381.4 64.2h1.0v1.0h-1.0zM377.3 70.5h1.0v1.0h-1.0zM379.7 69.1h1.0v1.0h-1.0zM378.9 71.0h1.0v1.0h-1.0zM381.4 70.3h1.0v1.0h-1.0zM379.5 63.3h1.0v1.0h-1.0zM379.8 61.3h1.0v1.0h-1.0zM379.9 70.4h1.0v1.0h-1.0zM379.0 67.8h1.0v1.0h-1.0zM378.1 74.2h1.0v1.0h-1.0zM379.8 70.7h1.0v1.0h-1.0zM377.9 71.7h1.0v1.0h-1.0zM381.7 70.7h1.0v1.0h-1.0zM378.2 65.9h1.0v1.0h-1.0zM379.2 67.0h1.0v1.0h-1.0zM375.7 74.4h1.0v1.0h-1.0zM377.6 62.4h1.0v1.0h-1.0zM378.8 65.3h1.0v1.0h-1.0zM376.5 73.8h1.0v1.0h-1.0zM379.9 71.7h1.0v1.0h-1.0zM378.6 72.8h1.0v1.0h-1.0zM382.5 72.8h1.0v1.0h-1.0zM378.6 65.0h1.0v1.0h-1.0zM380.0 77.3h1.0v1.0h-1.0zM380.5 65.6h1.0v1.0h-1.0zM379.4 76.2h1.0v1.0h-1.0zM377.6 72.8h1.0v1.0h-1.0zM381.7 77.6h1.0v1.0h-1.0zM375.4 63.6h1.0v1.0h-1.0zM379.8 73.7h1.0v1.0h-1.0zM378.2 70.7h1.0v1.0h-1.0zM378.1 75.8h1.0v1.0h-1.0zM374.0 71.9h1.0v1.0h-1.0zM376.1 68.0h1.0v1.0h-1.0zM375.5 67.0h1.0v1.0h-1.0zM378.9 70.9h1.0v1.0h-1.0zM383.0 69.9h1.0v1.0h-1.0zM379.8 72.3h1.0v1.0h-1.0zM379.6 76.9h1.0v1.0h-1.0zM379.3 71.4h1.0v1.0h-1.0zM378.7 70.8h1.0v1.0h-1.0zM378.9 74.9h1.0v1.0h-1.0zM379.0 71.1h1.0v1.0h-1.0zM378.9 73.9h1.0v1.0h-1.0zM377.9 74.7h1.0v1.0h-1.0zM377.7 73.7h1.0v1.0h-1.0zM383.4 71.8h1.0v1.0h-1.0zM378.8 65.9h1.0v1.0h-1.0zM380.7 70.9h1.0v1.0h-1.0zM381.1 68.1h1.0v1.0h-1.0zM379.9 69.4h1.0v1.0h-1.0zM376.0 70.8h1.0v1.0h-1.0zM380.5 73.3h1.0v1.0h-1.0zM376.5 66.5h1.0v1.0h-1.0zM376.8 66.6h1.0v1.0h-1.0zM378.4 71.9h1.0v1.0h-1.0zM383.4 71.6h1.0v1.0h-1.0zM382.3 64.0h1.0v1.0h-1.0zM382.5 74.1h1.0v1.0h-1.0zM380.0 74.2h1.0v1.0h-1.0zM380.8 63.6h1.0v1.0h-1.0zM375.0 77.5h1.0v1.0h-1.0zM378.8 76.3h1.0v1.0h-1.0zM378.2 68.1h1.0v1.0h-1.0zM378.2 72.1h1.0v1.0h-1.0zM379.4 68.2h1.0v1.0h-1.0zM380.2 73.4h1.0v1.0h-1.0zM376.9 66.2h1.0v1.0h-1.0zM374.5 69.5h1.0v1.0h-1.0zM379.0 67.9h1.0v1.0h-1.0zM377.6 70.2h1.0v1.0h-1.0zM379.1 73.2h1.0v1.0h-1.0zM380.9 72.6h1.0v1.0h-1.0zM381.5 66.8h1.0v1.0h-1.0zM380.4 72.3h1.0v1.0h-1.0zM376.6 68.0h1.0v1.0h-1.0zM380.0 71.1h1.0v1.0h-1.0zM376.1 68.5h1.0v1.0h-1.0zM382.5 74.3h1.0v1.0h-1.0zM379.2 76.4h1.0v1.0h-1.0zM376.9 70.1h1.0v1.0h-1.0zM381.2 69.4h1.0v1.0h-1.0zM376.5 73.2h1.0v1.0h-1.0zM379.4 65.6h1.0v1.0h-1.0zM378.3 64.9h1.0v1.0h-1.0zM384.9 68.0h1.0v1.0h-1.0zM379.1 67.9h1.0v1.0h-1.0zM376.8 68.9h1.0v1.0h-1.0zM379.7 77.3h1.0v1.0h-1.0zM376.6 71.1h1.0v1.0h-1.0zM378.0 64.3h1.0v1.0h-1.0zM379.6 67.7h1.0v1.0h-1.0zM377.7 66.5h1.0v1.0h-1.0zM381.3 69.1h1.0v1.0h-1.0zM378.7 71.6h1.0v1.0h-1.0zM376.2 71.8h1.0v1.0h-1.0zM378.6 72.6h1.0v1.0h-1.0zM378.1 71.0h1.0v1.0h-1.0zM380.2 74.8h1.0v1.0h-1.0zM377.4 74.8h1.0v1.0h-1.0zM376.8 70.0h1.0v1.0h-1.0zM379.3 71.4h1.0v1.0h-1.0zM378.6 74.6h1.0v1.0h-1.0zM377.4 77.1h1.0v1.0h-1.0zM374.9 71.1h1.0v1.0h-1.0zM380.2 70.9h1.0v1.0h-1.0zM379.6 74.7h1.0v1.0h-1.0zM377.2 73.2h1.0v1.0h-1.0zM381.4 69.8h1.0v1.0h-1.0zM373.7 65.9h1.0v1.0h-1.0zM377.1 66.4h1.0v1.0h-1.0zM380.0 67.5h1.0v1.0h-1.0zM384.6 73.2h1.0v1.0h-1.0zM376.0 69.6h1.0v1.0h-1.0zM382.5 73.6h1.0v1.0h-1.0zM376.7 75.1h1.0v1.0h-1.0zM377.7 73.3h1.0v1.0h-1.0zM380.3 69.0h1.0v1.0h-1.0zM378.7 75.6h1.0v1.0h-1.0zM380.1 70.6h1.0v1.0h-1.0zM381.1 72.8h1.0v1.0h-1.0zM379.7 64.3h1.0v1.0h-1.0zM379.3 68.8h1.0v1.0h-1.0zM380.7 68.3h1.0v1.0h-1.0zM380.0 66.4h1.0v1.0h-1.0zM381.0 67.8h1.0v1.0h-1.0zM378.9 73.2h1.0v1.0h-1.0zM378.3 70.8h1.0v1.0h-1.0zM374.9 67.1h1.0v1.0h-1.0zM380.5 74.7h1.0v1.0h-1.0zM377.9 71.2h1.0v1.0h-1.0zM378.5 65.9h1.0v1.0h-1.0zM375.5 65.5h1.0v1.0h-1.0zM382.0 69.2h1.0v1.0h-1.0zM383.4 73.4h1.0v1.0h-1.0zM379.9 73.5h1.0v1.0h-1.0zM380.8 74.6h1.0v1.0h-1.0zM376.8 68.5h1.0v1.0h-1.0zM377.8 71.2h1.0v1.0h-1.0zM378.4 65.7h1.0v1.0h-1.0zM383.8 67.2h1.0v1.0h-1.0zM379.9 70.6h1.0v1.0h-1.0zM377.1 73.8h1.0v1.0h-1.0zM380.0 69.5h1.0v1.0h-1.0zM380.9 67.8h1.0v1.0h-1.0zM381.0 73.6h1.0v1.0h-1.0zM375.0 70.0h1.0v1.0h-1.0zM379.7 73.9h1.0v1.0h-1.0zM379.4 70.7h1.0v1.0h-1.0zM378.2 69.6h1.0v1.0h-1.0zM379.0 66.4h1.0v1.0h-1.0zM380.5 69.5h1.0v1.0h-1.0zM380.2 68.7h1.0v1.0h-1.0zM379.9 71.3h1.0v1.0h-1.0zM381.0 72.7h1.0v1.0h-1.0zM381.1 70.1h1.0v1.0h-1.0zM378.9 69.7h1.0v1.0h-1.0zM376.2 70.3h1.0v1.0h-1.0zM381.5 74.0h1.0v1.0h-1.0zM377.1 72.0h1.0v1.0h-1.0zM380.7 65.2h1.0v1.0h-1.0zM379.8 72.2h1.0v1.0h-1.0zM380.7 71.9h1.0v1.0h-1.0zM375.0 62.4h1.0v1.0h-1.0zM383.5 69.2h1.0v1.0h-1.0zM381.9 76.0h1.0v1.0h-1.0zM379.2 66.1h1.0v1.0h-1.0zM382.1 70.6h1.0v1.0h-1.0zM380.2 72.8h1.0v1.0h-1.0zM381.2 75.0h1.0v1.0h-1.0zM375.8 65.0h1.0v1.0h-1.0zM379.3 70.8h1.0v1.0h-1.0zM380.8 70.2h1.0v1.0h-1.0zM382.1 75.6h1.0v1.0h-1.0zM381.4 67.5h1.0v1.0h-1.0zM378.8 70.5h1.0v1.0h-1.0zM376.5 67.2h1.0v1.0h-1.0zM379.4 65.8h1.0v1.0h-1.0zM380.2 72.8h1.0v1.0h-1.0zM378.5 69.4h1.0v1.0h-1.0zM380.4 72.8h1.0v1.0h-1.0zM379.8 65.7h1.0v1.0h-1.0zM377.5 69.3h1.0v1.0h-1.0zM374.9 67.5h1.0v1.0h-1.0zM377.3 74.1h1.0v1.0h-1.0zM378.1 68.8h1.0v1.0h-1.0zM377.2 69.0h1.0v1.0h-1.0zM375.4 71.9h1.0v1.0h-1.0zM381.7 71.4h1.0v1.0h-1.0zM377.8 76.0h1.0v1.0h-1.0zM380.1 66.5h1.0v1.0h-1.0zM377.7 68.3h1.0v1.0h-1.0zM378.9 75.8h1.0v1.0h-1.0zM377.4 70.2h1.0v1.0h-1.0zM379.3 65.9h1.0v1.0h-1.0zM377.9 73.3h1.0v1.0h-1.0zM381.6 63.1h1.0v1.0h-1.0zM380.6 69.6h1.0v1.0h-1.0zM381.9 73.4h1.0v1.0h-1.0zM383.5 72.1h1.0v1.0h-1.0zM378.1 67.4h1.0v1.0h-1.0zM375.7 73.1h1.0v1.0h-1.0zM380.2 74.2h1.0v1.0h-1.0zM379.8 64.6h1.0v1.0h-1.0zM378.1 69.8h1.0v1.0h-1.0zM379.4 74.0h1.0v1.0h-1.0zM382.2 72.0h1.0v1.0h-1.0zM374.3 66.6h1.0v1.0h-1.0zM374.1 67.6h1.0v1.0h-1.0zM376.3 71.8h1.0v1.0h-1.0zM378.5 75.4h1.0v1.0h-1.0zM381.5 68.9h1.0v1.0h-1.0zM381.1 70.9h1.0v1.0h-1.0zM380.0 76.4h1.0v1.0h-1.0zM376.4 70.5h1.0v1.0h-1.0zM382.5 67.7h1.0v1.0h-1.0zM379.5 71.3h1.0v1.0h-1.0zM378.1 65.4h1.0v1.0h-1.0zM377.4 66.8h1.0v1.0h-1.0zM381.5 71.8h1.0v1.0h-1.0zM380.6 65.9h1.0v1.0h-1.0zM380.1 71.4h1.0v1.0h-1.0zM381.4 67.8h1.0v1.0h-1.0zM380.8 76.5h1.0v1.0h-1.0zM383.1 67.0h1.0v1.0h-1.0zM376.4 64.8h1.0v1.0h-1.0zM381.2 73.3h1.0v1.0h-1.0zM379.8 67.2h1.0v1.0h-1.0zM381.9 77.4h1.0v1.0h-1.0zM378.9 70.3h1.0v1.0h-1.0zM381.7 72.9h1.0v1.0h-1.0zM382.1 69.1h1.0v1.0h-1.0zM379.8 69.4h1.0v1.0h-1.0zM377.7 69.6h1.0v1.0h-1.0z" fill="#e7681a" fill-opacity="0.9"/>
<rect x="354.2" y="47.1" width="21.30" height="11.80" fill="none" stroke="#444" stroke-width="1.0"/>
<rect x="373.0" y="59.5" width="15.40" height="18.50" fill="none" stroke="#666" stroke-width="1.0"/>
<text x="379.20" y="52.40" font-size="4.0" fill="#000" stroke="#000" stroke-width="0.05">CD4</text>
<text x="379.20" y="57.00" font-size="4.0" fill="#000" stroke="#000" stroke-width="0.05">CD8</text>
<text x="242.40" y="39.60" font-size="6.6" fill="#b02a55" textLength="7.0" lengthAdjust="spacingAndGlyphs" stroke="#b02a55" stroke-width="0.08">30</text>
<text x="280.80" y="73.10" font-size="6.8" fill="#b02a55" textLength="7.0" lengthAdjust="spacingAndGlyphs" stroke="#b02a55" stroke-width="0.08">66</text>
<text x="360.00" y="40.00" font-size="6.6" fill="#b02a55" textLength="6.9" lengthAdjust="spacingAndGlyphs" stroke="#b02a55" stroke-width="0.08">27</text>
<text x="400.30" y="73.20" font-size="6.8" fill="#b02a55" textLength="6.7" lengthAdjust="spacingAndGlyphs" stroke="#b02a55" stroke-width="0.08">69</text>
<path d="M224.7,87.5 V68.8" stroke="#1a1a1a" stroke-width="1.1"/>
<path d="M224.7,64.8 L222.39999999999998,70.6 L224.7,69.39999999999999 L227.0,70.6 Z" fill="#1a1a1a"/>
<text transform="translate(227.0,61.8) rotate(-90)" font-size="6.8" fill="#222" textLength="11.8" lengthAdjust="spacingAndGlyphs">CD4</text>
<path d="M233.0,87.7 H251.8" stroke="#1a1a1a" stroke-width="1.15"/>
<path d="M255.8,87.7 L249.8,85.2 L251.0,87.7 L249.8,90.2 Z" fill="#1a1a1a"/>
<text x="259.70" y="90.10" font-size="6.8" fill="#222" textLength="11.0" lengthAdjust="spacingAndGlyphs" stroke="#222" stroke-width="0.22">CD8</text>
<rect x="234.5" y="109" width="41.30" height="34.40" fill="#fff" stroke="#a0a0a0" stroke-width="1.0"/>
<path d="M232.6 113.5h2.3v2.2h-2.3zM232.6 121.3h2.3v2.2h-2.3zM232.6 129.7h2.3v2.2h-2.3zM232.6 138.7h2.3v2.2h-2.3z" fill="#111"/>
<path d="M233.0 117.9h1.8v1.2h-1.8zM233.0 125.7h1.8v1.2h-1.8zM233.0 133.6h1.8v1.2h-1.8zM233.0 141.4h1.8v1.2h-1.8z" fill="#555"/>
<path d="M235.2 144.4h5.2v1.8h-5.2zM244.3 144.4h5.2v1.8h-5.2zM253.4 144.4h5.2v1.8h-5.2zM262.5 144.4h5.2v1.8h-5.2zM271.1 144.4h5.2v1.8h-5.2z" fill="#555" fill-opacity="0.85"/>
<path d="M237.8 144.2h1.7v2.1h-1.7zM245.3 144.2h1.7v2.1h-1.7zM256.4 144.2h1.7v2.1h-1.7zM259.3 144.2h1.7v2.1h-1.7zM265.1 144.2h1.7v2.1h-1.7zM270.9 144.2h1.7v2.1h-1.7z" fill="#111"/>
<rect x="291.6" y="109" width="42.40" height="34.00" fill="#fff" stroke="#a0a0a0" stroke-width="1.0"/>
<path d="M289.7 113.5h2.3v2.2h-2.3zM289.7 121.3h2.3v2.2h-2.3zM289.7 129.7h2.3v2.2h-2.3zM289.7 138.7h2.3v2.2h-2.3z" fill="#111"/>
<path d="M290.1 117.9h1.8v1.2h-1.8zM290.1 125.7h1.8v1.2h-1.8zM290.1 133.6h1.8v1.2h-1.8zM290.1 141.4h1.8v1.2h-1.8z" fill="#555"/>
<path d="M292.4 144.0h5.2v1.8h-5.2zM301.7 144.0h5.2v1.8h-5.2zM311.0 144.0h5.2v1.8h-5.2zM320.4 144.0h5.2v1.8h-5.2zM329.3 144.0h5.2v1.8h-5.2z" fill="#555" fill-opacity="0.85"/>
<path d="M295.0 143.8h1.7v2.1h-1.7zM302.7 143.8h1.7v2.1h-1.7zM314.1 143.8h1.7v2.1h-1.7zM317.1 143.8h1.7v2.1h-1.7zM323.0 143.8h1.7v2.1h-1.7zM329.0 143.8h1.7v2.1h-1.7z" fill="#111"/>
<rect x="353.9" y="108.9" width="41.30" height="34.50" fill="#fff" stroke="#a0a0a0" stroke-width="1.0"/>
<path d="M352.0 113.5h2.3v2.2h-2.3zM352.0 121.3h2.3v2.2h-2.3zM352.0 129.7h2.3v2.2h-2.3zM352.0 138.7h2.3v2.2h-2.3z" fill="#111"/>
<path d="M352.4 117.9h1.8v1.2h-1.8zM352.4 125.7h1.8v1.2h-1.8zM352.4 133.6h1.8v1.2h-1.8zM352.4 141.4h1.8v1.2h-1.8z" fill="#555"/>
<path d="M354.6 144.4h5.2v1.8h-5.2zM363.7 144.4h5.2v1.8h-5.2zM372.8 144.4h5.2v1.8h-5.2zM381.9 144.4h5.2v1.8h-5.2zM390.5 144.4h5.2v1.8h-5.2z" fill="#555" fill-opacity="0.85"/>
<path d="M357.2 144.2h1.7v2.1h-1.7zM364.7 144.2h1.7v2.1h-1.7zM375.8 144.2h1.7v2.1h-1.7zM378.7 144.2h1.7v2.1h-1.7zM384.5 144.2h1.7v2.1h-1.7zM390.3 144.2h1.7v2.1h-1.7z" fill="#111"/>
<rect x="411.0" y="109" width="42.50" height="34.40" fill="#fff" stroke="#a0a0a0" stroke-width="1.0"/>
<path d="M409.1 113.5h2.3v2.2h-2.3zM409.1 121.3h2.3v2.2h-2.3zM409.1 129.7h2.3v2.2h-2.3zM409.1 138.7h2.3v2.2h-2.3z" fill="#111"/>
<path d="M409.5 117.9h1.8v1.2h-1.8zM409.5 125.7h1.8v1.2h-1.8zM409.5 133.6h1.8v1.2h-1.8zM409.5 141.4h1.8v1.2h-1.8z" fill="#555"/>
<path d="M411.8 144.4h5.2v1.8h-5.2zM421.1 144.4h5.2v1.8h-5.2zM430.5 144.4h5.2v1.8h-5.2zM439.8 144.4h5.2v1.8h-5.2zM448.8 144.4h5.2v1.8h-5.2z" fill="#555" fill-opacity="0.85"/>
<path d="M414.4 144.2h1.7v2.1h-1.7zM422.1 144.2h1.7v2.1h-1.7zM433.6 144.2h1.7v2.1h-1.7zM436.6 144.2h1.7v2.1h-1.7zM442.5 144.2h1.7v2.1h-1.7zM448.4 144.2h1.7v2.1h-1.7z" fill="#111"/>
<path d="M262.0 140.6h1.0v1.0h-1.0zM262.0 139.7h1.0v1.0h-1.0zM260.9 137.2h1.0v1.0h-1.0zM265.6 137.7h1.0v1.0h-1.0zM266.4 141.4h1.0v1.0h-1.0zM257.9 138.3h1.0v1.0h-1.0zM261.7 139.6h1.0v1.0h-1.0zM262.2 138.4h1.0v1.0h-1.0zM265.2 139.4h1.0v1.0h-1.0zM264.6 138.3h1.0v1.0h-1.0zM261.2 142.2h1.0v1.0h-1.0zM262.0 137.4h1.0v1.0h-1.0zM262.2 141.7h1.0v1.0h-1.0zM262.3 138.2h1.0v1.0h-1.0zM263.9 141.5h1.0v1.0h-1.0zM262.2 139.0h1.0v1.0h-1.0zM262.2 143.0h1.0v1.0h-1.0zM262.3 140.4h1.0v1.0h-1.0zM258.4 139.9h1.0v1.0h-1.0zM262.7 139.0h1.0v1.0h-1.0zM261.8 136.9h1.0v1.0h-1.0zM259.5 139.9h1.0v1.0h-1.0zM261.3 139.4h1.0v1.0h-1.0zM262.2 138.6h1.0v1.0h-1.0zM261.1 143.2h1.0v1.0h-1.0zM260.3 138.6h1.0v1.0h-1.0zM262.0 137.3h1.0v1.0h-1.0zM260.6 141.3h1.0v1.0h-1.0zM264.5 139.9h1.0v1.0h-1.0zM269.3 141.2h1.0v1.0h-1.0zM265.2 138.0h1.0v1.0h-1.0zM264.9 142.9h1.0v1.0h-1.0zM261.8 143.1h1.0v1.0h-1.0zM260.9 137.4h1.0v1.0h-1.0zM262.5 138.0h1.0v1.0h-1.0zM263.9 137.4h1.0v1.0h-1.0zM262.8 135.8h1.0v1.0h-1.0zM262.5 141.7h1.0v1.0h-1.0zM262.1 140.2h1.0v1.0h-1.0zM264.9 137.5h1.0v1.0h-1.0zM260.0 139.8h1.0v1.0h-1.0zM263.2 139.1h1.0v1.0h-1.0zM260.6 142.0h1.0v1.0h-1.0zM260.2 139.1h1.0v1.0h-1.0zM262.5 141.0h1.0v1.0h-1.0zM261.7 138.0h1.0v1.0h-1.0zM266.8 138.0h1.0v1.0h-1.0zM264.3 139.3h1.0v1.0h-1.0zM261.6 139.5h1.0v1.0h-1.0zM262.1 140.2h1.0v1.0h-1.0zM257.3 139.5h1.0v1.0h-1.0zM262.8 137.7h1.0v1.0h-1.0zM261.8 144.2h1.0v1.0h-1.0zM266.4 140.9h1.0v1.0h-1.0zM263.1 139.0h1.0v1.0h-1.0zM265.5 138.7h1.0v1.0h-1.0zM260.9 141.0h1.0v1.0h-1.0zM260.6 138.1h1.0v1.0h-1.0zM265.6 136.5h1.0v1.0h-1.0zM262.5 139.8h1.0v1.0h-1.0zM263.1 136.8h1.0v1.0h-1.0zM262.1 138.9h1.0v1.0h-1.0zM266.6 141.6h1.0v1.0h-1.0zM261.0 141.3h1.0v1.0h-1.0zM264.0 139.4h1.0v1.0h-1.0zM262.1 139.1h1.0v1.0h-1.0zM259.4 138.4h1.0v1.0h-1.0zM264.5 142.4h1.0v1.0h-1.0zM266.5 138.9h1.0v1.0h-1.0zM263.9 134.9h1.0v1.0h-1.0zM262.1 137.1h1.0v1.0h-1.0zM264.3 136.4h1.0v1.0h-1.0zM260.4 137.4h1.0v1.0h-1.0zM263.4 141.2h1.0v1.0h-1.0zM260.7 143.1h1.0v1.0h-1.0zM262.9 138.0h1.0v1.0h-1.0zM263.3 139.6h1.0v1.0h-1.0zM264.3 140.3h1.0v1.0h-1.0zM267.1 141.9h1.0v1.0h-1.0zM261.3 141.1h1.0v1.0h-1.0zM264.2 137.6h1.0v1.0h-1.0zM261.1 138.0h1.0v1.0h-1.0zM257.5 140.8h1.0v1.0h-1.0zM262.2 142.0h1.0v1.0h-1.0zM261.5 139.7h1.0v1.0h-1.0zM264.1 141.5h1.0v1.0h-1.0zM263.3 137.6h1.0v1.0h-1.0zM267.2 141.3h1.0v1.0h-1.0zM265.4 142.8h1.0v1.0h-1.0zM265.5 140.4h1.0v1.0h-1.0zM263.6 140.8h1.0v1.0h-1.0zM259.5 141.2h1.0v1.0h-1.0zM260.6 140.4h1.0v1.0h-1.0zM260.5 141.0h1.0v1.0h-1.0zM263.0 140.6h1.0v1.0h-1.0zM260.7 139.0h1.0v1.0h-1.0zM262.5 139.0h1.0v1.0h-1.0zM261.7 137.9h1.0v1.0h-1.0zM264.2 138.9h1.0v1.0h-1.0zM260.9 140.3h1.0v1.0h-1.0zM260.9 139.3h1.0v1.0h-1.0zM261.6 137.8h1.0v1.0h-1.0zM262.1 138.0h1.0v1.0h-1.0zM260.0 140.3h1.0v1.0h-1.0zM262.0 136.7h1.0v1.0h-1.0zM261.8 140.0h1.0v1.0h-1.0zM263.5 140.3h1.0v1.0h-1.0zM263.1 140.8h1.0v1.0h-1.0zM261.6 138.0h1.0v1.0h-1.0zM263.9 138.8h1.0v1.0h-1.0zM262.6 140.9h1.0v1.0h-1.0zM264.6 142.0h1.0v1.0h-1.0zM261.2 138.9h1.0v1.0h-1.0zM263.8 136.8h1.0v1.0h-1.0zM260.0 140.8h1.0v1.0h-1.0zM261.3 137.8h1.0v1.0h-1.0zM264.3 140.6h1.0v1.0h-1.0zM264.5 139.0h1.0v1.0h-1.0zM262.0 138.9h1.0v1.0h-1.0zM263.2 135.6h1.0v1.0h-1.0zM261.2 141.0h1.0v1.0h-1.0zM261.0 139.5h1.0v1.0h-1.0zM262.9 140.6h1.0v1.0h-1.0zM261.6 137.4h1.0v1.0h-1.0zM267.8 138.2h1.0v1.0h-1.0zM266.2 136.2h1.0v1.0h-1.0zM262.8 139.2h1.0v1.0h-1.0zM266.5 143.6h1.0v1.0h-1.0zM264.6 137.6h1.0v1.0h-1.0zM261.0 138.1h1.0v1.0h-1.0zM261.6 140.1h1.0v1.0h-1.0zM261.0 139.1h1.0v1.0h-1.0zM265.7 142.4h1.0v1.0h-1.0zM258.8 137.8h1.0v1.0h-1.0zM261.8 142.1h1.0v1.0h-1.0zM261.9 143.3h1.0v1.0h-1.0zM263.4 142.4h1.0v1.0h-1.0zM260.8 139.0h1.0v1.0h-1.0zM264.7 140.7h1.0v1.0h-1.0zM258.8 139.1h1.0v1.0h-1.0zM263.0 140.8h1.0v1.0h-1.0zM261.3 143.0h1.0v1.0h-1.0zM262.9 142.4h1.0v1.0h-1.0zM263.5 139.8h1.0v1.0h-1.0zM262.0 137.3h1.0v1.0h-1.0zM264.4 141.1h1.0v1.0h-1.0zM264.5 138.9h1.0v1.0h-1.0zM260.5 138.9h1.0v1.0h-1.0zM262.0 139.6h1.0v1.0h-1.0zM264.6 137.8h1.0v1.0h-1.0zM261.6 140.9h1.0v1.0h-1.0zM264.5 143.9h1.0v1.0h-1.0zM263.7 138.0h1.0v1.0h-1.0zM260.5 138.1h1.0v1.0h-1.0zM262.8 140.1h1.0v1.0h-1.0zM262.5 138.4h1.0v1.0h-1.0zM262.2 139.5h1.0v1.0h-1.0zM263.8 139.8h1.0v1.0h-1.0zM261.0 137.3h1.0v1.0h-1.0zM265.7 139.4h1.0v1.0h-1.0zM262.3 139.6h1.0v1.0h-1.0zM264.9 139.0h1.0v1.0h-1.0zM263.0 139.1h1.0v1.0h-1.0zM263.8 137.6h1.0v1.0h-1.0zM263.0 141.6h1.0v1.0h-1.0zM265.1 140.8h1.0v1.0h-1.0zM263.2 142.7h1.0v1.0h-1.0zM264.1 142.3h1.0v1.0h-1.0zM260.2 137.5h1.0v1.0h-1.0zM264.3 139.1h1.0v1.0h-1.0zM261.7 137.8h1.0v1.0h-1.0zM265.7 137.3h1.0v1.0h-1.0zM262.8 136.9h1.0v1.0h-1.0zM262.3 144.0h1.0v1.0h-1.0zM267.6 138.6h1.0v1.0h-1.0zM260.5 142.8h1.0v1.0h-1.0zM260.9 136.1h1.0v1.0h-1.0zM263.3 137.5h1.0v1.0h-1.0zM259.6 141.8h1.0v1.0h-1.0zM261.1 137.5h1.0v1.0h-1.0zM263.0 139.2h1.0v1.0h-1.0zM264.9 139.8h1.0v1.0h-1.0zM265.9 141.8h1.0v1.0h-1.0zM266.3 141.8h1.0v1.0h-1.0zM262.8 140.7h1.0v1.0h-1.0zM262.7 136.6h1.0v1.0h-1.0zM260.2 141.0h1.0v1.0h-1.0zM257.8 138.0h1.0v1.0h-1.0zM260.0 139.5h1.0v1.0h-1.0zM260.5 140.1h1.0v1.0h-1.0zM262.2 138.7h1.0v1.0h-1.0zM260.9 135.3h1.0v1.0h-1.0zM262.8 137.1h1.0v1.0h-1.0zM262.0 140.3h1.0v1.0h-1.0zM264.8 141.0h1.0v1.0h-1.0zM265.7 136.9h1.0v1.0h-1.0zM264.0 142.6h1.0v1.0h-1.0zM263.4 137.5h1.0v1.0h-1.0zM263.4 138.6h1.0v1.0h-1.0zM261.3 141.7h1.0v1.0h-1.0zM262.3 137.4h1.0v1.0h-1.0zM261.2 143.4h1.0v1.0h-1.0zM260.9 140.9h1.0v1.0h-1.0zM263.0 141.9h1.0v1.0h-1.0zM262.1 137.8h1.0v1.0h-1.0zM261.3 137.6h1.0v1.0h-1.0zM268.0 140.0h1.0v1.0h-1.0zM262.0 142.0h1.0v1.0h-1.0zM264.0 139.3h1.0v1.0h-1.0zM263.9 140.1h1.0v1.0h-1.0zM264.9 142.8h1.0v1.0h-1.0zM262.0 139.5h1.0v1.0h-1.0zM262.3 142.0h1.0v1.0h-1.0zM263.4 141.1h1.0v1.0h-1.0zM264.5 138.4h1.0v1.0h-1.0zM262.9 142.3h1.0v1.0h-1.0zM264.5 141.2h1.0v1.0h-1.0zM262.1 138.9h1.0v1.0h-1.0zM260.9 139.1h1.0v1.0h-1.0zM262.5 136.8h1.0v1.0h-1.0zM265.0 138.1h1.0v1.0h-1.0zM263.1 140.8h1.0v1.0h-1.0zM261.5 136.1h1.0v1.0h-1.0zM264.6 140.4h1.0v1.0h-1.0zM262.1 141.8h1.0v1.0h-1.0zM264.5 137.8h1.0v1.0h-1.0zM262.5 136.2h1.0v1.0h-1.0zM262.1 142.3h1.0v1.0h-1.0zM260.9 141.2h1.0v1.0h-1.0zM259.5 139.0h1.0v1.0h-1.0zM264.6 142.9h1.0v1.0h-1.0zM263.6 141.1h1.0v1.0h-1.0zM266.2 134.9h1.0v1.0h-1.0zM259.1 143.3h1.0v1.0h-1.0zM267.7 140.8h1.0v1.0h-1.0zM262.8 140.1h1.0v1.0h-1.0zM262.7 138.4h1.0v1.0h-1.0zM262.6 139.4h1.0v1.0h-1.0zM264.0 140.9h1.0v1.0h-1.0zM264.6 140.7h1.0v1.0h-1.0zM260.6 142.3h1.0v1.0h-1.0zM257.2 139.8h1.0v1.0h-1.0zM263.3 138.6h1.0v1.0h-1.0zM266.5 137.5h1.0v1.0h-1.0zM260.2 138.6h1.0v1.0h-1.0zM263.5 141.1h1.0v1.0h-1.0zM262.9 140.9h1.0v1.0h-1.0zM261.2 138.4h1.0v1.0h-1.0zM262.9 137.0h1.0v1.0h-1.0zM263.0 138.8h1.0v1.0h-1.0zM264.0 137.6h1.0v1.0h-1.0zM261.6 138.5h1.0v1.0h-1.0zM261.9 137.7h1.0v1.0h-1.0zM262.1 137.0h1.0v1.0h-1.0zM263.7 140.9h1.0v1.0h-1.0zM262.6 139.2h1.0v1.0h-1.0zM260.8 137.7h1.0v1.0h-1.0zM262.2 137.9h1.0v1.0h-1.0zM260.2 139.9h1.0v1.0h-1.0zM262.6 138.8h1.0v1.0h-1.0zM261.0 139.5h1.0v1.0h-1.0zM261.2 138.8h1.0v1.0h-1.0zM263.0 141.0h1.0v1.0h-1.0zM264.2 138.4h1.0v1.0h-1.0zM265.1 137.4h1.0v1.0h-1.0zM262.3 142.1h1.0v1.0h-1.0zM267.5 139.9h1.0v1.0h-1.0zM261.9 138.9h1.0v1.0h-1.0zM260.2 139.3h1.0v1.0h-1.0zM261.8 138.1h1.0v1.0h-1.0zM265.1 138.1h1.0v1.0h-1.0zM266.1 141.2h1.0v1.0h-1.0zM263.9 138.5h1.0v1.0h-1.0zM261.6 135.7h1.0v1.0h-1.0zM263.2 139.1h1.0v1.0h-1.0zM263.4 138.3h1.0v1.0h-1.0zM263.6 136.7h1.0v1.0h-1.0zM258.2 140.5h1.0v1.0h-1.0zM265.2 138.9h1.0v1.0h-1.0zM262.3 136.6h1.0v1.0h-1.0zM260.6 141.0h1.0v1.0h-1.0zM261.1 139.5h1.0v1.0h-1.0zM262.3 143.4h1.0v1.0h-1.0zM264.4 137.1h1.0v1.0h-1.0zM261.7 137.4h1.0v1.0h-1.0zM259.8 138.3h1.0v1.0h-1.0zM264.9 139.7h1.0v1.0h-1.0zM264.0 139.3h1.0v1.0h-1.0zM261.8 139.8h1.0v1.0h-1.0zM262.5 143.3h1.0v1.0h-1.0zM266.3 140.3h1.0v1.0h-1.0zM263.9 135.8h1.0v1.0h-1.0zM261.0 141.2h1.0v1.0h-1.0zM265.1 138.8h1.0v1.0h-1.0zM262.2 138.7h1.0v1.0h-1.0zM264.2 139.6h1.0v1.0h-1.0zM265.7 141.9h1.0v1.0h-1.0zM262.0 138.4h1.0v1.0h-1.0zM262.2 137.9h1.0v1.0h-1.0zM261.8 139.5h1.0v1.0h-1.0z" fill="#9a2cf8" fill-opacity="0.8"/>
<path d="M263.0 114.6h0.8v0.8h-0.8zM261.0 118.9h0.8v0.8h-0.8zM261.9 125.4h0.8v0.8h-0.8zM261.5 131.0h0.8v0.8h-0.8zM261.8 121.9h0.8v0.8h-0.8zM262.3 129.2h0.8v0.8h-0.8zM262.5 123.2h0.8v0.8h-0.8zM261.7 123.9h0.8v0.8h-0.8zM262.6 121.1h0.8v0.8h-0.8zM262.2 113.2h0.8v0.8h-0.8zM261.8 129.3h0.8v0.8h-0.8zM263.4 122.6h0.8v0.8h-0.8zM260.3 132.8h0.8v0.8h-0.8zM261.9 128.4h0.8v0.8h-0.8z" fill="#d8703a" fill-opacity="0.85"/>
<path d="M315.1 142.1h1.0v1.0h-1.0zM320.2 137.3h1.0v1.0h-1.0zM316.2 137.1h1.0v1.0h-1.0zM317.6 138.6h1.0v1.0h-1.0zM312.5 137.4h1.0v1.0h-1.0zM317.5 136.5h1.0v1.0h-1.0zM320.0 140.3h1.0v1.0h-1.0zM316.3 142.1h1.0v1.0h-1.0zM314.2 140.7h1.0v1.0h-1.0zM312.9 138.8h1.0v1.0h-1.0zM318.7 138.4h1.0v1.0h-1.0zM316.5 140.7h1.0v1.0h-1.0zM321.2 141.9h1.0v1.0h-1.0zM318.2 138.9h1.0v1.0h-1.0zM312.7 142.7h1.0v1.0h-1.0zM322.3 135.2h1.0v1.0h-1.0zM319.3 139.3h1.0v1.0h-1.0zM318.9 140.0h1.0v1.0h-1.0zM316.3 139.4h1.0v1.0h-1.0zM316.7 141.7h1.0v1.0h-1.0zM316.1 138.3h1.0v1.0h-1.0zM318.7 140.7h1.0v1.0h-1.0zM318.1 140.0h1.0v1.0h-1.0zM321.1 141.6h1.0v1.0h-1.0zM317.4 139.0h1.0v1.0h-1.0zM318.7 135.8h1.0v1.0h-1.0zM315.3 138.0h1.0v1.0h-1.0zM317.3 138.7h1.0v1.0h-1.0zM323.9 140.8h1.0v1.0h-1.0zM318.0 143.8h1.0v1.0h-1.0zM316.8 138.8h1.0v1.0h-1.0zM320.4 141.0h1.0v1.0h-1.0zM319.5 141.8h1.0v1.0h-1.0zM315.8 138.1h1.0v1.0h-1.0zM314.8 139.6h1.0v1.0h-1.0zM319.7 137.4h1.0v1.0h-1.0zM315.3 136.8h1.0v1.0h-1.0zM322.6 141.0h1.0v1.0h-1.0zM317.5 137.0h1.0v1.0h-1.0zM313.9 138.1h1.0v1.0h-1.0zM316.9 136.9h1.0v1.0h-1.0zM316.2 141.8h1.0v1.0h-1.0zM316.9 139.6h1.0v1.0h-1.0zM310.8 138.9h1.0v1.0h-1.0zM316.4 138.1h1.0v1.0h-1.0zM312.8 139.3h1.0v1.0h-1.0zM313.9 138.3h1.0v1.0h-1.0zM312.2 139.2h1.0v1.0h-1.0zM319.5 137.8h1.0v1.0h-1.0zM317.8 136.4h1.0v1.0h-1.0zM318.5 140.5h1.0v1.0h-1.0zM315.7 141.1h1.0v1.0h-1.0zM314.3 139.5h1.0v1.0h-1.0zM321.7 139.4h1.0v1.0h-1.0zM313.6 141.6h1.0v1.0h-1.0zM318.4 138.9h1.0v1.0h-1.0zM311.6 135.7h1.0v1.0h-1.0zM312.4 142.3h1.0v1.0h-1.0zM317.7 137.7h1.0v1.0h-1.0zM320.1 142.3h1.0v1.0h-1.0zM314.4 140.3h1.0v1.0h-1.0zM312.1 140.1h1.0v1.0h-1.0zM322.1 136.6h1.0v1.0h-1.0zM317.0 138.2h1.0v1.0h-1.0zM316.6 139.6h1.0v1.0h-1.0zM317.6 141.1h1.0v1.0h-1.0zM318.3 141.4h1.0v1.0h-1.0zM319.8 141.5h1.0v1.0h-1.0zM314.9 140.2h1.0v1.0h-1.0zM315.8 137.8h1.0v1.0h-1.0zM322.5 140.0h1.0v1.0h-1.0zM317.0 135.3h1.0v1.0h-1.0zM316.2 140.9h1.0v1.0h-1.0zM316.2 138.3h1.0v1.0h-1.0zM321.1 138.8h1.0v1.0h-1.0zM315.9 139.2h1.0v1.0h-1.0zM316.1 141.5h1.0v1.0h-1.0zM318.5 139.3h1.0v1.0h-1.0zM315.8 139.0h1.0v1.0h-1.0zM321.7 138.8h1.0v1.0h-1.0zM318.7 136.3h1.0v1.0h-1.0zM317.8 140.7h1.0v1.0h-1.0zM320.5 140.0h1.0v1.0h-1.0zM318.5 140.0h1.0v1.0h-1.0zM319.9 143.4h1.0v1.0h-1.0zM317.4 137.8h1.0v1.0h-1.0zM318.5 139.2h1.0v1.0h-1.0zM318.7 140.9h1.0v1.0h-1.0zM317.3 138.5h1.0v1.0h-1.0zM317.7 137.0h1.0v1.0h-1.0zM317.6 137.7h1.0v1.0h-1.0zM318.1 139.6h1.0v1.0h-1.0zM316.2 137.1h1.0v1.0h-1.0zM317.0 138.1h1.0v1.0h-1.0zM316.4 140.8h1.0v1.0h-1.0zM319.6 136.9h1.0v1.0h-1.0zM319.5 142.1h1.0v1.0h-1.0zM320.1 139.9h1.0v1.0h-1.0zM316.6 142.8h1.0v1.0h-1.0zM315.9 136.4h1.0v1.0h-1.0zM317.1 140.0h1.0v1.0h-1.0zM313.9 137.0h1.0v1.0h-1.0zM322.5 139.6h1.0v1.0h-1.0zM319.1 138.3h1.0v1.0h-1.0zM312.5 139.1h1.0v1.0h-1.0zM320.7 138.1h1.0v1.0h-1.0zM311.7 139.1h1.0v1.0h-1.0zM316.0 139.4h1.0v1.0h-1.0zM313.8 138.8h1.0v1.0h-1.0zM315.3 141.1h1.0v1.0h-1.0zM317.3 141.1h1.0v1.0h-1.0zM316.7 135.2h1.0v1.0h-1.0zM311.2 140.4h1.0v1.0h-1.0zM319.3 141.1h1.0v1.0h-1.0zM316.6 135.9h1.0v1.0h-1.0zM315.4 140.2h1.0v1.0h-1.0zM320.8 138.7h1.0v1.0h-1.0zM315.2 137.9h1.0v1.0h-1.0zM319.8 141.1h1.0v1.0h-1.0zM311.6 141.8h1.0v1.0h-1.0zM314.2 136.5h1.0v1.0h-1.0zM312.3 138.0h1.0v1.0h-1.0zM313.3 138.1h1.0v1.0h-1.0zM317.3 140.2h1.0v1.0h-1.0zM315.5 136.3h1.0v1.0h-1.0zM315.6 138.1h1.0v1.0h-1.0zM311.7 139.7h1.0v1.0h-1.0zM312.6 136.0h1.0v1.0h-1.0zM321.2 141.2h1.0v1.0h-1.0zM321.0 139.6h1.0v1.0h-1.0zM315.6 139.2h1.0v1.0h-1.0zM312.9 140.8h1.0v1.0h-1.0zM317.6 138.8h1.0v1.0h-1.0zM311.5 139.2h1.0v1.0h-1.0zM321.5 142.2h1.0v1.0h-1.0zM319.3 138.7h1.0v1.0h-1.0zM317.2 140.5h1.0v1.0h-1.0zM317.4 141.4h1.0v1.0h-1.0zM314.9 134.9h1.0v1.0h-1.0zM309.9 137.6h1.0v1.0h-1.0zM312.9 140.7h1.0v1.0h-1.0zM319.9 139.4h1.0v1.0h-1.0zM318.4 139.6h1.0v1.0h-1.0zM317.3 138.5h1.0v1.0h-1.0zM315.7 141.7h1.0v1.0h-1.0zM316.1 139.3h1.0v1.0h-1.0zM320.3 141.3h1.0v1.0h-1.0zM315.7 139.9h1.0v1.0h-1.0zM313.9 139.7h1.0v1.0h-1.0zM317.7 139.4h1.0v1.0h-1.0zM317.3 140.1h1.0v1.0h-1.0zM309.6 137.8h1.0v1.0h-1.0zM317.1 138.4h1.0v1.0h-1.0zM314.1 138.9h1.0v1.0h-1.0zM321.5 139.0h1.0v1.0h-1.0zM315.0 138.5h1.0v1.0h-1.0zM313.4 140.3h1.0v1.0h-1.0zM314.0 141.2h1.0v1.0h-1.0zM319.4 140.5h1.0v1.0h-1.0zM319.8 139.2h1.0v1.0h-1.0zM311.8 139.3h1.0v1.0h-1.0zM318.7 136.4h1.0v1.0h-1.0zM313.3 141.5h1.0v1.0h-1.0zM318.1 142.0h1.0v1.0h-1.0zM318.8 139.5h1.0v1.0h-1.0zM318.1 141.1h1.0v1.0h-1.0zM316.8 139.0h1.0v1.0h-1.0zM317.7 138.8h1.0v1.0h-1.0zM323.8 137.9h1.0v1.0h-1.0zM312.5 136.9h1.0v1.0h-1.0zM319.8 138.6h1.0v1.0h-1.0zM317.3 139.0h1.0v1.0h-1.0zM317.6 136.6h1.0v1.0h-1.0zM317.1 138.3h1.0v1.0h-1.0zM320.0 140.6h1.0v1.0h-1.0zM313.2 137.5h1.0v1.0h-1.0zM318.5 141.7h1.0v1.0h-1.0zM319.0 139.1h1.0v1.0h-1.0zM320.0 134.8h1.0v1.0h-1.0zM315.3 137.5h1.0v1.0h-1.0zM313.9 140.5h1.0v1.0h-1.0zM317.6 140.0h1.0v1.0h-1.0zM316.5 140.6h1.0v1.0h-1.0zM319.1 138.3h1.0v1.0h-1.0zM319.5 137.6h1.0v1.0h-1.0zM321.9 136.9h1.0v1.0h-1.0zM316.0 137.3h1.0v1.0h-1.0zM317.0 142.0h1.0v1.0h-1.0zM314.7 142.9h1.0v1.0h-1.0zM320.9 140.2h1.0v1.0h-1.0zM315.1 141.2h1.0v1.0h-1.0zM308.6 137.9h1.0v1.0h-1.0zM319.6 139.3h1.0v1.0h-1.0zM324.0 138.1h1.0v1.0h-1.0zM313.0 139.0h1.0v1.0h-1.0zM318.5 142.7h1.0v1.0h-1.0zM311.7 139.7h1.0v1.0h-1.0zM320.5 138.1h1.0v1.0h-1.0zM315.5 137.0h1.0v1.0h-1.0zM319.1 141.0h1.0v1.0h-1.0zM318.5 139.9h1.0v1.0h-1.0zM319.7 139.2h1.0v1.0h-1.0zM318.9 141.0h1.0v1.0h-1.0zM320.6 140.4h1.0v1.0h-1.0zM317.1 140.8h1.0v1.0h-1.0zM312.3 135.9h1.0v1.0h-1.0zM321.5 139.7h1.0v1.0h-1.0zM313.8 138.3h1.0v1.0h-1.0zM316.4 139.5h1.0v1.0h-1.0zM314.6 141.4h1.0v1.0h-1.0zM313.7 142.7h1.0v1.0h-1.0zM318.8 136.1h1.0v1.0h-1.0zM313.3 139.5h1.0v1.0h-1.0zM317.6 138.6h1.0v1.0h-1.0zM316.9 139.7h1.0v1.0h-1.0zM313.5 139.5h1.0v1.0h-1.0zM323.5 138.1h1.0v1.0h-1.0zM313.9 140.7h1.0v1.0h-1.0zM320.8 141.5h1.0v1.0h-1.0zM315.0 139.3h1.0v1.0h-1.0zM317.4 139.0h1.0v1.0h-1.0zM318.0 141.5h1.0v1.0h-1.0zM318.4 139.4h1.0v1.0h-1.0zM316.2 142.9h1.0v1.0h-1.0zM313.2 143.3h1.0v1.0h-1.0zM319.0 139.6h1.0v1.0h-1.0zM314.7 143.0h1.0v1.0h-1.0zM320.4 141.2h1.0v1.0h-1.0zM322.9 135.9h1.0v1.0h-1.0zM317.1 138.8h1.0v1.0h-1.0zM314.7 139.5h1.0v1.0h-1.0zM318.4 140.4h1.0v1.0h-1.0zM316.4 136.8h1.0v1.0h-1.0zM318.5 140.6h1.0v1.0h-1.0zM323.1 141.2h1.0v1.0h-1.0zM316.9 137.1h1.0v1.0h-1.0zM324.8 138.1h1.0v1.0h-1.0zM317.4 140.9h1.0v1.0h-1.0zM318.3 142.0h1.0v1.0h-1.0zM313.8 138.0h1.0v1.0h-1.0zM317.4 137.0h1.0v1.0h-1.0zM315.0 142.1h1.0v1.0h-1.0zM317.7 139.2h1.0v1.0h-1.0zM315.2 139.5h1.0v1.0h-1.0zM316.7 137.3h1.0v1.0h-1.0zM319.2 136.9h1.0v1.0h-1.0zM320.6 138.7h1.0v1.0h-1.0zM310.1 136.3h1.0v1.0h-1.0zM317.7 137.7h1.0v1.0h-1.0zM322.2 142.1h1.0v1.0h-1.0zM323.1 141.2h1.0v1.0h-1.0zM320.8 138.2h1.0v1.0h-1.0zM320.7 138.5h1.0v1.0h-1.0zM316.7 136.7h1.0v1.0h-1.0zM317.0 140.2h1.0v1.0h-1.0zM316.7 137.2h1.0v1.0h-1.0zM319.5 141.2h1.0v1.0h-1.0zM316.6 141.0h1.0v1.0h-1.0zM319.8 137.5h1.0v1.0h-1.0zM316.7 135.7h1.0v1.0h-1.0zM313.8 140.2h1.0v1.0h-1.0zM314.2 140.2h1.0v1.0h-1.0zM317.9 135.3h1.0v1.0h-1.0zM315.4 142.4h1.0v1.0h-1.0zM316.9 139.6h1.0v1.0h-1.0zM314.7 136.2h1.0v1.0h-1.0zM316.3 137.7h1.0v1.0h-1.0zM317.2 135.6h1.0v1.0h-1.0zM321.0 142.8h1.0v1.0h-1.0zM314.6 140.0h1.0v1.0h-1.0zM314.2 141.1h1.0v1.0h-1.0zM314.3 139.1h1.0v1.0h-1.0zM320.7 140.4h1.0v1.0h-1.0zM315.9 136.4h1.0v1.0h-1.0zM312.1 141.8h1.0v1.0h-1.0zM318.4 139.5h1.0v1.0h-1.0zM320.6 139.7h1.0v1.0h-1.0zM314.7 139.2h1.0v1.0h-1.0zM316.5 139.4h1.0v1.0h-1.0zM324.3 140.6h1.0v1.0h-1.0zM317.7 138.9h1.0v1.0h-1.0zM314.8 137.4h1.0v1.0h-1.0zM311.2 138.5h1.0v1.0h-1.0zM312.3 135.7h1.0v1.0h-1.0zM314.0 135.4h1.0v1.0h-1.0zM320.9 141.9h1.0v1.0h-1.0zM313.9 143.5h1.0v1.0h-1.0zM318.8 134.4h1.0v1.0h-1.0zM316.9 137.4h1.0v1.0h-1.0zM311.6 138.9h1.0v1.0h-1.0zM320.3 140.3h1.0v1.0h-1.0zM312.5 138.1h1.0v1.0h-1.0zM314.6 141.7h1.0v1.0h-1.0zM316.5 137.4h1.0v1.0h-1.0zM314.1 135.5h1.0v1.0h-1.0zM314.3 141.2h1.0v1.0h-1.0zM311.1 139.8h1.0v1.0h-1.0zM316.5 141.0h1.0v1.0h-1.0zM313.4 141.2h1.0v1.0h-1.0zM311.9 139.3h1.0v1.0h-1.0zM316.2 139.6h1.0v1.0h-1.0zM313.9 141.1h1.0v1.0h-1.0zM323.9 142.4h1.0v1.0h-1.0zM314.0 138.2h1.0v1.0h-1.0zM319.0 139.7h1.0v1.0h-1.0zM314.5 141.9h1.0v1.0h-1.0zM318.4 141.4h1.0v1.0h-1.0zM316.3 142.0h1.0v1.0h-1.0zM315.4 137.2h1.0v1.0h-1.0zM316.8 136.6h1.0v1.0h-1.0zM320.6 140.9h1.0v1.0h-1.0zM311.8 139.7h1.0v1.0h-1.0zM319.4 138.7h1.0v1.0h-1.0zM318.1 138.2h1.0v1.0h-1.0zM316.6 139.2h1.0v1.0h-1.0zM318.3 137.5h1.0v1.0h-1.0zM313.4 140.1h1.0v1.0h-1.0zM315.3 140.4h1.0v1.0h-1.0zM315.3 136.8h1.0v1.0h-1.0zM319.0 139.9h1.0v1.0h-1.0zM319.0 138.7h1.0v1.0h-1.0zM315.7 141.9h1.0v1.0h-1.0zM311.7 142.9h1.0v1.0h-1.0zM318.4 139.3h1.0v1.0h-1.0zM317.1 140.6h1.0v1.0h-1.0zM314.5 140.0h1.0v1.0h-1.0zM313.9 135.7h1.0v1.0h-1.0zM317.4 139.6h1.0v1.0h-1.0zM318.8 140.5h1.0v1.0h-1.0zM318.9 141.0h1.0v1.0h-1.0zM313.6 141.8h1.0v1.0h-1.0zM324.9 138.3h1.0v1.0h-1.0zM313.0 140.8h1.0v1.0h-1.0zM319.6 141.4h1.0v1.0h-1.0zM321.4 136.6h1.0v1.0h-1.0zM318.0 140.3h1.0v1.0h-1.0zM320.6 137.6h1.0v1.0h-1.0zM316.9 138.7h1.0v1.0h-1.0zM316.3 139.1h1.0v1.0h-1.0zM316.4 135.9h1.0v1.0h-1.0zM316.7 139.5h1.0v1.0h-1.0zM314.7 138.1h1.0v1.0h-1.0zM314.2 142.6h1.0v1.0h-1.0zM319.6 139.0h1.0v1.0h-1.0zM313.9 140.4h1.0v1.0h-1.0zM315.0 142.4h1.0v1.0h-1.0zM320.2 139.2h1.0v1.0h-1.0zM318.7 137.8h1.0v1.0h-1.0zM312.0 141.1h1.0v1.0h-1.0zM321.7 138.8h1.0v1.0h-1.0zM315.2 135.8h1.0v1.0h-1.0zM323.3 137.0h1.0v1.0h-1.0zM313.9 139.0h1.0v1.0h-1.0zM320.5 139.5h1.0v1.0h-1.0zM316.8 139.4h1.0v1.0h-1.0zM319.4 139.3h1.0v1.0h-1.0zM317.3 139.3h1.0v1.0h-1.0zM313.5 142.1h1.0v1.0h-1.0zM314.7 136.8h1.0v1.0h-1.0zM315.5 139.5h1.0v1.0h-1.0zM319.3 136.4h1.0v1.0h-1.0zM313.0 139.8h1.0v1.0h-1.0zM318.0 137.2h1.0v1.0h-1.0zM313.4 139.8h1.0v1.0h-1.0zM316.4 136.2h1.0v1.0h-1.0zM314.2 142.4h1.0v1.0h-1.0zM313.6 141.5h1.0v1.0h-1.0zM312.2 142.4h1.0v1.0h-1.0zM321.6 138.1h1.0v1.0h-1.0zM314.8 140.7h1.0v1.0h-1.0zM313.1 140.5h1.0v1.0h-1.0zM320.5 139.9h1.0v1.0h-1.0zM317.8 139.1h1.0v1.0h-1.0zM319.8 137.8h1.0v1.0h-1.0zM321.6 139.4h1.0v1.0h-1.0zM315.8 136.1h1.0v1.0h-1.0zM315.5 139.9h1.0v1.0h-1.0zM320.6 136.2h1.0v1.0h-1.0zM316.4 138.0h1.0v1.0h-1.0zM313.2 139.4h1.0v1.0h-1.0z" fill="#1d2cf6" fill-opacity="0.85"/>
<path d="M316.1 127.8h0.8v0.8h-0.8zM311.8 127.1h0.8v0.8h-0.8zM313.6 112.2h0.8v0.8h-0.8zM319.0 121.1h0.8v0.8h-0.8zM318.1 117.7h0.8v0.8h-0.8zM315.5 118.9h0.8v0.8h-0.8zM317.7 118.4h0.8v0.8h-0.8zM316.9 118.2h0.8v0.8h-0.8zM318.3 116.7h0.8v0.8h-0.8zM317.8 123.5h0.8v0.8h-0.8zM319.9 118.9h0.8v0.8h-0.8zM315.3 114.8h0.8v0.8h-0.8zM319.5 119.5h0.8v0.8h-0.8zM320.0 122.6h0.8v0.8h-0.8zM317.2 112.7h0.8v0.8h-0.8zM316.3 127.4h0.8v0.8h-0.8zM316.5 126.7h0.8v0.8h-0.8zM314.2 128.6h0.8v0.8h-0.8zM324.0 129.2h0.8v0.8h-0.8zM318.5 116.2h0.8v0.8h-0.8zM316.6 119.4h0.8v0.8h-0.8zM315.9 127.4h0.8v0.8h-0.8zM318.1 127.1h0.8v0.8h-0.8zM319.7 116.7h0.8v0.8h-0.8zM314.8 125.6h0.8v0.8h-0.8zM317.9 123.4h0.8v0.8h-0.8zM316.0 128.6h0.8v0.8h-0.8zM318.9 129.3h0.8v0.8h-0.8z" fill="#d8703a" fill-opacity="0.85"/>
<ellipse cx="381.3" cy="121.8" rx="2.4" ry="6.0" transform="rotate(14 381.3 121.8)" fill="#b52f02"/>
<path d="M380.2 124.0h1.0v1.0h-1.0zM382.0 118.7h1.0v1.0h-1.0zM382.5 116.3h1.0v1.0h-1.0zM380.9 122.3h1.0v1.0h-1.0zM383.2 118.6h1.0v1.0h-1.0zM380.0 118.9h1.0v1.0h-1.0zM378.8 118.9h1.0v1.0h-1.0zM385.0 123.2h1.0v1.0h-1.0zM380.7 119.3h1.0v1.0h-1.0zM384.8 118.6h1.0v1.0h-1.0zM381.2 121.5h1.0v1.0h-1.0zM380.8 119.2h1.0v1.0h-1.0zM379.5 118.4h1.0v1.0h-1.0zM382.1 127.0h1.0v1.0h-1.0zM380.3 124.0h1.0v1.0h-1.0zM381.9 122.3h1.0v1.0h-1.0zM380.1 125.8h1.0v1.0h-1.0zM382.3 121.3h1.0v1.0h-1.0zM380.2 124.8h1.0v1.0h-1.0zM381.0 119.2h1.0v1.0h-1.0zM381.3 120.1h1.0v1.0h-1.0zM382.9 123.4h1.0v1.0h-1.0zM381.6 120.0h1.0v1.0h-1.0zM383.0 123.8h1.0v1.0h-1.0zM383.6 125.6h1.0v1.0h-1.0zM381.4 119.9h1.0v1.0h-1.0zM380.7 122.3h1.0v1.0h-1.0zM382.1 123.7h1.0v1.0h-1.0zM384.8 117.3h1.0v1.0h-1.0zM382.5 117.1h1.0v1.0h-1.0zM380.3 119.4h1.0v1.0h-1.0zM381.1 118.4h1.0v1.0h-1.0zM378.2 125.0h1.0v1.0h-1.0zM380.0 124.9h1.0v1.0h-1.0zM381.6 113.7h1.0v1.0h-1.0zM379.7 124.5h1.0v1.0h-1.0zM380.2 122.9h1.0v1.0h-1.0zM378.6 126.0h1.0v1.0h-1.0zM381.1 125.4h1.0v1.0h-1.0zM379.9 125.9h1.0v1.0h-1.0zM381.8 120.2h1.0v1.0h-1.0zM380.3 121.8h1.0v1.0h-1.0zM380.9 117.5h1.0v1.0h-1.0zM380.9 124.2h1.0v1.0h-1.0zM380.2 124.5h1.0v1.0h-1.0zM384.6 118.2h1.0v1.0h-1.0zM382.5 118.7h1.0v1.0h-1.0zM380.2 122.2h1.0v1.0h-1.0zM377.3 123.0h1.0v1.0h-1.0zM382.1 123.9h1.0v1.0h-1.0zM380.8 128.0h1.0v1.0h-1.0zM379.9 125.3h1.0v1.0h-1.0zM383.0 123.9h1.0v1.0h-1.0zM378.8 120.6h1.0v1.0h-1.0zM382.2 116.3h1.0v1.0h-1.0zM380.6 124.3h1.0v1.0h-1.0zM381.1 121.1h1.0v1.0h-1.0zM383.9 120.3h1.0v1.0h-1.0zM379.9 121.6h1.0v1.0h-1.0zM382.5 124.2h1.0v1.0h-1.0zM381.8 120.2h1.0v1.0h-1.0zM382.4 125.2h1.0v1.0h-1.0zM378.5 122.3h1.0v1.0h-1.0zM376.6 125.9h1.0v1.0h-1.0zM382.7 119.9h1.0v1.0h-1.0zM379.7 120.3h1.0v1.0h-1.0zM378.3 123.0h1.0v1.0h-1.0zM382.0 115.8h1.0v1.0h-1.0zM380.3 125.7h1.0v1.0h-1.0zM379.7 120.2h1.0v1.0h-1.0zM383.8 123.1h1.0v1.0h-1.0zM380.3 122.2h1.0v1.0h-1.0zM383.3 118.7h1.0v1.0h-1.0zM382.5 116.4h1.0v1.0h-1.0zM380.2 116.1h1.0v1.0h-1.0zM382.3 123.1h1.0v1.0h-1.0zM381.4 126.1h1.0v1.0h-1.0zM381.2 122.6h1.0v1.0h-1.0zM381.5 123.5h1.0v1.0h-1.0zM380.0 120.5h1.0v1.0h-1.0zM381.0 121.9h1.0v1.0h-1.0zM380.3 121.1h1.0v1.0h-1.0zM381.6 122.5h1.0v1.0h-1.0zM381.5 124.7h1.0v1.0h-1.0zM381.3 125.2h1.0v1.0h-1.0zM381.4 126.7h1.0v1.0h-1.0zM382.7 120.0h1.0v1.0h-1.0zM383.8 126.4h1.0v1.0h-1.0zM382.5 124.7h1.0v1.0h-1.0zM382.3 118.0h1.0v1.0h-1.0zM382.2 120.8h1.0v1.0h-1.0zM382.4 114.6h1.0v1.0h-1.0zM384.5 118.5h1.0v1.0h-1.0zM379.3 122.9h1.0v1.0h-1.0zM382.8 119.4h1.0v1.0h-1.0zM381.1 122.6h1.0v1.0h-1.0zM381.1 123.6h1.0v1.0h-1.0zM382.7 120.9h1.0v1.0h-1.0zM377.2 128.4h1.0v1.0h-1.0zM381.5 118.4h1.0v1.0h-1.0zM381.9 124.0h1.0v1.0h-1.0zM378.5 129.4h1.0v1.0h-1.0zM376.8 125.2h1.0v1.0h-1.0zM381.0 122.8h1.0v1.0h-1.0zM382.0 121.1h1.0v1.0h-1.0zM382.8 117.6h1.0v1.0h-1.0zM379.2 127.8h1.0v1.0h-1.0zM376.5 125.0h1.0v1.0h-1.0zM378.7 118.2h1.0v1.0h-1.0zM382.9 120.8h1.0v1.0h-1.0zM381.7 116.6h1.0v1.0h-1.0zM381.3 121.2h1.0v1.0h-1.0zM381.6 116.4h1.0v1.0h-1.0zM381.2 123.2h1.0v1.0h-1.0zM382.5 123.9h1.0v1.0h-1.0zM382.6 126.3h1.0v1.0h-1.0zM375.8 126.3h1.0v1.0h-1.0zM382.0 118.3h1.0v1.0h-1.0zM381.2 125.1h1.0v1.0h-1.0zM380.0 117.2h1.0v1.0h-1.0zM382.8 120.2h1.0v1.0h-1.0zM383.3 123.0h1.0v1.0h-1.0zM381.6 117.2h1.0v1.0h-1.0zM383.6 116.3h1.0v1.0h-1.0zM380.5 117.0h1.0v1.0h-1.0zM382.4 128.1h1.0v1.0h-1.0zM381.3 120.4h1.0v1.0h-1.0zM381.3 126.2h1.0v1.0h-1.0zM378.3 128.8h1.0v1.0h-1.0zM380.1 125.5h1.0v1.0h-1.0zM377.9 120.8h1.0v1.0h-1.0zM378.7 128.1h1.0v1.0h-1.0zM382.0 117.5h1.0v1.0h-1.0zM384.7 120.2h1.0v1.0h-1.0zM382.3 117.7h1.0v1.0h-1.0zM382.1 122.7h1.0v1.0h-1.0zM381.2 120.4h1.0v1.0h-1.0zM381.0 119.2h1.0v1.0h-1.0zM378.3 125.3h1.0v1.0h-1.0zM383.7 117.5h1.0v1.0h-1.0zM379.3 122.7h1.0v1.0h-1.0zM384.8 121.9h1.0v1.0h-1.0zM381.0 120.8h1.0v1.0h-1.0zM381.8 121.3h1.0v1.0h-1.0zM382.1 125.4h1.0v1.0h-1.0zM380.8 127.2h1.0v1.0h-1.0zM381.4 119.9h1.0v1.0h-1.0zM387.2 116.5h1.0v1.0h-1.0zM380.9 113.4h1.0v1.0h-1.0zM382.7 118.4h1.0v1.0h-1.0zM384.6 115.2h1.0v1.0h-1.0zM381.4 120.4h1.0v1.0h-1.0zM378.8 125.1h1.0v1.0h-1.0zM380.4 123.1h1.0v1.0h-1.0zM380.4 122.1h1.0v1.0h-1.0zM380.6 121.9h1.0v1.0h-1.0zM381.7 119.5h1.0v1.0h-1.0zM382.1 121.3h1.0v1.0h-1.0zM380.7 118.0h1.0v1.0h-1.0zM380.9 126.4h1.0v1.0h-1.0zM379.7 119.9h1.0v1.0h-1.0zM381.1 125.4h1.0v1.0h-1.0zM383.3 118.1h1.0v1.0h-1.0zM380.6 124.8h1.0v1.0h-1.0zM381.8 121.1h1.0v1.0h-1.0zM379.4 121.9h1.0v1.0h-1.0zM381.2 121.9h1.0v1.0h-1.0zM382.5 126.3h1.0v1.0h-1.0zM380.0 122.3h1.0v1.0h-1.0zM380.8 122.0h1.0v1.0h-1.0zM382.9 125.4h1.0v1.0h-1.0zM381.9 119.6h1.0v1.0h-1.0zM380.8 122.9h1.0v1.0h-1.0zM379.7 125.3h1.0v1.0h-1.0zM382.3 117.9h1.0v1.0h-1.0zM386.6 112.9h1.0v1.0h-1.0zM381.0 121.3h1.0v1.0h-1.0zM381.8 125.8h1.0v1.0h-1.0zM382.2 127.5h1.0v1.0h-1.0zM381.7 122.3h1.0v1.0h-1.0zM382.8 122.1h1.0v1.0h-1.0zM379.8 119.8h1.0v1.0h-1.0zM381.8 124.1h1.0v1.0h-1.0zM378.7 125.4h1.0v1.0h-1.0zM383.0 116.9h1.0v1.0h-1.0zM381.2 125.3h1.0v1.0h-1.0zM382.3 121.0h1.0v1.0h-1.0zM379.2 125.2h1.0v1.0h-1.0zM381.6 121.9h1.0v1.0h-1.0zM381.6 118.2h1.0v1.0h-1.0zM378.8 120.0h1.0v1.0h-1.0zM382.3 124.7h1.0v1.0h-1.0zM379.1 126.6h1.0v1.0h-1.0zM381.8 118.4h1.0v1.0h-1.0zM381.6 126.7h1.0v1.0h-1.0zM381.7 117.6h1.0v1.0h-1.0zM383.2 113.7h1.0v1.0h-1.0zM380.1 126.9h1.0v1.0h-1.0zM382.3 119.5h1.0v1.0h-1.0zM382.7 120.4h1.0v1.0h-1.0zM383.4 121.1h1.0v1.0h-1.0zM384.6 121.4h1.0v1.0h-1.0zM382.3 118.8h1.0v1.0h-1.0zM379.1 122.5h1.0v1.0h-1.0zM382.6 118.7h1.0v1.0h-1.0zM382.5 120.6h1.0v1.0h-1.0zM380.6 121.4h1.0v1.0h-1.0zM381.3 124.3h1.0v1.0h-1.0zM382.8 123.5h1.0v1.0h-1.0zM380.8 119.3h1.0v1.0h-1.0zM382.8 118.0h1.0v1.0h-1.0zM381.4 120.5h1.0v1.0h-1.0zM381.0 122.4h1.0v1.0h-1.0zM381.5 127.6h1.0v1.0h-1.0zM381.8 125.5h1.0v1.0h-1.0zM378.9 124.9h1.0v1.0h-1.0zM384.3 117.8h1.0v1.0h-1.0zM385.5 120.8h1.0v1.0h-1.0zM376.4 126.8h1.0v1.0h-1.0zM382.0 119.2h1.0v1.0h-1.0zM379.6 125.1h1.0v1.0h-1.0zM382.0 120.6h1.0v1.0h-1.0zM383.7 119.1h1.0v1.0h-1.0zM380.5 119.6h1.0v1.0h-1.0zM379.6 123.8h1.0v1.0h-1.0zM381.8 118.2h1.0v1.0h-1.0zM382.2 115.1h1.0v1.0h-1.0zM381.5 122.2h1.0v1.0h-1.0zM382.4 121.2h1.0v1.0h-1.0zM382.6 118.8h1.0v1.0h-1.0zM381.2 122.3h1.0v1.0h-1.0zM379.0 123.3h1.0v1.0h-1.0zM381.5 122.0h1.0v1.0h-1.0zM379.0 128.3h1.0v1.0h-1.0zM381.9 119.3h1.0v1.0h-1.0zM379.6 123.5h1.0v1.0h-1.0zM381.6 119.1h1.0v1.0h-1.0zM379.5 124.6h1.0v1.0h-1.0zM380.6 125.3h1.0v1.0h-1.0zM382.2 117.9h1.0v1.0h-1.0zM382.3 123.2h1.0v1.0h-1.0zM380.6 120.5h1.0v1.0h-1.0zM379.2 124.2h1.0v1.0h-1.0zM380.3 123.2h1.0v1.0h-1.0zM381.9 121.0h1.0v1.0h-1.0zM382.0 121.1h1.0v1.0h-1.0zM379.9 120.0h1.0v1.0h-1.0zM379.0 123.9h1.0v1.0h-1.0zM382.7 120.1h1.0v1.0h-1.0zM382.0 122.8h1.0v1.0h-1.0zM383.5 119.1h1.0v1.0h-1.0zM382.1 118.5h1.0v1.0h-1.0zM379.2 126.1h1.0v1.0h-1.0zM379.1 118.1h1.0v1.0h-1.0zM381.4 124.5h1.0v1.0h-1.0zM381.8 114.8h1.0v1.0h-1.0zM378.5 122.4h1.0v1.0h-1.0zM382.2 125.2h1.0v1.0h-1.0zM379.1 126.0h1.0v1.0h-1.0zM380.5 123.8h1.0v1.0h-1.0zM379.7 127.0h1.0v1.0h-1.0zM382.3 114.5h1.0v1.0h-1.0zM380.7 122.3h1.0v1.0h-1.0zM382.3 119.5h1.0v1.0h-1.0zM381.9 118.0h1.0v1.0h-1.0zM380.9 122.0h1.0v1.0h-1.0zM380.3 127.3h1.0v1.0h-1.0zM378.0 122.8h1.0v1.0h-1.0zM382.9 118.1h1.0v1.0h-1.0zM381.4 121.8h1.0v1.0h-1.0zM379.3 123.8h1.0v1.0h-1.0zM383.5 124.7h1.0v1.0h-1.0zM381.6 125.6h1.0v1.0h-1.0zM380.3 125.0h1.0v1.0h-1.0zM380.0 122.1h1.0v1.0h-1.0zM381.3 126.4h1.0v1.0h-1.0zM381.1 120.7h1.0v1.0h-1.0zM382.0 121.7h1.0v1.0h-1.0zM380.9 124.5h1.0v1.0h-1.0zM379.5 124.4h1.0v1.0h-1.0zM382.1 121.1h1.0v1.0h-1.0zM380.0 119.3h1.0v1.0h-1.0zM380.5 124.9h1.0v1.0h-1.0zM377.9 123.4h1.0v1.0h-1.0zM382.5 118.1h1.0v1.0h-1.0zM382.2 123.4h1.0v1.0h-1.0zM382.7 118.7h1.0v1.0h-1.0zM379.0 124.4h1.0v1.0h-1.0zM383.0 123.5h1.0v1.0h-1.0zM381.4 120.2h1.0v1.0h-1.0zM378.0 124.4h1.0v1.0h-1.0zM380.2 125.8h1.0v1.0h-1.0zM379.4 125.0h1.0v1.0h-1.0zM379.8 123.5h1.0v1.0h-1.0zM383.9 120.0h1.0v1.0h-1.0zM382.6 122.1h1.0v1.0h-1.0zM379.8 122.1h1.0v1.0h-1.0zM382.8 119.7h1.0v1.0h-1.0zM381.4 119.8h1.0v1.0h-1.0zM380.4 120.8h1.0v1.0h-1.0z" fill="#b52f02" fill-opacity="0.85"/>
<path d="M384.1 119.4h0.7v0.7h-0.7zM385.0 120.4h0.7v0.7h-0.7zM378.1 127.6h0.7v0.7h-0.7zM385.7 118.9h0.7v0.7h-0.7zM384.4 115.4h0.7v0.7h-0.7zM380.8 119.4h0.7v0.7h-0.7zM384.9 115.0h0.7v0.7h-0.7zM381.0 117.5h0.7v0.7h-0.7zM383.3 114.8h0.7v0.7h-0.7zM384.0 113.2h0.7v0.7h-0.7zM385.2 114.7h0.7v0.7h-0.7zM374.2 130.3h0.7v0.7h-0.7zM385.6 117.7h0.7v0.7h-0.7zM377.9 123.9h0.7v0.7h-0.7zM385.5 126.5h0.7v0.7h-0.7zM384.6 115.4h0.7v0.7h-0.7zM376.3 122.9h0.7v0.7h-0.7zM383.6 123.2h0.7v0.7h-0.7zM379.3 129.8h0.7v0.7h-0.7zM377.7 127.6h0.7v0.7h-0.7zM384.3 118.7h0.7v0.7h-0.7zM381.5 122.5h0.7v0.7h-0.7zM384.1 116.5h0.7v0.7h-0.7zM380.6 122.2h0.7v0.7h-0.7zM381.3 121.9h0.7v0.7h-0.7zM382.2 120.8h0.7v0.7h-0.7zM378.6 127.4h0.7v0.7h-0.7zM380.1 119.6h0.7v0.7h-0.7zM380.7 114.7h0.7v0.7h-0.7zM382.5 121.8h0.7v0.7h-0.7zM380.3 124.3h0.7v0.7h-0.7zM379.9 125.6h0.7v0.7h-0.7zM385.3 124.9h0.7v0.7h-0.7zM378.3 131.1h0.7v0.7h-0.7zM385.4 112.7h0.7v0.7h-0.7zM384.3 123.8h0.7v0.7h-0.7zM385.0 115.7h0.7v0.7h-0.7zM380.1 117.6h0.7v0.7h-0.7zM384.3 115.7h0.7v0.7h-0.7zM378.2 126.8h0.7v0.7h-0.7zM379.5 122.1h0.7v0.7h-0.7zM381.5 111.5h0.7v0.7h-0.7zM381.3 121.1h0.7v0.7h-0.7zM376.4 126.5h0.7v0.7h-0.7zM382.1 127.4h0.7v0.7h-0.7zM381.6 114.9h0.7v0.7h-0.7zM380.8 122.7h0.7v0.7h-0.7zM381.7 118.3h0.7v0.7h-0.7zM379.9 117.0h0.7v0.7h-0.7zM381.8 118.9h0.7v0.7h-0.7zM385.8 121.2h0.7v0.7h-0.7zM383.1 119.4h0.7v0.7h-0.7zM382.2 116.1h0.7v0.7h-0.7zM382.2 112.9h0.7v0.7h-0.7zM374.3 128.2h0.7v0.7h-0.7zM378.1 123.6h0.7v0.7h-0.7zM381.8 118.5h0.7v0.7h-0.7zM383.9 119.1h0.7v0.7h-0.7zM382.9 119.9h0.7v0.7h-0.7zM382.4 127.9h0.7v0.7h-0.7z" fill="#c04818" fill-opacity="0.55"/>
<ellipse cx="436.0" cy="121.6" rx="4.8" ry="6.8" transform="rotate(12 436.0 121.6)" fill="#e0600e"/>
<path d="M435.4 125.4h1.0v1.0h-1.0zM436.1 127.2h1.0v1.0h-1.0zM436.8 116.2h1.0v1.0h-1.0zM436.3 122.5h1.0v1.0h-1.0zM435.3 120.7h1.0v1.0h-1.0zM436.2 117.1h1.0v1.0h-1.0zM440.7 119.7h1.0v1.0h-1.0zM434.5 115.6h1.0v1.0h-1.0zM434.0 121.1h1.0v1.0h-1.0zM439.1 124.4h1.0v1.0h-1.0zM435.1 116.9h1.0v1.0h-1.0zM433.4 120.8h1.0v1.0h-1.0zM438.4 120.4h1.0v1.0h-1.0zM438.5 129.1h1.0v1.0h-1.0zM437.9 114.2h1.0v1.0h-1.0zM438.7 121.8h1.0v1.0h-1.0zM436.9 125.3h1.0v1.0h-1.0zM433.5 121.3h1.0v1.0h-1.0zM436.9 119.1h1.0v1.0h-1.0zM437.8 121.5h1.0v1.0h-1.0zM433.7 127.9h1.0v1.0h-1.0zM435.3 127.3h1.0v1.0h-1.0zM434.9 125.1h1.0v1.0h-1.0zM434.1 121.7h1.0v1.0h-1.0zM440.1 114.6h1.0v1.0h-1.0zM437.5 120.9h1.0v1.0h-1.0zM438.5 122.7h1.0v1.0h-1.0zM436.7 117.1h1.0v1.0h-1.0zM443.6 120.5h1.0v1.0h-1.0zM435.7 118.9h1.0v1.0h-1.0zM435.1 122.2h1.0v1.0h-1.0zM432.1 124.6h1.0v1.0h-1.0zM434.9 123.5h1.0v1.0h-1.0zM431.3 118.8h1.0v1.0h-1.0zM435.6 120.1h1.0v1.0h-1.0zM434.2 122.3h1.0v1.0h-1.0zM437.7 118.4h1.0v1.0h-1.0zM430.8 123.2h1.0v1.0h-1.0zM434.5 125.1h1.0v1.0h-1.0zM438.2 121.7h1.0v1.0h-1.0zM432.8 119.6h1.0v1.0h-1.0zM433.4 125.5h1.0v1.0h-1.0zM431.3 123.9h1.0v1.0h-1.0zM432.7 118.9h1.0v1.0h-1.0zM433.1 118.5h1.0v1.0h-1.0zM434.7 122.7h1.0v1.0h-1.0zM434.1 123.7h1.0v1.0h-1.0zM440.1 123.0h1.0v1.0h-1.0zM433.4 120.4h1.0v1.0h-1.0zM436.0 120.3h1.0v1.0h-1.0zM437.9 126.1h1.0v1.0h-1.0zM440.4 124.4h1.0v1.0h-1.0zM429.7 119.8h1.0v1.0h-1.0zM438.2 119.1h1.0v1.0h-1.0zM433.9 124.4h1.0v1.0h-1.0zM437.1 117.8h1.0v1.0h-1.0zM436.8 110.7h1.0v1.0h-1.0zM436.8 117.4h1.0v1.0h-1.0zM436.7 117.5h1.0v1.0h-1.0zM434.1 119.4h1.0v1.0h-1.0zM443.5 118.8h1.0v1.0h-1.0zM433.5 119.2h1.0v1.0h-1.0zM438.0 124.9h1.0v1.0h-1.0zM437.9 120.8h1.0v1.0h-1.0zM436.8 119.0h1.0v1.0h-1.0zM436.1 118.7h1.0v1.0h-1.0zM433.2 117.4h1.0v1.0h-1.0zM440.3 123.9h1.0v1.0h-1.0zM434.3 120.8h1.0v1.0h-1.0zM434.1 125.6h1.0v1.0h-1.0zM436.4 119.4h1.0v1.0h-1.0zM437.4 123.0h1.0v1.0h-1.0zM434.9 118.6h1.0v1.0h-1.0zM437.5 116.0h1.0v1.0h-1.0zM433.1 124.6h1.0v1.0h-1.0zM437.3 125.9h1.0v1.0h-1.0zM435.3 119.3h1.0v1.0h-1.0zM435.7 119.8h1.0v1.0h-1.0zM439.2 121.4h1.0v1.0h-1.0zM439.7 119.8h1.0v1.0h-1.0zM435.7 127.4h1.0v1.0h-1.0zM434.7 119.0h1.0v1.0h-1.0zM435.7 115.7h1.0v1.0h-1.0zM435.7 119.2h1.0v1.0h-1.0zM441.6 121.0h1.0v1.0h-1.0zM430.2 123.8h1.0v1.0h-1.0zM438.3 121.9h1.0v1.0h-1.0zM436.2 124.2h1.0v1.0h-1.0zM434.6 121.5h1.0v1.0h-1.0zM435.2 127.4h1.0v1.0h-1.0zM439.2 122.8h1.0v1.0h-1.0zM432.2 124.0h1.0v1.0h-1.0zM435.0 125.6h1.0v1.0h-1.0zM436.0 122.2h1.0v1.0h-1.0zM438.1 119.4h1.0v1.0h-1.0zM432.8 129.2h1.0v1.0h-1.0zM433.3 124.4h1.0v1.0h-1.0zM437.0 124.7h1.0v1.0h-1.0zM440.2 117.6h1.0v1.0h-1.0zM439.7 114.9h1.0v1.0h-1.0zM435.9 122.8h1.0v1.0h-1.0zM437.7 125.8h1.0v1.0h-1.0zM433.9 120.2h1.0v1.0h-1.0zM436.1 119.1h1.0v1.0h-1.0zM434.5 118.9h1.0v1.0h-1.0zM437.8 126.8h1.0v1.0h-1.0zM436.6 127.8h1.0v1.0h-1.0zM436.9 117.9h1.0v1.0h-1.0zM434.3 122.0h1.0v1.0h-1.0zM437.6 126.3h1.0v1.0h-1.0zM433.2 124.5h1.0v1.0h-1.0zM434.3 123.4h1.0v1.0h-1.0zM437.1 127.1h1.0v1.0h-1.0zM434.5 122.2h1.0v1.0h-1.0zM437.3 120.3h1.0v1.0h-1.0zM435.8 123.7h1.0v1.0h-1.0zM432.5 118.6h1.0v1.0h-1.0zM441.2 124.3h1.0v1.0h-1.0zM435.9 115.0h1.0v1.0h-1.0zM433.3 122.9h1.0v1.0h-1.0zM437.3 123.5h1.0v1.0h-1.0zM437.8 119.8h1.0v1.0h-1.0zM440.6 118.5h1.0v1.0h-1.0zM437.4 120.9h1.0v1.0h-1.0zM431.3 123.9h1.0v1.0h-1.0zM434.8 123.9h1.0v1.0h-1.0zM438.9 122.8h1.0v1.0h-1.0zM434.5 120.5h1.0v1.0h-1.0zM434.8 126.5h1.0v1.0h-1.0zM436.9 127.5h1.0v1.0h-1.0zM438.3 119.3h1.0v1.0h-1.0zM437.5 125.4h1.0v1.0h-1.0zM435.4 123.1h1.0v1.0h-1.0zM436.1 117.1h1.0v1.0h-1.0zM435.2 124.2h1.0v1.0h-1.0zM436.7 113.7h1.0v1.0h-1.0zM433.3 125.0h1.0v1.0h-1.0zM435.7 125.6h1.0v1.0h-1.0zM434.5 119.8h1.0v1.0h-1.0zM434.1 118.4h1.0v1.0h-1.0zM437.1 122.3h1.0v1.0h-1.0zM434.6 122.4h1.0v1.0h-1.0zM433.1 119.6h1.0v1.0h-1.0zM433.5 115.7h1.0v1.0h-1.0zM433.5 117.1h1.0v1.0h-1.0zM438.8 127.1h1.0v1.0h-1.0zM439.4 120.2h1.0v1.0h-1.0zM438.2 118.0h1.0v1.0h-1.0zM434.5 122.2h1.0v1.0h-1.0zM432.0 121.5h1.0v1.0h-1.0zM438.9 114.7h1.0v1.0h-1.0zM430.3 119.4h1.0v1.0h-1.0zM435.6 122.0h1.0v1.0h-1.0zM432.9 123.0h1.0v1.0h-1.0zM436.8 119.1h1.0v1.0h-1.0zM439.7 123.3h1.0v1.0h-1.0zM436.4 128.4h1.0v1.0h-1.0zM434.9 120.6h1.0v1.0h-1.0zM432.0 120.0h1.0v1.0h-1.0zM435.2 130.5h1.0v1.0h-1.0zM437.2 122.6h1.0v1.0h-1.0zM433.6 118.0h1.0v1.0h-1.0zM432.5 115.9h1.0v1.0h-1.0zM436.0 122.7h1.0v1.0h-1.0zM433.9 120.4h1.0v1.0h-1.0zM433.6 123.4h1.0v1.0h-1.0zM437.9 120.0h1.0v1.0h-1.0zM435.7 117.1h1.0v1.0h-1.0zM433.3 129.0h1.0v1.0h-1.0zM435.3 124.6h1.0v1.0h-1.0zM436.3 127.0h1.0v1.0h-1.0zM435.8 118.3h1.0v1.0h-1.0zM437.8 125.3h1.0v1.0h-1.0zM433.6 125.1h1.0v1.0h-1.0zM436.0 121.4h1.0v1.0h-1.0zM440.0 124.3h1.0v1.0h-1.0zM436.9 120.6h1.0v1.0h-1.0zM435.7 125.4h1.0v1.0h-1.0zM437.6 119.2h1.0v1.0h-1.0zM437.1 121.4h1.0v1.0h-1.0zM436.8 121.1h1.0v1.0h-1.0zM431.9 114.9h1.0v1.0h-1.0zM436.6 113.7h1.0v1.0h-1.0zM430.9 127.9h1.0v1.0h-1.0zM437.9 120.3h1.0v1.0h-1.0zM438.3 113.9h1.0v1.0h-1.0zM435.9 125.1h1.0v1.0h-1.0zM437.3 117.1h1.0v1.0h-1.0zM438.6 120.2h1.0v1.0h-1.0zM434.5 122.0h1.0v1.0h-1.0zM433.8 128.6h1.0v1.0h-1.0zM434.1 129.0h1.0v1.0h-1.0zM437.9 117.5h1.0v1.0h-1.0zM435.9 121.8h1.0v1.0h-1.0zM438.5 126.8h1.0v1.0h-1.0zM442.5 120.5h1.0v1.0h-1.0zM433.3 129.5h1.0v1.0h-1.0zM433.6 122.4h1.0v1.0h-1.0zM440.5 118.8h1.0v1.0h-1.0zM435.7 118.8h1.0v1.0h-1.0zM436.9 123.2h1.0v1.0h-1.0zM435.4 123.9h1.0v1.0h-1.0zM434.3 119.9h1.0v1.0h-1.0zM435.6 128.9h1.0v1.0h-1.0zM435.8 121.8h1.0v1.0h-1.0zM439.0 122.5h1.0v1.0h-1.0zM438.9 123.1h1.0v1.0h-1.0zM438.6 122.8h1.0v1.0h-1.0zM434.4 118.2h1.0v1.0h-1.0zM435.7 128.4h1.0v1.0h-1.0zM440.7 121.4h1.0v1.0h-1.0zM442.7 118.9h1.0v1.0h-1.0zM433.3 124.4h1.0v1.0h-1.0zM431.7 124.0h1.0v1.0h-1.0zM436.4 124.0h1.0v1.0h-1.0zM432.8 122.3h1.0v1.0h-1.0zM438.3 121.9h1.0v1.0h-1.0zM438.4 122.2h1.0v1.0h-1.0zM437.0 120.7h1.0v1.0h-1.0zM432.8 120.4h1.0v1.0h-1.0zM437.7 119.2h1.0v1.0h-1.0zM432.4 115.2h1.0v1.0h-1.0zM439.3 121.4h1.0v1.0h-1.0zM433.2 125.6h1.0v1.0h-1.0zM436.6 116.2h1.0v1.0h-1.0zM435.5 118.3h1.0v1.0h-1.0zM436.2 118.3h1.0v1.0h-1.0zM435.8 123.2h1.0v1.0h-1.0zM434.7 120.6h1.0v1.0h-1.0zM435.0 124.4h1.0v1.0h-1.0zM433.7 123.9h1.0v1.0h-1.0zM439.1 121.5h1.0v1.0h-1.0zM433.9 120.0h1.0v1.0h-1.0zM432.1 118.8h1.0v1.0h-1.0zM433.2 120.4h1.0v1.0h-1.0zM434.7 123.2h1.0v1.0h-1.0zM435.9 123.1h1.0v1.0h-1.0zM435.6 122.6h1.0v1.0h-1.0zM432.8 123.4h1.0v1.0h-1.0zM438.3 126.1h1.0v1.0h-1.0zM432.4 122.4h1.0v1.0h-1.0zM431.5 123.5h1.0v1.0h-1.0zM435.8 119.9h1.0v1.0h-1.0zM434.3 120.4h1.0v1.0h-1.0zM436.6 118.2h1.0v1.0h-1.0zM435.9 122.5h1.0v1.0h-1.0zM437.3 121.7h1.0v1.0h-1.0zM434.3 129.7h1.0v1.0h-1.0zM438.2 123.2h1.0v1.0h-1.0zM432.2 123.1h1.0v1.0h-1.0zM439.2 112.5h1.0v1.0h-1.0zM435.3 122.9h1.0v1.0h-1.0zM436.0 122.0h1.0v1.0h-1.0zM434.6 126.4h1.0v1.0h-1.0zM437.1 120.8h1.0v1.0h-1.0zM433.9 128.8h1.0v1.0h-1.0zM434.3 119.3h1.0v1.0h-1.0zM436.6 122.3h1.0v1.0h-1.0zM435.7 126.5h1.0v1.0h-1.0zM438.4 123.6h1.0v1.0h-1.0zM436.1 121.4h1.0v1.0h-1.0zM434.7 125.0h1.0v1.0h-1.0zM433.7 117.3h1.0v1.0h-1.0zM435.6 118.0h1.0v1.0h-1.0zM433.3 125.4h1.0v1.0h-1.0zM430.1 122.5h1.0v1.0h-1.0zM433.0 120.1h1.0v1.0h-1.0zM435.3 117.8h1.0v1.0h-1.0zM432.3 121.1h1.0v1.0h-1.0zM430.3 112.7h1.0v1.0h-1.0zM434.2 125.3h1.0v1.0h-1.0zM440.6 121.5h1.0v1.0h-1.0zM434.2 120.2h1.0v1.0h-1.0zM436.4 125.1h1.0v1.0h-1.0zM433.3 122.8h1.0v1.0h-1.0zM435.1 125.6h1.0v1.0h-1.0zM435.1 120.7h1.0v1.0h-1.0zM434.9 116.5h1.0v1.0h-1.0zM436.1 124.2h1.0v1.0h-1.0zM438.5 123.1h1.0v1.0h-1.0zM435.5 118.1h1.0v1.0h-1.0zM433.7 118.5h1.0v1.0h-1.0zM436.7 122.1h1.0v1.0h-1.0zM430.5 120.1h1.0v1.0h-1.0zM436.0 117.8h1.0v1.0h-1.0zM435.5 123.5h1.0v1.0h-1.0zM434.4 116.3h1.0v1.0h-1.0zM435.0 122.4h1.0v1.0h-1.0zM434.2 126.9h1.0v1.0h-1.0zM437.0 118.1h1.0v1.0h-1.0zM438.3 119.7h1.0v1.0h-1.0zM437.6 122.3h1.0v1.0h-1.0zM439.7 118.7h1.0v1.0h-1.0zM437.4 123.4h1.0v1.0h-1.0zM433.3 123.6h1.0v1.0h-1.0zM441.2 124.0h1.0v1.0h-1.0zM434.2 120.7h1.0v1.0h-1.0zM438.9 123.1h1.0v1.0h-1.0zM440.0 120.0h1.0v1.0h-1.0zM440.3 116.7h1.0v1.0h-1.0zM435.8 120.5h1.0v1.0h-1.0zM433.9 125.7h1.0v1.0h-1.0zM434.3 122.5h1.0v1.0h-1.0zM439.9 125.4h1.0v1.0h-1.0zM435.5 118.8h1.0v1.0h-1.0zM430.8 121.9h1.0v1.0h-1.0zM437.3 125.9h1.0v1.0h-1.0zM435.0 129.3h1.0v1.0h-1.0zM439.5 113.8h1.0v1.0h-1.0zM433.3 124.0h1.0v1.0h-1.0zM434.4 124.4h1.0v1.0h-1.0zM442.7 120.2h1.0v1.0h-1.0zM441.4 122.4h1.0v1.0h-1.0zM432.3 121.2h1.0v1.0h-1.0zM438.6 120.0h1.0v1.0h-1.0zM440.4 119.3h1.0v1.0h-1.0zM434.8 124.8h1.0v1.0h-1.0zM435.9 119.5h1.0v1.0h-1.0zM435.5 123.9h1.0v1.0h-1.0zM439.2 127.2h1.0v1.0h-1.0zM440.6 122.4h1.0v1.0h-1.0zM432.0 120.6h1.0v1.0h-1.0zM435.7 117.9h1.0v1.0h-1.0zM434.8 121.1h1.0v1.0h-1.0zM435.5 124.9h1.0v1.0h-1.0zM432.9 125.2h1.0v1.0h-1.0zM435.6 124.2h1.0v1.0h-1.0zM439.9 117.8h1.0v1.0h-1.0zM440.4 119.9h1.0v1.0h-1.0zM436.2 125.6h1.0v1.0h-1.0zM439.4 116.5h1.0v1.0h-1.0zM435.6 125.7h1.0v1.0h-1.0zM435.7 121.3h1.0v1.0h-1.0zM435.0 127.4h1.0v1.0h-1.0zM435.3 118.0h1.0v1.0h-1.0zM433.7 119.2h1.0v1.0h-1.0zM435.2 122.7h1.0v1.0h-1.0zM437.0 115.5h1.0v1.0h-1.0zM431.7 123.2h1.0v1.0h-1.0zM438.7 117.2h1.0v1.0h-1.0zM440.0 113.5h1.0v1.0h-1.0zM441.2 124.8h1.0v1.0h-1.0zM431.6 122.6h1.0v1.0h-1.0zM436.2 120.0h1.0v1.0h-1.0zM435.3 120.6h1.0v1.0h-1.0zM436.4 118.4h1.0v1.0h-1.0zM434.2 123.3h1.0v1.0h-1.0zM438.2 117.2h1.0v1.0h-1.0zM433.7 126.9h1.0v1.0h-1.0zM436.6 127.8h1.0v1.0h-1.0zM433.4 117.3h1.0v1.0h-1.0zM432.1 113.7h1.0v1.0h-1.0zM435.8 117.7h1.0v1.0h-1.0zM433.8 118.6h1.0v1.0h-1.0zM434.9 124.4h1.0v1.0h-1.0zM438.6 115.7h1.0v1.0h-1.0zM439.9 121.2h1.0v1.0h-1.0zM433.6 121.0h1.0v1.0h-1.0zM436.0 116.5h1.0v1.0h-1.0zM440.2 120.3h1.0v1.0h-1.0zM434.1 123.2h1.0v1.0h-1.0zM439.7 124.1h1.0v1.0h-1.0zM433.5 122.7h1.0v1.0h-1.0zM438.4 123.5h1.0v1.0h-1.0zM437.9 120.2h1.0v1.0h-1.0zM437.0 115.6h1.0v1.0h-1.0zM435.1 117.2h1.0v1.0h-1.0zM434.9 126.9h1.0v1.0h-1.0zM431.4 115.8h1.0v1.0h-1.0zM433.8 120.8h1.0v1.0h-1.0zM439.4 119.4h1.0v1.0h-1.0zM433.2 125.5h1.0v1.0h-1.0zM436.5 123.7h1.0v1.0h-1.0zM438.6 119.4h1.0v1.0h-1.0zM437.0 119.4h1.0v1.0h-1.0zM434.1 121.7h1.0v1.0h-1.0zM438.0 117.3h1.0v1.0h-1.0zM433.7 123.4h1.0v1.0h-1.0zM435.9 124.0h1.0v1.0h-1.0zM435.8 118.6h1.0v1.0h-1.0z" fill="#e0600e" fill-opacity="0.85"/>
<path d="M438.1 125.5h0.7v0.7h-0.7zM432.6 124.7h0.7v0.7h-0.7zM441.9 121.2h0.7v0.7h-0.7zM432.3 122.3h0.7v0.7h-0.7zM435.7 124.8h0.7v0.7h-0.7zM430.8 121.9h0.7v0.7h-0.7zM438.4 126.1h0.7v0.7h-0.7zM436.9 128.6h0.7v0.7h-0.7zM431.7 127.7h0.7v0.7h-0.7zM437.8 116.3h0.7v0.7h-0.7zM434.6 122.9h0.7v0.7h-0.7zM435.7 129.3h0.7v0.7h-0.7zM437.2 118.9h0.7v0.7h-0.7zM444.1 121.4h0.7v0.7h-0.7zM432.0 126.1h0.7v0.7h-0.7zM435.4 117.0h0.7v0.7h-0.7zM430.9 127.4h0.7v0.7h-0.7zM432.1 121.4h0.7v0.7h-0.7zM434.6 120.2h0.7v0.7h-0.7zM432.9 121.9h0.7v0.7h-0.7zM437.0 127.8h0.7v0.7h-0.7zM436.0 114.9h0.7v0.7h-0.7zM430.7 120.6h0.7v0.7h-0.7zM436.0 122.3h0.7v0.7h-0.7zM431.8 117.1h0.7v0.7h-0.7zM432.6 124.8h0.7v0.7h-0.7zM433.9 124.7h0.7v0.7h-0.7zM440.0 111.4h0.7v0.7h-0.7zM433.8 128.4h0.7v0.7h-0.7zM434.0 122.0h0.7v0.7h-0.7zM436.9 114.8h0.7v0.7h-0.7zM443.9 122.5h0.7v0.7h-0.7zM438.8 119.6h0.7v0.7h-0.7zM439.7 129.0h0.7v0.7h-0.7zM439.1 127.7h0.7v0.7h-0.7zM436.9 129.8h0.7v0.7h-0.7zM437.3 122.7h0.7v0.7h-0.7zM439.9 117.3h0.7v0.7h-0.7zM426.1 124.3h0.7v0.7h-0.7zM437.3 117.9h0.7v0.7h-0.7zM436.1 116.2h0.7v0.7h-0.7zM432.8 122.1h0.7v0.7h-0.7zM435.5 126.3h0.7v0.7h-0.7zM435.0 125.0h0.7v0.7h-0.7zM439.2 118.3h0.7v0.7h-0.7zM430.8 116.7h0.7v0.7h-0.7zM435.7 118.5h0.7v0.7h-0.7zM444.6 119.5h0.7v0.7h-0.7zM438.5 117.8h0.7v0.7h-0.7zM439.8 115.2h0.7v0.7h-0.7zM439.2 123.3h0.7v0.7h-0.7zM435.9 114.8h0.7v0.7h-0.7zM442.5 119.7h0.7v0.7h-0.7zM429.7 130.7h0.7v0.7h-0.7zM442.3 123.0h0.7v0.7h-0.7zM438.8 125.7h0.7v0.7h-0.7zM434.6 122.1h0.7v0.7h-0.7zM433.4 113.5h0.7v0.7h-0.7zM435.6 125.7h0.7v0.7h-0.7zM437.9 115.0h0.7v0.7h-0.7zM438.9 122.8h0.7v0.7h-0.7zM439.0 120.6h0.7v0.7h-0.7zM433.9 127.2h0.7v0.7h-0.7zM442.2 116.0h0.7v0.7h-0.7zM431.0 126.2h0.7v0.7h-0.7zM437.2 122.2h0.7v0.7h-0.7zM431.4 126.5h0.7v0.7h-0.7zM436.4 123.0h0.7v0.7h-0.7zM437.9 119.1h0.7v0.7h-0.7zM437.2 122.7h0.7v0.7h-0.7z" fill="#e87a30" fill-opacity="0.55"/>
<path d="M429.0 136.2h0.8v0.8h-0.8zM432.0 139.7h0.8v0.8h-0.8zM430.2 138.4h0.8v0.8h-0.8zM430.5 139.0h0.8v0.8h-0.8zM429.2 139.4h0.8v0.8h-0.8zM428.5 142.3h0.8v0.8h-0.8zM429.8 138.8h0.8v0.8h-0.8zM429.6 137.7h0.8v0.8h-0.8zM430.1 139.6h0.8v0.8h-0.8zM433.2 141.5h0.8v0.8h-0.8zM434.3 137.8h0.8v0.8h-0.8zM431.8 136.8h0.8v0.8h-0.8z" fill="#4a5cff" fill-opacity="0.7"/>
<path d="M250.4,109 V133.6 H275.8" fill="none" stroke="#444" stroke-width="0.9"/>
<path d="M249.9,109 H276.2" fill="none" stroke="#111" stroke-width="1.4"/>
<path d="M306.6,109 V132.5 H334.0" fill="none" stroke="#444" stroke-width="0.9"/>
<path d="M306.1,109 H334.4" fill="none" stroke="#111" stroke-width="1.4"/>
<path d="M369.5,108.9 V133.6 H395.2" fill="none" stroke="#444" stroke-width="0.9"/>
<path d="M369.0,108.9 H395.59999999999997" fill="none" stroke="#111" stroke-width="1.4"/>
<path d="M425.4,109 V132.5 H453.5" fill="none" stroke="#444" stroke-width="0.9"/>
<path d="M424.9,109 H453.9" fill="none" stroke="#111" stroke-width="1.4"/>
<path d="M250.4,109 V133.6" stroke="#111" stroke-width="1.3"/>
<path d="M306.6,109 V132.5" stroke="#222" stroke-width="1.2"/>
<text x="263.50" y="140.60" font-size="3.6" fill="#111" stroke="#111" stroke-width="0.15">CAR</text>
<text x="270.50" y="140.40" font-size="3.6" fill="#333" stroke="#333" stroke-width="0.22">+</text>
<text x="319.50" y="140.60" font-size="3.6" fill="#111" stroke="#111" stroke-width="0.15">CAR</text>
<text x="326.50" y="140.40" font-size="3.6" fill="#333" stroke="#333" stroke-width="0.22">+</text>
<text x="378.00" y="140.60" font-size="4.6" fill="#444" textLength="14.0" lengthAdjust="spacingAndGlyphs" stroke="#444" stroke-width="0.1">CAR +</text>
<text x="437.40" y="139.60" font-size="4.6" fill="#444" textLength="11.7" lengthAdjust="spacingAndGlyphs" stroke="#444" stroke-width="0.1">CAR +</text>
<text x="255.90" y="106.10" font-size="6.6" fill="#b02a55" textLength="7.9" lengthAdjust="spacingAndGlyphs" stroke="#b02a55" stroke-width="0.08">0.8</text>
<text x="316.00" y="106.10" font-size="6.6" fill="#b02a55" textLength="7.4" lengthAdjust="spacingAndGlyphs" stroke="#b02a55" stroke-width="0.08">0.6</text>
<text x="374.60" y="105.80" font-size="6.6" fill="#b02a55" textLength="10.9" lengthAdjust="spacingAndGlyphs" stroke="#b02a55" stroke-width="0.08">99.8</text>
<text x="433.50" y="105.80" font-size="6.6" fill="#b02a55" textLength="10.8" lengthAdjust="spacingAndGlyphs" stroke="#b02a55" stroke-width="0.08">99.4</text>
<path d="M224.6,149.6 V131.4" stroke="#1a1a1a" stroke-width="1.1"/>
<path d="M224.6,127.4 L222.29999999999998,133.20000000000002 L224.6,132.0 L226.9,133.20000000000002 Z" fill="#1a1a1a"/>
<text transform="translate(227.1,123.4) rotate(-90)" font-size="6.8" fill="#222" textLength="10.2" lengthAdjust="spacingAndGlyphs">CAR</text>
<path d="M235.2,154.2 H254.39999999999998" stroke="#1a1a1a" stroke-width="1.15"/>
<path d="M258.4,154.2 L252.39999999999998,151.7 L253.59999999999997,154.2 L252.39999999999998,156.7 Z" fill="#1a1a1a"/>
<text x="261.70" y="156.30" font-size="6.8" fill="#222" textLength="11.1" lengthAdjust="spacingAndGlyphs" stroke="#222" stroke-width="0.22">CD4</text>
<path d="M290.3,154.2 H309.5" stroke="#1a1a1a" stroke-width="1.15"/>
<path d="M313.5,154.2 L307.5,151.7 L308.7,154.2 L307.5,156.7 Z" fill="#1a1a1a"/>
<text x="317.00" y="156.30" font-size="6.8" fill="#222" textLength="10.9" lengthAdjust="spacingAndGlyphs" stroke="#222" stroke-width="0.22">CD8</text>
<path d="M355.0,153.6 H373.4" stroke="#1a1a1a" stroke-width="1.15"/>
<path d="M377.4,153.6 L371.4,151.1 L372.59999999999997,153.6 L371.4,156.1 Z" fill="#1a1a1a"/>
<text x="381.00" y="155.80" font-size="6.8" fill="#222" textLength="11.5" lengthAdjust="spacingAndGlyphs" stroke="#222" stroke-width="0.22">CD4</text>
<path d="M410.4,153.6 H428.3" stroke="#1a1a1a" stroke-width="1.15"/>
<path d="M432.3,153.6 L426.3,151.1 L427.5,153.6 L426.3,156.1 Z" fill="#1a1a1a"/>
<text x="436.50" y="155.80" font-size="6.8" fill="#222" textLength="11.5" lengthAdjust="spacingAndGlyphs" stroke="#222" stroke-width="0.22">CD8</text>
<text x="8.55" y="176.70" font-size="10.9" fill="#111" textLength="6.4" lengthAdjust="spacingAndGlyphs" stroke="#111" stroke-width="0.3">C</text>
<path d="M33.5,183.6 V268.7" stroke="#111" stroke-width="1.1"/>
<path d="M30.5,268.70 H33.5M30.5,256.92 H33.5M30.5,245.14 H33.5M30.5,233.36 H33.5M30.5,221.58 H33.5M30.5,209.80 H33.5M30.5,198.02 H33.5M30.5,186.24 H33.5" stroke="#111" stroke-width="1.1"/>
<text x="27.20" y="270.68" font-size="5.5" fill="#444" text-anchor="end" stroke="#444" stroke-width="0.22">0</text>
<text x="27.20" y="258.90" font-size="5.5" fill="#444" text-anchor="end" stroke="#444" stroke-width="0.22">1</text>
<text x="27.20" y="247.12" font-size="5.5" fill="#444" text-anchor="end" stroke="#444" stroke-width="0.22">2</text>
<text x="27.20" y="235.34" font-size="5.5" fill="#444" text-anchor="end" stroke="#444" stroke-width="0.22">3</text>
<text x="27.20" y="223.56" font-size="5.5" fill="#444" text-anchor="end" stroke="#444" stroke-width="0.22">4</text>
<text x="27.20" y="211.78" font-size="5.5" fill="#444" text-anchor="end" stroke="#444" stroke-width="0.22">5</text>
<text x="27.20" y="200.00" font-size="5.5" fill="#444" text-anchor="end" stroke="#444" stroke-width="0.22">6</text>
<text x="27.20" y="188.22" font-size="5.5" fill="#444" text-anchor="end" stroke="#444" stroke-width="0.22">7</text>
<rect x="37.50" y="260.93" width="12.60" height="7.77" fill="#a3042c"/>
<path d="M43.80,260.93 V260.22 M42.00,260.22 H45.60" stroke="#111" stroke-width="1.05"/>
<rect x="72.60" y="229.00" width="12.60" height="39.70" fill="#a3042c"/>
<path d="M78.90,229.00 V225.35 M77.10,225.35 H80.70" stroke="#111" stroke-width="1.05"/>
<rect x="107.30" y="202.14" width="12.60" height="66.56" fill="#a3042c"/>
<path d="M113.60,202.14 V198.96 M111.80,198.96 H115.40" stroke="#111" stroke-width="1.05"/>
<rect x="142.20" y="206.85" width="12.60" height="61.84" fill="#a3042c"/>
<path d="M148.50,206.85 V204.73 M146.70,204.73 H150.30" stroke="#111" stroke-width="1.05"/>
<rect x="51.70" y="265.05" width="12.30" height="3.65" fill="#2b4888" stroke="#1a2f6a" stroke-width="0.5"/>
<path d="M57.85,265.05 V264.81 M56.05,264.81 H59.65" stroke="#111" stroke-width="1.05"/>
<rect x="86.60" y="264.22" width="12.30" height="4.48" fill="#2b4888" stroke="#1a2f6a" stroke-width="0.5"/>
<path d="M92.75,264.22 V263.99 M90.95,263.99 H94.55" stroke="#111" stroke-width="1.05"/>
<rect x="121.10" y="264.34" width="12.30" height="4.36" fill="#2b4888" stroke="#1a2f6a" stroke-width="0.5"/>
<path d="M127.25,264.34 V264.11 M125.45,264.11 H129.05" stroke="#111" stroke-width="1.05"/>
<rect x="156.50" y="264.46" width="12.30" height="4.24" fill="#2b4888" stroke="#1a2f6a" stroke-width="0.5"/>
<path d="M162.65,264.46 V263.16 M160.85,263.16 H164.45" stroke="#111" stroke-width="1.05"/>
<path d="M33.0,268.7 H175.3" stroke="#111" stroke-width="1.2"/>
<path d="M33.50,268.7 V271.3M68.30,268.7 V271.3M102.60,268.7 V271.3M137.10,268.7 V271.3M171.60,268.7 V271.3" stroke="#111" stroke-width="0.9"/>
<text x="50.60" y="280.30" font-size="6.0" fill="#333" text-anchor="middle" stroke="#333" stroke-width="0.22">8</text>
<text x="85.30" y="280.30" font-size="6.0" fill="#333" text-anchor="middle" stroke="#333" stroke-width="0.22">40</text>
<text x="120.60" y="280.30" font-size="6.0" fill="#333" text-anchor="middle" stroke="#333" stroke-width="0.22">200</text>
<text x="155.40" y="280.30" font-size="6.0" fill="#333" text-anchor="middle" stroke="#333" stroke-width="0.22">1000</text>
<rect x="36.30" y="186.40" width="7.30" height="6.00" fill="#a3042c"/>
<rect x="36.30" y="197.60" width="7.30" height="6.00" fill="#2b4888" stroke="#1a2f6a" stroke-width="0.5"/>
<text x="46.40" y="191.30" font-size="6.0" fill="#333" textLength="9.9" lengthAdjust="spacingAndGlyphs" stroke="#333" stroke-width="0.12">WT1</text>
<text x="56.90" y="193.40" font-size="3.4" fill="#666" textLength="10.6" lengthAdjust="spacingAndGlyphs" stroke="#666" stroke-width="0.05">235-243</text>
<text x="46.50" y="203.00" font-size="5.8" fill="#333" textLength="21.6" lengthAdjust="spacingAndGlyphs" font-style="italic" stroke="#333" stroke-width="0.12">MAGE-A4</text>
<text x="68.50" y="204.30" font-size="3.4" fill="#666" textLength="10.5" lengthAdjust="spacingAndGlyphs" stroke="#666" stroke-width="0.05">143-151</text>
<path d="M33.6,285.5 V370.7" stroke="#111" stroke-width="1.1"/>
<path d="M30.6,370.70 H33.6M30.6,358.90 H33.6M30.6,347.10 H33.6M30.6,335.30 H33.6M30.6,323.50 H33.6M30.6,311.70 H33.6M30.6,299.90 H33.6M30.6,288.10 H33.6" stroke="#111" stroke-width="1.1"/>
<text x="26.90" y="372.68" font-size="5.5" fill="#444" text-anchor="end" stroke="#444" stroke-width="0.22">0</text>
<text x="26.90" y="360.88" font-size="5.5" fill="#444" text-anchor="end" stroke="#444" stroke-width="0.22">10</text>
<text x="26.90" y="349.08" font-size="5.5" fill="#444" text-anchor="end" stroke="#444" stroke-width="0.22">20</text>
<text x="26.90" y="337.28" font-size="5.5" fill="#444" text-anchor="end" stroke="#444" stroke-width="0.22">30</text>
<text x="26.90" y="325.48" font-size="5.5" fill="#444" text-anchor="end" stroke="#444" stroke-width="0.22">40</text>
<text x="26.90" y="313.68" font-size="5.5" fill="#444" text-anchor="end" stroke="#444" stroke-width="0.22">50</text>
<text x="26.90" y="301.88" font-size="5.5" fill="#444" text-anchor="end" stroke="#444" stroke-width="0.22">60</text>
<text x="26.90" y="290.08" font-size="5.5" fill="#444" text-anchor="end" stroke="#444" stroke-width="0.22">70</text>
<rect x="37.40" y="320.08" width="12.30" height="50.62" fill="#a3042c"/>
<path d="M43.55,320.08 V319.25 M41.75,319.25 H45.35" stroke="#111" stroke-width="1.05"/>
<rect x="71.35" y="304.74" width="12.30" height="65.96" fill="#a3042c"/>
<path d="M77.50,304.74 V301.20 M75.70,301.20 H79.30" stroke="#111" stroke-width="1.05"/>
<rect x="105.30" y="306.98" width="12.30" height="63.72" fill="#a3042c"/>
<path d="M111.45,306.98 V301.55 M109.65,301.55 H113.25" stroke="#111" stroke-width="1.05"/>
<rect x="139.25" y="305.45" width="12.30" height="65.25" fill="#a3042c"/>
<path d="M145.40,305.45 V304.62 M143.60,304.62 H147.20" stroke="#111" stroke-width="1.05"/>
<path d="M33.1,370.7 H171.0" stroke="#111" stroke-width="1.2"/>
<path d="M33.50,370.7 V373.3M67.10,370.7 V373.3M101.00,370.7 V373.3M134.80,370.7 V373.3M169.30,370.7 V373.3" stroke="#111" stroke-width="0.9"/>
<text x="49.70" y="382.40" font-size="6.0" fill="#333" text-anchor="middle" stroke="#333" stroke-width="0.22">8</text>
<text x="84.80" y="382.40" font-size="6.0" fill="#333" text-anchor="middle" stroke="#333" stroke-width="0.22">40</text>
<text x="119.70" y="382.40" font-size="6.0" fill="#333" text-anchor="middle" stroke="#333" stroke-width="0.22">200</text>
<text x="154.90" y="382.40" font-size="6.0" fill="#333" text-anchor="middle" stroke="#333" stroke-width="0.22">1000</text>
<rect x="36.60" y="288.70" width="7.00" height="6.00" fill="#a3042c"/>
<rect x="68.20" y="288.70" width="7.10" height="6.00" fill="#2b4888" stroke="#1a2f6a" stroke-width="0.5"/>
<text x="46.40" y="293.50" font-size="6.0" fill="#333" textLength="9.6" lengthAdjust="spacingAndGlyphs" stroke="#333" stroke-width="0.12">WT1</text>
<text x="56.90" y="295.40" font-size="3.4" fill="#666" textLength="6.0" lengthAdjust="spacingAndGlyphs" stroke="#666" stroke-width="0.05">236Y</text>
<text x="77.90" y="293.50" font-size="5.8" fill="#333" textLength="21.3" lengthAdjust="spacingAndGlyphs" font-style="italic" stroke="#333" stroke-width="0.12">MAGE-A4</text>
<text x="100.20" y="295.40" font-size="3.4" fill="#666" textLength="10.3" lengthAdjust="spacingAndGlyphs" stroke="#666" stroke-width="0.05">143-151</text>
<text transform="translate(14.1,300.5) rotate(-90)" font-size="7.8" fill="#222" stroke="#222" stroke-width="0.2" textLength="48.3" lengthAdjust="spacingAndGlyphs">IFN-γ (ng/ml)</text>
<text x="37.50" y="393.80" font-size="8.2" fill="#222" textLength="120.4" lengthAdjust="spacingAndGlyphs" stroke="#222" stroke-width="0.22">Peptide loaded tetramer (ng/well)</text>
<text x="186.60" y="176.80" font-size="10.9" fill="#111" textLength="6.9" lengthAdjust="spacingAndGlyphs" stroke="#111" stroke-width="0.3">D</text>
<path d="M210.3,201.00000000000003 V268.6" stroke="#111" stroke-width="1.2"/>
<path d="M206.9,268.60 H210.3M206.9,257.70 H210.3M206.9,246.80 H210.3M206.9,235.90 H210.3M206.9,225.00 H210.3M206.9,214.10 H210.3M206.9,203.20 H210.3" stroke="#111" stroke-width="1.1"/>
<text x="203.80" y="270.51" font-size="5.3" fill="#444" text-anchor="end" stroke="#444" stroke-width="0.22">0</text>
<text x="203.80" y="259.61" font-size="5.3" fill="#444" text-anchor="end" stroke="#444" stroke-width="0.22">10</text>
<text x="203.80" y="248.71" font-size="5.3" fill="#444" text-anchor="end" stroke="#444" stroke-width="0.22">20</text>
<text x="203.80" y="237.81" font-size="5.3" fill="#444" text-anchor="end" stroke="#444" stroke-width="0.22">30</text>
<text x="203.80" y="226.91" font-size="5.3" fill="#444" text-anchor="end" stroke="#444" stroke-width="0.22">40</text>
<text x="203.80" y="216.01" font-size="5.3" fill="#444" text-anchor="end" stroke="#444" stroke-width="0.22">50</text>
<text x="203.80" y="205.11" font-size="5.3" fill="#444" text-anchor="end" stroke="#444" stroke-width="0.22">60</text>
<path d="M209.8,268.6 H285.8" stroke="#111" stroke-width="1.3"/>
<path d="M210.30,268.6 V271.40000000000003M228.50,268.6 V271.40000000000003M246.70,268.6 V271.40000000000003M265.50,268.6 V271.40000000000003M284.50,268.6 V271.40000000000003" stroke="#111" stroke-width="0.9"/>
<text x="219.20" y="280.30" font-size="5.8" fill="#333" text-anchor="middle" stroke="#333" stroke-width="0.22">30:1</text>
<text x="237.30" y="280.30" font-size="5.8" fill="#333" text-anchor="middle" stroke="#333" stroke-width="0.22">10:1</text>
<text x="255.40" y="280.30" font-size="5.8" fill="#333" text-anchor="middle" stroke="#333" stroke-width="0.22">3:1</text>
<text x="273.50" y="280.30" font-size="5.8" fill="#333" text-anchor="middle" stroke="#333" stroke-width="0.22">1:1</text>
<path d="M219.20,260.43 V252.47 M217.20,252.47 H221.20 M217.20,260.43 H221.20" stroke="#111" stroke-width="0.8"/>
<path d="M255.40,265.88 V263.15 M253.40,263.15 H257.40 M253.40,265.88 H257.40" stroke="#111" stroke-width="0.8"/>
<polyline points="219.20,256.83 237.30,261.52 255.40,264.24 273.50,264.24" fill="none" stroke="#26447f" stroke-width="1.5"/>
<circle cx="219.20" cy="268.60" r="2.65" fill="#fff" stroke="#b01e3e" stroke-width="1.45"/>
<circle cx="219.20" cy="256.83" r="2.55" fill="#26447f" stroke="#1a3266" stroke-width="0.6"/>
<circle cx="237.30" cy="261.52" r="2.55" fill="#26447f" stroke="#1a3266" stroke-width="0.6"/>
<circle cx="255.40" cy="264.24" r="2.55" fill="#26447f" stroke="#1a3266" stroke-width="0.6"/>
<circle cx="273.50" cy="264.24" r="2.55" fill="#26447f" stroke="#1a3266" stroke-width="0.6"/>
<path d="M301.6,201.20000000000002 V268.8" stroke="#111" stroke-width="1.2"/>
<path d="M298.20000000000005,268.80 H301.6M298.20000000000005,257.90 H301.6M298.20000000000005,247.00 H301.6M298.20000000000005,236.10 H301.6M298.20000000000005,225.20 H301.6M298.20000000000005,214.30 H301.6M298.20000000000005,203.40 H301.6" stroke="#111" stroke-width="1.1"/>
<text x="295.10" y="270.71" font-size="5.3" fill="#444" text-anchor="end" stroke="#444" stroke-width="0.22">0</text>
<text x="295.10" y="259.81" font-size="5.3" fill="#444" text-anchor="end" stroke="#444" stroke-width="0.22">10</text>
<text x="295.10" y="248.91" font-size="5.3" fill="#444" text-anchor="end" stroke="#444" stroke-width="0.22">20</text>
<text x="295.10" y="238.01" font-size="5.3" fill="#444" text-anchor="end" stroke="#444" stroke-width="0.22">30</text>
<text x="295.10" y="227.11" font-size="5.3" fill="#444" text-anchor="end" stroke="#444" stroke-width="0.22">40</text>
<text x="295.10" y="216.21" font-size="5.3" fill="#444" text-anchor="end" stroke="#444" stroke-width="0.22">50</text>
<text x="295.10" y="205.31" font-size="5.3" fill="#444" text-anchor="end" stroke="#444" stroke-width="0.22">60</text>
<path d="M301.1,268.8 H377.1" stroke="#111" stroke-width="1.3"/>
<path d="M301.60,268.8 V271.6M319.80,268.8 V271.6M338.00,268.8 V271.6M356.80,268.8 V271.6M375.80,268.8 V271.6" stroke="#111" stroke-width="0.9"/>
<text x="310.50" y="280.50" font-size="5.8" fill="#333" text-anchor="middle" stroke="#333" stroke-width="0.22">30:1</text>
<text x="328.60" y="280.50" font-size="5.8" fill="#333" text-anchor="middle" stroke="#333" stroke-width="0.22">10:1</text>
<text x="346.70" y="280.50" font-size="5.8" fill="#333" text-anchor="middle" stroke="#333" stroke-width="0.22">3:1</text>
<text x="364.80" y="280.50" font-size="5.8" fill="#333" text-anchor="middle" stroke="#333" stroke-width="0.22">1:1</text>
<path d="M310.50,222.48 V212.99 M308.50,212.99 H312.50 M308.50,222.48 H312.50" stroke="#111" stroke-width="0.8"/>
<path d="M346.70,224.33 V217.35 M344.70,217.35 H348.70 M344.70,224.33 H348.70" stroke="#111" stroke-width="0.8"/>
<path d="M310.50,265.97 V257.36 M308.50,257.36 H312.50 M308.50,265.97 H312.50" stroke="#111" stroke-width="0.8"/>
<path d="M346.70,268.80 V266.40 M344.70,266.40 H348.70 M344.70,268.80 H348.70" stroke="#111" stroke-width="0.8"/>
<polyline points="310.50,261.61 328.60,267.06 346.70,268.80 364.80,268.80" fill="none" stroke="#b01e3e" stroke-width="1.5"/>
<polyline points="310.50,217.90 328.60,225.53 346.70,221.06 364.80,229.89" fill="none" stroke="#26447f" stroke-width="1.5"/>
<circle cx="310.50" cy="261.61" r="2.65" fill="#fff" stroke="#b01e3e" stroke-width="1.45"/>
<circle cx="328.60" cy="267.06" r="2.65" fill="#fff" stroke="#b01e3e" stroke-width="1.45"/>
<circle cx="346.70" cy="268.80" r="2.65" fill="#fff" stroke="#b01e3e" stroke-width="1.45"/>
<circle cx="364.80" cy="268.80" r="2.65" fill="#fff" stroke="#b01e3e" stroke-width="1.45"/>
<circle cx="310.50" cy="217.90" r="2.55" fill="#26447f" stroke="#1a3266" stroke-width="0.6"/>
<circle cx="328.60" cy="225.53" r="2.55" fill="#26447f" stroke="#1a3266" stroke-width="0.6"/>
<circle cx="346.70" cy="221.06" r="2.55" fill="#26447f" stroke="#1a3266" stroke-width="0.6"/>
<circle cx="364.80" cy="229.89" r="2.55" fill="#26447f" stroke="#1a3266" stroke-width="0.6"/>
<path d="M210.6,303.20000000000005 V370.8" stroke="#111" stroke-width="1.2"/>
<path d="M207.2,370.80 H210.6M207.2,359.90 H210.6M207.2,349.00 H210.6M207.2,338.10 H210.6M207.2,327.20 H210.6M207.2,316.30 H210.6M207.2,305.40 H210.6" stroke="#111" stroke-width="1.1"/>
<text x="204.10" y="372.71" font-size="5.3" fill="#444" text-anchor="end" stroke="#444" stroke-width="0.22">0</text>
<text x="204.10" y="361.81" font-size="5.3" fill="#444" text-anchor="end" stroke="#444" stroke-width="0.22">10</text>
<text x="204.10" y="350.91" font-size="5.3" fill="#444" text-anchor="end" stroke="#444" stroke-width="0.22">20</text>
<text x="204.10" y="340.01" font-size="5.3" fill="#444" text-anchor="end" stroke="#444" stroke-width="0.22">30</text>
<text x="204.10" y="329.11" font-size="5.3" fill="#444" text-anchor="end" stroke="#444" stroke-width="0.22">40</text>
<text x="204.10" y="318.21" font-size="5.3" fill="#444" text-anchor="end" stroke="#444" stroke-width="0.22">50</text>
<text x="204.10" y="307.31" font-size="5.3" fill="#444" text-anchor="end" stroke="#444" stroke-width="0.22">60</text>
<path d="M210.1,370.8 H286.1" stroke="#111" stroke-width="1.3"/>
<path d="M210.60,370.8 V373.6M228.80,370.8 V373.6M247.00,370.8 V373.6M265.80,370.8 V373.6M284.80,370.8 V373.6" stroke="#111" stroke-width="0.9"/>
<text x="219.50" y="382.50" font-size="5.8" fill="#333" text-anchor="middle" stroke="#333" stroke-width="0.22">30:1</text>
<text x="237.60" y="382.50" font-size="5.8" fill="#333" text-anchor="middle" stroke="#333" stroke-width="0.22">10:1</text>
<text x="255.70" y="382.50" font-size="5.8" fill="#333" text-anchor="middle" stroke="#333" stroke-width="0.22">3:1</text>
<text x="273.80" y="382.50" font-size="5.8" fill="#333" text-anchor="middle" stroke="#333" stroke-width="0.22">1:1</text>
<path d="M219.50,357.72 V354.67 M217.50,354.67 H221.50 M217.50,357.72 H221.50" stroke="#111" stroke-width="0.8"/>
<path d="M255.70,370.80 V366.11 M253.70,366.11 H257.70 M253.70,370.80 H257.70" stroke="#111" stroke-width="0.8"/>
<polyline points="219.50,365.13 237.60,370.80 255.70,370.80" fill="none" stroke="#b01e3e" stroke-width="1.5"/>
<polyline points="219.50,356.09 237.60,365.46 255.70,370.80 273.80,370.80" fill="none" stroke="#26447f" stroke-width="1.5"/>
<circle cx="219.50" cy="365.13" r="2.65" fill="#fff" stroke="#b01e3e" stroke-width="1.45"/>
<circle cx="237.60" cy="370.80" r="2.65" fill="#fff" stroke="#b01e3e" stroke-width="1.45"/>
<circle cx="219.50" cy="356.09" r="2.55" fill="#26447f" stroke="#1a3266" stroke-width="0.6"/>
<circle cx="237.60" cy="365.46" r="2.55" fill="#26447f" stroke="#1a3266" stroke-width="0.6"/>
<circle cx="255.70" cy="370.80" r="2.55" fill="#26447f" stroke="#1a3266" stroke-width="0.6"/>
<circle cx="273.80" cy="370.80" r="2.55" fill="#26447f" stroke="#1a3266" stroke-width="0.6"/>
<path d="M301.6,303.29999999999995 V370.9" stroke="#111" stroke-width="1.2"/>
<path d="M298.20000000000005,370.90 H301.6M298.20000000000005,360.00 H301.6M298.20000000000005,349.10 H301.6M298.20000000000005,338.20 H301.6M298.20000000000005,327.30 H301.6M298.20000000000005,316.40 H301.6M298.20000000000005,305.50 H301.6" stroke="#111" stroke-width="1.1"/>
<text x="295.10" y="372.81" font-size="5.3" fill="#444" text-anchor="end" stroke="#444" stroke-width="0.22">0</text>
<text x="295.10" y="361.91" font-size="5.3" fill="#444" text-anchor="end" stroke="#444" stroke-width="0.22">10</text>
<text x="295.10" y="351.01" font-size="5.3" fill="#444" text-anchor="end" stroke="#444" stroke-width="0.22">20</text>
<text x="295.10" y="340.11" font-size="5.3" fill="#444" text-anchor="end" stroke="#444" stroke-width="0.22">30</text>
<text x="295.10" y="329.21" font-size="5.3" fill="#444" text-anchor="end" stroke="#444" stroke-width="0.22">40</text>
<text x="295.10" y="318.31" font-size="5.3" fill="#444" text-anchor="end" stroke="#444" stroke-width="0.22">50</text>
<text x="295.10" y="307.41" font-size="5.3" fill="#444" text-anchor="end" stroke="#444" stroke-width="0.22">60</text>
<path d="M301.1,370.9 H377.1" stroke="#111" stroke-width="1.3"/>
<path d="M301.60,370.9 V373.7M319.80,370.9 V373.7M338.00,370.9 V373.7M356.80,370.9 V373.7M375.80,370.9 V373.7" stroke="#111" stroke-width="0.9"/>
<text x="310.50" y="382.60" font-size="5.8" fill="#333" text-anchor="middle" stroke="#333" stroke-width="0.22">30:1</text>
<text x="328.60" y="382.60" font-size="5.8" fill="#333" text-anchor="middle" stroke="#333" stroke-width="0.22">10:1</text>
<text x="346.70" y="382.60" font-size="5.8" fill="#333" text-anchor="middle" stroke="#333" stroke-width="0.22">3:1</text>
<text x="364.80" y="382.60" font-size="5.8" fill="#333" text-anchor="middle" stroke="#333" stroke-width="0.22">1:1</text>
<path d="M310.50,349.32 V335.15 M308.50,335.15 H312.50 M308.50,349.32 H312.50" stroke="#111" stroke-width="0.8"/>
<path d="M328.60,359.24 V355.86 M326.60,355.86 H330.60 M326.60,359.24 H330.60" stroke="#111" stroke-width="0.8"/>
<path d="M346.70,364.36 V361.09 M344.70,361.09 H348.70 M344.70,364.36 H348.70" stroke="#111" stroke-width="0.8"/>
<path d="M364.80,370.90 V355.31 M362.80,355.31 H366.80 M362.80,370.90 H366.80" stroke="#111" stroke-width="0.8"/>
<path d="M310.50,370.90 V358.91 M308.50,358.91 H312.50 M308.50,370.90 H312.50" stroke="#111" stroke-width="0.8"/>
<path d="M328.60,370.90 V367.41 M326.60,367.41 H330.60 M326.60,370.90 H330.60" stroke="#111" stroke-width="0.8"/>
<polyline points="310.50,364.36 328.60,370.90" fill="none" stroke="#b01e3e" stroke-width="1.5"/>
<polyline points="310.50,342.34 328.60,357.49 346.70,362.94 364.80,364.90" fill="none" stroke="#26447f" stroke-width="1.5"/>
<circle cx="310.50" cy="364.36" r="2.65" fill="#fff" stroke="#b01e3e" stroke-width="1.45"/>
<circle cx="310.50" cy="342.34" r="2.55" fill="#26447f" stroke="#1a3266" stroke-width="0.6"/>
<circle cx="328.60" cy="357.49" r="2.55" fill="#26447f" stroke="#1a3266" stroke-width="0.6"/>
<circle cx="346.70" cy="362.94" r="2.55" fill="#26447f" stroke="#1a3266" stroke-width="0.6"/>
<circle cx="364.80" cy="364.90" r="2.55" fill="#26447f" stroke="#1a3266" stroke-width="0.6"/>
<text x="238.90" y="195.50" font-size="8.5" fill="#111" textLength="18.8" lengthAdjust="spacingAndGlyphs" stroke="#111" stroke-width="0.22">None</text>
<text x="324.90" y="193.50" font-size="8.6" fill="#111" textLength="14.8" lengthAdjust="spacingAndGlyphs" stroke="#111" stroke-width="0.22">WT1</text>
<text x="341.00" y="195.40" font-size="5.7" fill="#111" textLength="12.8" lengthAdjust="spacingAndGlyphs" stroke="#111" stroke-width="0.22">236Y</text>
<text x="231.40" y="297.90" font-size="8.8" fill="#111" textLength="33.5" lengthAdjust="spacingAndGlyphs" stroke="#111" stroke-width="0.22">MAGE-A4</text>
<text x="320.60" y="295.30" font-size="8.6" fill="#111" textLength="14.8" lengthAdjust="spacingAndGlyphs" stroke="#111" stroke-width="0.22">WT1</text>
<text x="336.70" y="297.80" font-size="5.7" fill="#111" textLength="21.6" lengthAdjust="spacingAndGlyphs" stroke="#111" stroke-width="0.22">235-243</text>
<text transform="translate(191.6,313.2) rotate(-90)" font-size="7.8" fill="#222" stroke="#222" stroke-width="0.2" textLength="48.2" lengthAdjust="spacingAndGlyphs">% specific lysis</text>
<text x="273.10" y="394.10" font-size="8.8" fill="#111" textLength="28.0" lengthAdjust="spacingAndGlyphs" font-weight="bold" stroke="#111" stroke-width="0.1">E:T ratio</text>
<circle cx="262.8" cy="402.5" r="2.3" fill="#fff" stroke="#b01e3e" stroke-width="1.1"/>
<text x="268.50" y="404.20" font-size="5.0" fill="#333" textLength="16.4" lengthAdjust="spacingAndGlyphs" stroke="#333" stroke-width="0.22">Mock-T</text>
<circle cx="294.3" cy="402.5" r="2.6" fill="#26447f"/>
<text x="299.40" y="404.20" font-size="5.0" fill="#333" textLength="13.7" lengthAdjust="spacingAndGlyphs" stroke="#333" stroke-width="0.22">CAR-T</text>
<text x="387.90" y="176.80" font-size="10.9" fill="#111" textLength="5.2" lengthAdjust="spacingAndGlyphs" stroke="#111" stroke-width="0.3">E</text>
<path d="M415.7,192.0 V268.6" stroke="#111" stroke-width="1.3"/>
<path d="M412.7,268.60 H415.7M412.7,259.33 H415.7M412.7,250.05 H415.7M412.7,240.78 H415.7M412.7,231.50 H415.7M412.7,222.23 H415.7M412.7,212.95 H415.7M412.7,203.68 H415.7M412.7,194.40 H415.7" stroke="#111" stroke-width="1.1"/>
<text x="410.00" y="270.87" font-size="6.3" fill="#444" text-anchor="end" stroke="#444" stroke-width="0.22">0.0</text>
<text x="410.00" y="261.59" font-size="6.3" fill="#444" text-anchor="end" stroke="#444" stroke-width="0.22">0.5</text>
<text x="410.00" y="252.32" font-size="6.3" fill="#444" text-anchor="end" stroke="#444" stroke-width="0.22">1.0</text>
<text x="410.00" y="243.04" font-size="6.3" fill="#444" text-anchor="end" stroke="#444" stroke-width="0.22">1.5</text>
<text x="410.00" y="233.77" font-size="6.3" fill="#444" text-anchor="end" stroke="#444" stroke-width="0.22">2.0</text>
<text x="410.00" y="224.49" font-size="6.3" fill="#444" text-anchor="end" stroke="#444" stroke-width="0.22">2.5</text>
<text x="410.00" y="215.22" font-size="6.3" fill="#444" text-anchor="end" stroke="#444" stroke-width="0.22">3.0</text>
<text x="410.00" y="205.94" font-size="6.3" fill="#444" text-anchor="end" stroke="#444" stroke-width="0.22">3.5</text>
<text x="410.00" y="196.67" font-size="6.3" fill="#444" text-anchor="end" stroke="#444" stroke-width="0.22">4.0</text>
<rect x="421.70" y="242.44" width="19.30" height="26.16" fill="#a3042c"/>
<rect x="453.30" y="242.44" width="19.20" height="26.16" fill="#a3042c"/>
<rect x="484.50" y="199.78" width="19.50" height="68.82" fill="#a3042c"/>
<path d="M415.2,268.6 H512.0" stroke="#111" stroke-width="1.2"/>
<path d="M415.70,268.6 V271.20000000000005M447.60,268.6 V271.20000000000005M479.20,268.6 V271.20000000000005M511.20,268.6 V271.20000000000005" stroke="#111" stroke-width="0.9"/>
<text x="431.30" y="280.60" font-size="6.8" fill="#333" text-anchor="middle" textLength="14.2" lengthAdjust="spacingAndGlyphs" stroke="#333" stroke-width="0.22">None</text>
<text x="453.60" y="280.60" font-size="6.8" fill="#333" textLength="18.6" lengthAdjust="spacingAndGlyphs" stroke="#333" stroke-width="0.22">MAGE-</text>
<text x="453.40" y="287.90" font-size="6.8" fill="#333" textLength="6.0" lengthAdjust="spacingAndGlyphs" stroke="#333" stroke-width="0.22">A4</text>
<text x="459.80" y="289.70" font-size="4.0" fill="#555" textLength="13.2" lengthAdjust="spacingAndGlyphs" stroke="#555" stroke-width="0.1">143-151</text>
<text x="480.90" y="280.60" font-size="6.8" fill="#333" textLength="11.6" lengthAdjust="spacingAndGlyphs" stroke="#333" stroke-width="0.22">WT1</text>
<text x="493.10" y="282.30" font-size="4.0" fill="#555" textLength="14.3" lengthAdjust="spacingAndGlyphs" stroke="#555" stroke-width="0.1">235-243</text>
<path d="M415.6,300.9 V378.6" stroke="#111" stroke-width="1.3"/>
<path d="M412.6,378.60 H415.6M412.6,363.76 H415.6M412.6,348.92 H415.6M412.6,334.08 H415.6M412.6,319.24 H415.6M412.6,304.40 H415.6" stroke="#111" stroke-width="1.1"/>
<text x="410.00" y="380.58" font-size="5.5" fill="#444" text-anchor="end" stroke="#444" stroke-width="0.22">0</text>
<text x="410.00" y="365.74" font-size="5.5" fill="#444" text-anchor="end" stroke="#444" stroke-width="0.22">20</text>
<text x="410.00" y="350.90" font-size="5.5" fill="#444" text-anchor="end" stroke="#444" stroke-width="0.22">40</text>
<text x="410.00" y="336.06" font-size="5.5" fill="#444" text-anchor="end" stroke="#444" stroke-width="0.22">60</text>
<text x="410.00" y="321.22" font-size="5.5" fill="#444" text-anchor="end" stroke="#444" stroke-width="0.22">80</text>
<text x="410.00" y="306.38" font-size="5.5" fill="#444" text-anchor="end" stroke="#444" stroke-width="0.22">100</text>
<rect x="421.70" y="377.00" width="19.30" height="1.60" fill="#a3042c"/>
<rect x="453.30" y="377.00" width="19.20" height="1.60" fill="#a3042c"/>
<rect x="484.50" y="317.76" width="19.50" height="60.84" fill="#a3042c"/>
<path d="M415.1,378.6 H512.6" stroke="#111" stroke-width="1.2"/>
<path d="M415.60,378.6 V381.20000000000005M447.40,378.6 V381.20000000000005M479.20,378.6 V381.20000000000005M511.20,378.6 V381.20000000000005" stroke="#111" stroke-width="0.9"/>
<text x="431.30" y="390.50" font-size="6.8" fill="#333" text-anchor="middle" textLength="14.2" lengthAdjust="spacingAndGlyphs" stroke="#333" stroke-width="0.22">None</text>
<text x="453.60" y="390.50" font-size="6.8" fill="#333" textLength="18.6" lengthAdjust="spacingAndGlyphs" stroke="#333" stroke-width="0.22">MAGE-</text>
<text x="453.40" y="397.60" font-size="6.8" fill="#333" textLength="6.0" lengthAdjust="spacingAndGlyphs" stroke="#333" stroke-width="0.22">A4</text>
<text x="459.80" y="399.50" font-size="4.0" fill="#555" textLength="13.2" lengthAdjust="spacingAndGlyphs" stroke="#555" stroke-width="0.1">143-151</text>
<text x="484.00" y="390.50" font-size="6.8" fill="#333" textLength="11.4" lengthAdjust="spacingAndGlyphs" stroke="#333" stroke-width="0.22">WT1</text>
<text x="495.80" y="392.30" font-size="4.0" fill="#555" textLength="7.2" lengthAdjust="spacingAndGlyphs" stroke="#555" stroke-width="0.1">236Y</text>
<text transform="translate(393.4,323.6) rotate(-90)" font-size="8.2" fill="#222" stroke="#222" stroke-width="0.2" textLength="72.7" lengthAdjust="spacingAndGlyphs">% IFN-γ positive cells</text>
<rect x="0" y="0" width="520" height="1" fill="#050505"/>
<rect x="0" y="1" width="520" height="1" fill="#000" fill-opacity="0.10"/>
<rect x="0" y="0" width="1" height="412" fill="#1e1e1e"/>
<rect x="1" y="0" width="1" height="412" fill="#000" fill-opacity="0.5"/>
<rect x="519" y="0" width="1" height="412" fill="#050505"/>
<rect x="518" y="0" width="1" height="412" fill="#000" fill-opacity="0.12"/>
<rect x="0" y="410" width="520" height="1" fill="#5a5a5a"/>
<rect x="0" y="411" width="520" height="1" fill="#333"/>
</svg></body></html>
